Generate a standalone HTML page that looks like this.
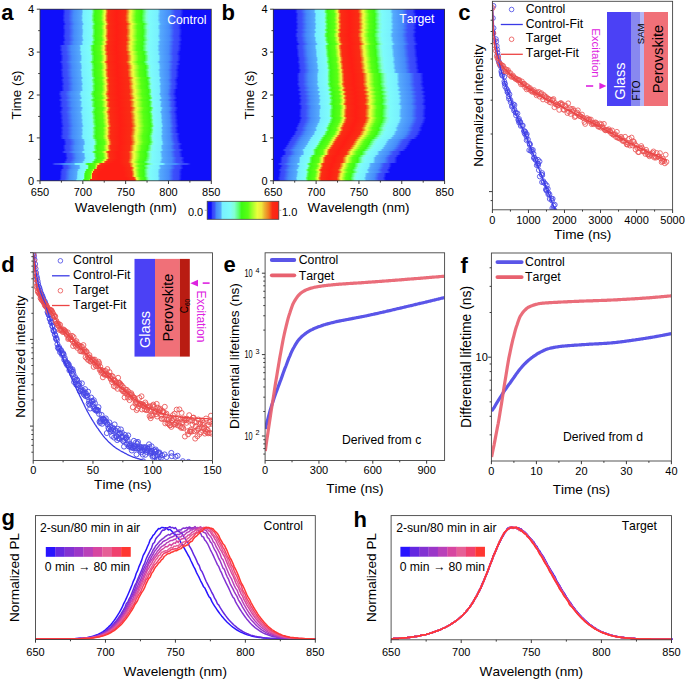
<!DOCTYPE html><html><head><meta charset="utf-8"><style>html,body{margin:0;padding:0;background:#fff;width:685px;height:681px;overflow:hidden}svg{display:block}text{font-family:"Liberation Sans",sans-serif;font-kerning:none}</style></head><body>
<svg width="685" height="681" viewBox="0 0 685 681">
<defs><linearGradient id="gat0" gradientUnits="userSpaceOnUse" x1="-302.6" y1="0" x2="553.9" y2="0"><stop offset="0.4370" stop-color="#0f0ffa"/><stop offset="0.4400" stop-color="#3746fa"/><stop offset="0.4440" stop-color="#3c50fa"/><stop offset="0.4500" stop-color="#468cfa"/><stop offset="0.4590" stop-color="#55aafc"/><stop offset="0.4610" stop-color="#78f0ff"/><stop offset="0.4700" stop-color="#7dfcfa"/><stop offset="0.4713" stop-color="#82ffd2"/><stop offset="0.4726" stop-color="#5aff6e"/><stop offset="0.4746" stop-color="#3cfa14"/><stop offset="0.4820" stop-color="#5aff14"/><stop offset="0.4837" stop-color="#96ff28"/><stop offset="0.4860" stop-color="#ebff3c"/><stop offset="0.4869" stop-color="#f0e63c"/><stop offset="0.4875" stop-color="#ebb432"/><stop offset="0.4884" stop-color="#f0781e"/><stop offset="0.4901" stop-color="#fa2d14"/><stop offset="0.5000" stop-color="#ff1e14"/><stop offset="0.5000" stop-color="#ff1e14"/><stop offset="0.5103" stop-color="#fa2d14"/><stop offset="0.5125" stop-color="#f0781e"/><stop offset="0.5140" stop-color="#ebb432"/><stop offset="0.5151" stop-color="#f0e63c"/><stop offset="0.5167" stop-color="#ebff3c"/><stop offset="0.5202" stop-color="#96ff28"/><stop offset="0.5230" stop-color="#5aff14"/><stop offset="0.5293" stop-color="#3cfa14"/><stop offset="0.5317" stop-color="#5aff6e"/><stop offset="0.5349" stop-color="#82ffd2"/><stop offset="0.5380" stop-color="#7dfcfa"/><stop offset="0.5480" stop-color="#78f0ff"/><stop offset="0.5510" stop-color="#55aafc"/><stop offset="0.5620" stop-color="#468cfa"/><stop offset="0.5680" stop-color="#3c50fa"/><stop offset="0.5740" stop-color="#3746fa"/><stop offset="0.5780" stop-color="#0f0ffa"/></linearGradient><linearGradient id="ga0" href="#gat0" gradientTransform="translate(-8.98 0)"/><linearGradient id="ga1" href="#gat0" gradientTransform="translate(-8.81 0)"/><linearGradient id="ga2" href="#gat0" gradientTransform="translate(-9.08 0)"/><linearGradient id="ga3" href="#gat0" gradientTransform="translate(-9.38 0)"/><linearGradient id="ga4" href="#gat0" gradientTransform="translate(-9.14 0)"/><linearGradient id="ga5" href="#gat0" gradientTransform="translate(-9.39 0)"/><linearGradient id="ga6" href="#gat0" gradientTransform="translate(-8.83 0)"/><linearGradient id="gat1" gradientUnits="userSpaceOnUse" x1="-302.6" y1="0" x2="553.9" y2="0"><stop offset="0.4370" stop-color="#0f0ffa"/><stop offset="0.4400" stop-color="#3746fa"/><stop offset="0.4440" stop-color="#3c50fa"/><stop offset="0.4500" stop-color="#468cfa"/><stop offset="0.4590" stop-color="#55aafc"/><stop offset="0.4610" stop-color="#78f0ff"/><stop offset="0.4700" stop-color="#7dfcfa"/><stop offset="0.4713" stop-color="#82ffd2"/><stop offset="0.4726" stop-color="#5aff6e"/><stop offset="0.4746" stop-color="#3cfa14"/><stop offset="0.4820" stop-color="#5aff14"/><stop offset="0.4837" stop-color="#96ff28"/><stop offset="0.4860" stop-color="#ebff3c"/><stop offset="0.4869" stop-color="#f0e63c"/><stop offset="0.4875" stop-color="#ebb432"/><stop offset="0.4884" stop-color="#f0781e"/><stop offset="0.4901" stop-color="#fa2d14"/><stop offset="0.5000" stop-color="#ff1e14"/><stop offset="0.5000" stop-color="#ff1e14"/><stop offset="0.5109" stop-color="#fa2d14"/><stop offset="0.5131" stop-color="#f0781e"/><stop offset="0.5146" stop-color="#ebb432"/><stop offset="0.5157" stop-color="#f0e63c"/><stop offset="0.5174" stop-color="#ebff3c"/><stop offset="0.5211" stop-color="#96ff28"/><stop offset="0.5240" stop-color="#5aff14"/><stop offset="0.5305" stop-color="#3cfa14"/><stop offset="0.5329" stop-color="#5aff6e"/><stop offset="0.5356" stop-color="#82ffd2"/><stop offset="0.5384" stop-color="#7dfcfa"/><stop offset="0.5480" stop-color="#78f0ff"/><stop offset="0.5508" stop-color="#55aafc"/><stop offset="0.5612" stop-color="#468cfa"/><stop offset="0.5668" stop-color="#3c50fa"/><stop offset="0.5720" stop-color="#3746fa"/><stop offset="0.5760" stop-color="#0f0ffa"/></linearGradient><linearGradient id="ga7" href="#gat1" gradientTransform="translate(-8.16 0)"/><linearGradient id="ga8" href="#gat1" gradientTransform="translate(-9.08 0)"/><linearGradient id="ga9" href="#gat1" gradientTransform="translate(-9.12 0)"/><linearGradient id="ga10" href="#gat1" gradientTransform="translate(-8.53 0)"/><linearGradient id="ga11" href="#gat1" gradientTransform="translate(-8.58 0)"/><linearGradient id="ga12" href="#gat1" gradientTransform="translate(-8.69 0)"/><linearGradient id="ga13" href="#gat1" gradientTransform="translate(-9.20 0)"/><linearGradient id="ga14" href="#gat1" gradientTransform="translate(-8.72 0)"/><linearGradient id="ga15" href="#gat1" gradientTransform="translate(-8.33 0)"/><linearGradient id="ga16" href="#gat1" gradientTransform="translate(-9.36 0)"/><linearGradient id="ga17" href="#gat1" gradientTransform="translate(-8.88 0)"/><linearGradient id="gat2" gradientUnits="userSpaceOnUse" x1="-302.6" y1="0" x2="553.9" y2="0"><stop offset="0.4338" stop-color="#0f0ffa"/><stop offset="0.4370" stop-color="#3746fa"/><stop offset="0.4412" stop-color="#3c50fa"/><stop offset="0.4475" stop-color="#468cfa"/><stop offset="0.4570" stop-color="#55aafc"/><stop offset="0.4590" stop-color="#78f0ff"/><stop offset="0.4685" stop-color="#7dfcfa"/><stop offset="0.4699" stop-color="#82ffd2"/><stop offset="0.4712" stop-color="#5aff6e"/><stop offset="0.4734" stop-color="#3cfa14"/><stop offset="0.4811" stop-color="#5aff14"/><stop offset="0.4829" stop-color="#96ff28"/><stop offset="0.4853" stop-color="#ebff3c"/><stop offset="0.4862" stop-color="#f0e63c"/><stop offset="0.4869" stop-color="#ebb432"/><stop offset="0.4878" stop-color="#f0781e"/><stop offset="0.4896" stop-color="#fa2d14"/><stop offset="0.5000" stop-color="#ff1e14"/><stop offset="0.5000" stop-color="#ff1e14"/><stop offset="0.5109" stop-color="#fa2d14"/><stop offset="0.5131" stop-color="#f0781e"/><stop offset="0.5146" stop-color="#ebb432"/><stop offset="0.5157" stop-color="#f0e63c"/><stop offset="0.5174" stop-color="#ebff3c"/><stop offset="0.5211" stop-color="#96ff28"/><stop offset="0.5240" stop-color="#5aff14"/><stop offset="0.5305" stop-color="#3cfa14"/><stop offset="0.5329" stop-color="#5aff6e"/><stop offset="0.5356" stop-color="#82ffd2"/><stop offset="0.5384" stop-color="#7dfcfa"/><stop offset="0.5480" stop-color="#78f0ff"/><stop offset="0.5508" stop-color="#55aafc"/><stop offset="0.5612" stop-color="#468cfa"/><stop offset="0.5668" stop-color="#3c50fa"/><stop offset="0.5720" stop-color="#3746fa"/><stop offset="0.5760" stop-color="#0f0ffa"/></linearGradient><linearGradient id="ga18" href="#gat2" gradientTransform="translate(-9.60 0)"/><linearGradient id="ga19" href="#gat2" gradientTransform="translate(-9.27 0)"/><linearGradient id="ga20" href="#gat2" gradientTransform="translate(-9.53 0)"/><linearGradient id="gat3" gradientUnits="userSpaceOnUse" x1="-302.6" y1="0" x2="553.9" y2="0"><stop offset="0.4338" stop-color="#0f0ffa"/><stop offset="0.4370" stop-color="#3746fa"/><stop offset="0.4412" stop-color="#3c50fa"/><stop offset="0.4475" stop-color="#468cfa"/><stop offset="0.4570" stop-color="#55aafc"/><stop offset="0.4590" stop-color="#78f0ff"/><stop offset="0.4685" stop-color="#7dfcfa"/><stop offset="0.4699" stop-color="#82ffd2"/><stop offset="0.4712" stop-color="#5aff6e"/><stop offset="0.4734" stop-color="#3cfa14"/><stop offset="0.4811" stop-color="#5aff14"/><stop offset="0.4829" stop-color="#96ff28"/><stop offset="0.4853" stop-color="#ebff3c"/><stop offset="0.4862" stop-color="#f0e63c"/><stop offset="0.4869" stop-color="#ebb432"/><stop offset="0.4878" stop-color="#f0781e"/><stop offset="0.4896" stop-color="#fa2d14"/><stop offset="0.5000" stop-color="#ff1e14"/><stop offset="0.5000" stop-color="#ff1e14"/><stop offset="0.5114" stop-color="#fa2d14"/><stop offset="0.5137" stop-color="#f0781e"/><stop offset="0.5152" stop-color="#ebb432"/><stop offset="0.5163" stop-color="#f0e63c"/><stop offset="0.5180" stop-color="#ebff3c"/><stop offset="0.5220" stop-color="#96ff28"/><stop offset="0.5250" stop-color="#5aff14"/><stop offset="0.5317" stop-color="#3cfa14"/><stop offset="0.5340" stop-color="#5aff6e"/><stop offset="0.5364" stop-color="#82ffd2"/><stop offset="0.5388" stop-color="#7dfcfa"/><stop offset="0.5480" stop-color="#78f0ff"/><stop offset="0.5506" stop-color="#55aafc"/><stop offset="0.5604" stop-color="#468cfa"/><stop offset="0.5656" stop-color="#3c50fa"/><stop offset="0.5700" stop-color="#3746fa"/><stop offset="0.5740" stop-color="#0f0ffa"/></linearGradient><linearGradient id="ga21" href="#gat3" gradientTransform="translate(-8.69 0)"/><linearGradient id="ga22" href="#gat3" gradientTransform="translate(-9.16 0)"/><linearGradient id="ga23" href="#gat3" gradientTransform="translate(-8.31 0)"/><linearGradient id="ga24" href="#gat3" gradientTransform="translate(-8.31 0)"/><linearGradient id="ga25" href="#gat3" gradientTransform="translate(-8.42 0)"/><linearGradient id="ga26" href="#gat3" gradientTransform="translate(-9.56 0)"/><linearGradient id="ga27" href="#gat3" gradientTransform="translate(-8.48 0)"/><linearGradient id="gat4" gradientUnits="userSpaceOnUse" x1="-302.6" y1="0" x2="553.9" y2="0"><stop offset="0.4338" stop-color="#0f0ffa"/><stop offset="0.4370" stop-color="#3746fa"/><stop offset="0.4412" stop-color="#3c50fa"/><stop offset="0.4475" stop-color="#468cfa"/><stop offset="0.4570" stop-color="#55aafc"/><stop offset="0.4590" stop-color="#78f0ff"/><stop offset="0.4685" stop-color="#7dfcfa"/><stop offset="0.4699" stop-color="#82ffd2"/><stop offset="0.4712" stop-color="#5aff6e"/><stop offset="0.4734" stop-color="#3cfa14"/><stop offset="0.4811" stop-color="#5aff14"/><stop offset="0.4829" stop-color="#96ff28"/><stop offset="0.4853" stop-color="#ebff3c"/><stop offset="0.4862" stop-color="#f0e63c"/><stop offset="0.4869" stop-color="#ebb432"/><stop offset="0.4878" stop-color="#f0781e"/><stop offset="0.4896" stop-color="#fa2d14"/><stop offset="0.5000" stop-color="#ff1e14"/><stop offset="0.5000" stop-color="#ff1e14"/><stop offset="0.5120" stop-color="#fa2d14"/><stop offset="0.5143" stop-color="#f0781e"/><stop offset="0.5158" stop-color="#ebb432"/><stop offset="0.5170" stop-color="#f0e63c"/><stop offset="0.5187" stop-color="#ebff3c"/><stop offset="0.5228" stop-color="#96ff28"/><stop offset="0.5260" stop-color="#5aff14"/><stop offset="0.5329" stop-color="#3cfa14"/><stop offset="0.5352" stop-color="#5aff6e"/><stop offset="0.5372" stop-color="#82ffd2"/><stop offset="0.5392" stop-color="#7dfcfa"/><stop offset="0.5480" stop-color="#78f0ff"/><stop offset="0.5504" stop-color="#55aafc"/><stop offset="0.5596" stop-color="#468cfa"/><stop offset="0.5644" stop-color="#3c50fa"/><stop offset="0.5680" stop-color="#3746fa"/><stop offset="0.5720" stop-color="#0f0ffa"/></linearGradient><linearGradient id="ga28" href="#gat4" gradientTransform="translate(-8.17 0)"/><linearGradient id="ga29" href="#gat4" gradientTransform="translate(-8.03 0)"/><linearGradient id="ga30" href="#gat4" gradientTransform="translate(-8.81 0)"/><linearGradient id="ga31" href="#gat4" gradientTransform="translate(-8.21 0)"/><linearGradient id="ga32" href="#gat4" gradientTransform="translate(-8.41 0)"/><linearGradient id="ga33" href="#gat4" gradientTransform="translate(-8.26 0)"/><linearGradient id="gat5" gradientUnits="userSpaceOnUse" x1="-302.6" y1="0" x2="553.9" y2="0"><stop offset="0.4338" stop-color="#0f0ffa"/><stop offset="0.4370" stop-color="#3746fa"/><stop offset="0.4412" stop-color="#3c50fa"/><stop offset="0.4475" stop-color="#468cfa"/><stop offset="0.4570" stop-color="#55aafc"/><stop offset="0.4590" stop-color="#78f0ff"/><stop offset="0.4685" stop-color="#7dfcfa"/><stop offset="0.4699" stop-color="#82ffd2"/><stop offset="0.4712" stop-color="#5aff6e"/><stop offset="0.4734" stop-color="#3cfa14"/><stop offset="0.4811" stop-color="#5aff14"/><stop offset="0.4829" stop-color="#96ff28"/><stop offset="0.4853" stop-color="#ebff3c"/><stop offset="0.4862" stop-color="#f0e63c"/><stop offset="0.4869" stop-color="#ebb432"/><stop offset="0.4878" stop-color="#f0781e"/><stop offset="0.4896" stop-color="#fa2d14"/><stop offset="0.5000" stop-color="#ff1e14"/><stop offset="0.5000" stop-color="#ff1e14"/><stop offset="0.5125" stop-color="#fa2d14"/><stop offset="0.5149" stop-color="#f0781e"/><stop offset="0.5164" stop-color="#ebb432"/><stop offset="0.5176" stop-color="#f0e63c"/><stop offset="0.5194" stop-color="#ebff3c"/><stop offset="0.5236" stop-color="#96ff28"/><stop offset="0.5270" stop-color="#5aff14"/><stop offset="0.5342" stop-color="#3cfa14"/><stop offset="0.5363" stop-color="#5aff6e"/><stop offset="0.5379" stop-color="#82ffd2"/><stop offset="0.5396" stop-color="#7dfcfa"/><stop offset="0.5480" stop-color="#78f0ff"/><stop offset="0.5502" stop-color="#55aafc"/><stop offset="0.5588" stop-color="#468cfa"/><stop offset="0.5632" stop-color="#3c50fa"/><stop offset="0.5660" stop-color="#3746fa"/><stop offset="0.5700" stop-color="#0f0ffa"/></linearGradient><linearGradient id="ga34" href="#gat5" gradientTransform="translate(-7.24 0)"/><linearGradient id="ga35" href="#gat5" gradientTransform="translate(-8.14 0)"/><linearGradient id="ga36" href="#gat5" gradientTransform="translate(-7.69 0)"/><linearGradient id="ga37" href="#gat5" gradientTransform="translate(-7.15 0)"/><linearGradient id="ga38" href="#gat5" gradientTransform="translate(-7.85 0)"/><linearGradient id="ga39" href="#gat5" gradientTransform="translate(-7.55 0)"/><linearGradient id="gat6" gradientUnits="userSpaceOnUse" x1="-302.6" y1="0" x2="553.9" y2="0"><stop offset="0.4338" stop-color="#0f0ffa"/><stop offset="0.4370" stop-color="#3746fa"/><stop offset="0.4412" stop-color="#3c50fa"/><stop offset="0.4475" stop-color="#468cfa"/><stop offset="0.4570" stop-color="#55aafc"/><stop offset="0.4590" stop-color="#78f0ff"/><stop offset="0.4685" stop-color="#7dfcfa"/><stop offset="0.4699" stop-color="#82ffd2"/><stop offset="0.4712" stop-color="#5aff6e"/><stop offset="0.4734" stop-color="#3cfa14"/><stop offset="0.4811" stop-color="#5aff14"/><stop offset="0.4829" stop-color="#96ff28"/><stop offset="0.4853" stop-color="#ebff3c"/><stop offset="0.4862" stop-color="#f0e63c"/><stop offset="0.4869" stop-color="#ebb432"/><stop offset="0.4878" stop-color="#f0781e"/><stop offset="0.4896" stop-color="#fa2d14"/><stop offset="0.5000" stop-color="#ff1e14"/><stop offset="0.5000" stop-color="#ff1e14"/><stop offset="0.5130" stop-color="#fa2d14"/><stop offset="0.5155" stop-color="#f0781e"/><stop offset="0.5170" stop-color="#ebb432"/><stop offset="0.5182" stop-color="#f0e63c"/><stop offset="0.5201" stop-color="#ebff3c"/><stop offset="0.5245" stop-color="#96ff28"/><stop offset="0.5280" stop-color="#5aff14"/><stop offset="0.5354" stop-color="#3cfa14"/><stop offset="0.5374" stop-color="#5aff6e"/><stop offset="0.5387" stop-color="#82ffd2"/><stop offset="0.5400" stop-color="#7dfcfa"/><stop offset="0.5480" stop-color="#78f0ff"/><stop offset="0.5500" stop-color="#55aafc"/><stop offset="0.5580" stop-color="#468cfa"/><stop offset="0.5620" stop-color="#3c50fa"/><stop offset="0.5640" stop-color="#3746fa"/><stop offset="0.5680" stop-color="#0f0ffa"/></linearGradient><linearGradient id="ga40" href="#gat6" gradientTransform="translate(-7.37 0)"/><linearGradient id="gat7" gradientUnits="userSpaceOnUse" x1="-302.6" y1="0" x2="553.9" y2="0"><stop offset="0.4307" stop-color="#0f0ffa"/><stop offset="0.4340" stop-color="#3746fa"/><stop offset="0.4384" stop-color="#3c50fa"/><stop offset="0.4450" stop-color="#468cfa"/><stop offset="0.4549" stop-color="#55aafc"/><stop offset="0.4571" stop-color="#78f0ff"/><stop offset="0.4670" stop-color="#7dfcfa"/><stop offset="0.4684" stop-color="#82ffd2"/><stop offset="0.4698" stop-color="#5aff6e"/><stop offset="0.4721" stop-color="#3cfa14"/><stop offset="0.4802" stop-color="#5aff14"/><stop offset="0.4821" stop-color="#96ff28"/><stop offset="0.4846" stop-color="#ebff3c"/><stop offset="0.4856" stop-color="#f0e63c"/><stop offset="0.4862" stop-color="#ebb432"/><stop offset="0.4872" stop-color="#f0781e"/><stop offset="0.4891" stop-color="#fa2d14"/><stop offset="0.5000" stop-color="#ff1e14"/><stop offset="0.5000" stop-color="#ff1e14"/><stop offset="0.5130" stop-color="#fa2d14"/><stop offset="0.5155" stop-color="#f0781e"/><stop offset="0.5170" stop-color="#ebb432"/><stop offset="0.5182" stop-color="#f0e63c"/><stop offset="0.5201" stop-color="#ebff3c"/><stop offset="0.5245" stop-color="#96ff28"/><stop offset="0.5280" stop-color="#5aff14"/><stop offset="0.5354" stop-color="#3cfa14"/><stop offset="0.5374" stop-color="#5aff6e"/><stop offset="0.5387" stop-color="#82ffd2"/><stop offset="0.5400" stop-color="#7dfcfa"/><stop offset="0.5480" stop-color="#78f0ff"/><stop offset="0.5500" stop-color="#55aafc"/><stop offset="0.5580" stop-color="#468cfa"/><stop offset="0.5620" stop-color="#3c50fa"/><stop offset="0.5640" stop-color="#3746fa"/><stop offset="0.5680" stop-color="#0f0ffa"/></linearGradient><linearGradient id="ga41" href="#gat7" gradientTransform="translate(-7.34 0)"/><linearGradient id="ga42" href="#gat7" gradientTransform="translate(-7.94 0)"/><linearGradient id="ga43" href="#gat7" gradientTransform="translate(-7.19 0)"/><linearGradient id="ga44" href="#gat7" gradientTransform="translate(-6.43 0)"/><linearGradient id="ga45" href="#gat7" gradientTransform="translate(-7.83 0)"/><linearGradient id="ga46" href="#gat7" gradientTransform="translate(-6.49 0)"/><linearGradient id="ga47" href="#gat7" gradientTransform="translate(-6.77 0)"/><linearGradient id="ga48" href="#gat7" gradientTransform="translate(-7.06 0)"/><linearGradient id="ga49" href="#gat7" gradientTransform="translate(-5.60 0)"/><linearGradient id="ga50" href="#gat7" gradientTransform="translate(-6.14 0)"/><linearGradient id="ga51" href="#gat7" gradientTransform="translate(-7.05 0)"/><linearGradient id="ga52" href="#gat7" gradientTransform="translate(-6.30 0)"/><linearGradient id="ga53" href="#gat7" gradientTransform="translate(-5.94 0)"/><linearGradient id="ga54" href="#gat7" gradientTransform="translate(-6.23 0)"/><linearGradient id="ga55" href="#gat7" gradientTransform="translate(-5.68 0)"/><linearGradient id="ga56" href="#gat7" gradientTransform="translate(-5.97 0)"/><linearGradient id="ga57" href="#gat7" gradientTransform="translate(-5.49 0)"/><linearGradient id="ga58" href="#gat7" gradientTransform="translate(-5.00 0)"/><linearGradient id="ga59" href="#gat7" gradientTransform="translate(-5.98 0)"/><linearGradient id="ga60" href="#gat7" gradientTransform="translate(-5.46 0)"/><linearGradient id="ga61" href="#gat7" gradientTransform="translate(-5.81 0)"/><linearGradient id="gat8" gradientUnits="userSpaceOnUse" x1="-302.6" y1="0" x2="553.9" y2="0"><stop offset="0.4307" stop-color="#0f0ffa"/><stop offset="0.4340" stop-color="#3746fa"/><stop offset="0.4384" stop-color="#3c50fa"/><stop offset="0.4450" stop-color="#468cfa"/><stop offset="0.4549" stop-color="#55aafc"/><stop offset="0.4571" stop-color="#78f0ff"/><stop offset="0.4670" stop-color="#7dfcfa"/><stop offset="0.4684" stop-color="#82ffd2"/><stop offset="0.4698" stop-color="#5aff6e"/><stop offset="0.4721" stop-color="#3cfa14"/><stop offset="0.4802" stop-color="#5aff14"/><stop offset="0.4821" stop-color="#96ff28"/><stop offset="0.4846" stop-color="#ebff3c"/><stop offset="0.4856" stop-color="#f0e63c"/><stop offset="0.4862" stop-color="#ebb432"/><stop offset="0.4872" stop-color="#f0781e"/><stop offset="0.4891" stop-color="#fa2d14"/><stop offset="0.5000" stop-color="#ff1e14"/><stop offset="0.5000" stop-color="#ff1e14"/><stop offset="0.5125" stop-color="#fa2d14"/><stop offset="0.5149" stop-color="#f0781e"/><stop offset="0.5164" stop-color="#ebb432"/><stop offset="0.5176" stop-color="#f0e63c"/><stop offset="0.5194" stop-color="#ebff3c"/><stop offset="0.5236" stop-color="#96ff28"/><stop offset="0.5270" stop-color="#5aff14"/><stop offset="0.5342" stop-color="#3cfa14"/><stop offset="0.5363" stop-color="#5aff6e"/><stop offset="0.5379" stop-color="#82ffd2"/><stop offset="0.5396" stop-color="#7dfcfa"/><stop offset="0.5480" stop-color="#78f0ff"/><stop offset="0.5502" stop-color="#55aafc"/><stop offset="0.5588" stop-color="#468cfa"/><stop offset="0.5632" stop-color="#3c50fa"/><stop offset="0.5660" stop-color="#3746fa"/><stop offset="0.5700" stop-color="#0f0ffa"/></linearGradient><linearGradient id="ga62" href="#gat8" gradientTransform="translate(-5.50 0)"/><linearGradient id="ga63" href="#gat8" gradientTransform="translate(-6.18 0)"/><linearGradient id="ga64" href="#gat8" gradientTransform="translate(-5.86 0)"/><linearGradient id="ga65" href="#gat5" gradientTransform="translate(-5.67 0)"/><linearGradient id="ga66" href="#gat5" gradientTransform="translate(-5.11 0)"/><linearGradient id="ga67" href="#gat4" gradientTransform="translate(-4.98 0)"/><linearGradient id="ga68" href="#gat4" gradientTransform="translate(-6.25 0)"/><linearGradient id="ga69" href="#gat4" gradientTransform="translate(-6.12 0)"/><linearGradient id="ga70" href="#gat3" gradientTransform="translate(-5.57 0)"/><linearGradient id="gat9" gradientUnits="userSpaceOnUse" x1="-302.6" y1="0" x2="553.9" y2="0"><stop offset="0.4338" stop-color="#0f0ffa"/><stop offset="0.4369" stop-color="#3746fa"/><stop offset="0.4411" stop-color="#3c50fa"/><stop offset="0.4473" stop-color="#468cfa"/><stop offset="0.4567" stop-color="#55aafc"/><stop offset="0.4587" stop-color="#78f0ff"/><stop offset="0.4680" stop-color="#7dfcfa"/><stop offset="0.4693" stop-color="#82ffd2"/><stop offset="0.4705" stop-color="#5aff6e"/><stop offset="0.4726" stop-color="#3cfa14"/><stop offset="0.4802" stop-color="#5aff14"/><stop offset="0.4820" stop-color="#96ff28"/><stop offset="0.4842" stop-color="#ebff3c"/><stop offset="0.4851" stop-color="#f0e63c"/><stop offset="0.4857" stop-color="#ebb432"/><stop offset="0.4865" stop-color="#f0781e"/><stop offset="0.4882" stop-color="#fa2d14"/><stop offset="0.4985" stop-color="#ff1e14"/><stop offset="0.5000" stop-color="#ff1e14"/><stop offset="0.5114" stop-color="#fa2d14"/><stop offset="0.5137" stop-color="#f0781e"/><stop offset="0.5152" stop-color="#ebb432"/><stop offset="0.5163" stop-color="#f0e63c"/><stop offset="0.5180" stop-color="#ebff3c"/><stop offset="0.5220" stop-color="#96ff28"/><stop offset="0.5250" stop-color="#5aff14"/><stop offset="0.5317" stop-color="#3cfa14"/><stop offset="0.5340" stop-color="#5aff6e"/><stop offset="0.5364" stop-color="#82ffd2"/><stop offset="0.5388" stop-color="#7dfcfa"/><stop offset="0.5480" stop-color="#78f0ff"/><stop offset="0.5506" stop-color="#55aafc"/><stop offset="0.5604" stop-color="#468cfa"/><stop offset="0.5656" stop-color="#3c50fa"/><stop offset="0.5700" stop-color="#3746fa"/><stop offset="0.5740" stop-color="#0f0ffa"/></linearGradient><linearGradient id="ga71" href="#gat9" gradientTransform="translate(-7.13 0)"/><linearGradient id="gat10" gradientUnits="userSpaceOnUse" x1="-302.6" y1="0" x2="553.9" y2="0"><stop offset="0.4369" stop-color="#0f0ffa"/><stop offset="0.4399" stop-color="#3746fa"/><stop offset="0.4439" stop-color="#3c50fa"/><stop offset="0.4498" stop-color="#468cfa"/><stop offset="0.4587" stop-color="#55aafc"/><stop offset="0.4607" stop-color="#78f0ff"/><stop offset="0.4695" stop-color="#7dfcfa"/><stop offset="0.4707" stop-color="#82ffd2"/><stop offset="0.4719" stop-color="#5aff6e"/><stop offset="0.4739" stop-color="#3cfa14"/><stop offset="0.4811" stop-color="#5aff14"/><stop offset="0.4828" stop-color="#96ff28"/><stop offset="0.4849" stop-color="#ebff3c"/><stop offset="0.4857" stop-color="#f0e63c"/><stop offset="0.4863" stop-color="#ebb432"/><stop offset="0.4871" stop-color="#f0781e"/><stop offset="0.4887" stop-color="#fa2d14"/><stop offset="0.4985" stop-color="#ff1e14"/><stop offset="0.5000" stop-color="#ff1e14"/><stop offset="0.5114" stop-color="#fa2d14"/><stop offset="0.5137" stop-color="#f0781e"/><stop offset="0.5152" stop-color="#ebb432"/><stop offset="0.5163" stop-color="#f0e63c"/><stop offset="0.5180" stop-color="#ebff3c"/><stop offset="0.5220" stop-color="#96ff28"/><stop offset="0.5250" stop-color="#5aff14"/><stop offset="0.5317" stop-color="#3cfa14"/><stop offset="0.5340" stop-color="#5aff6e"/><stop offset="0.5364" stop-color="#82ffd2"/><stop offset="0.5388" stop-color="#7dfcfa"/><stop offset="0.5480" stop-color="#78f0ff"/><stop offset="0.5506" stop-color="#55aafc"/><stop offset="0.5604" stop-color="#468cfa"/><stop offset="0.5656" stop-color="#3c50fa"/><stop offset="0.5700" stop-color="#3746fa"/><stop offset="0.5740" stop-color="#0f0ffa"/></linearGradient><linearGradient id="ga72" href="#gat10" gradientTransform="translate(-6.54 0)"/><linearGradient id="ga73" href="#gat10" gradientTransform="translate(-6.55 0)"/><linearGradient id="gat11" gradientUnits="userSpaceOnUse" x1="-302.6" y1="0" x2="553.9" y2="0"><stop offset="0.4369" stop-color="#0f0ffa"/><stop offset="0.4399" stop-color="#3746fa"/><stop offset="0.4439" stop-color="#3c50fa"/><stop offset="0.4498" stop-color="#468cfa"/><stop offset="0.4587" stop-color="#55aafc"/><stop offset="0.4607" stop-color="#78f0ff"/><stop offset="0.4695" stop-color="#7dfcfa"/><stop offset="0.4707" stop-color="#82ffd2"/><stop offset="0.4719" stop-color="#5aff6e"/><stop offset="0.4739" stop-color="#3cfa14"/><stop offset="0.4811" stop-color="#5aff14"/><stop offset="0.4828" stop-color="#96ff28"/><stop offset="0.4849" stop-color="#ebff3c"/><stop offset="0.4857" stop-color="#f0e63c"/><stop offset="0.4863" stop-color="#ebb432"/><stop offset="0.4871" stop-color="#f0781e"/><stop offset="0.4887" stop-color="#fa2d14"/><stop offset="0.4985" stop-color="#ff1e14"/><stop offset="0.5000" stop-color="#ff1e14"/><stop offset="0.5109" stop-color="#fa2d14"/><stop offset="0.5131" stop-color="#f0781e"/><stop offset="0.5146" stop-color="#ebb432"/><stop offset="0.5157" stop-color="#f0e63c"/><stop offset="0.5174" stop-color="#ebff3c"/><stop offset="0.5211" stop-color="#96ff28"/><stop offset="0.5240" stop-color="#5aff14"/><stop offset="0.5305" stop-color="#3cfa14"/><stop offset="0.5329" stop-color="#5aff6e"/><stop offset="0.5356" stop-color="#82ffd2"/><stop offset="0.5384" stop-color="#7dfcfa"/><stop offset="0.5480" stop-color="#78f0ff"/><stop offset="0.5508" stop-color="#55aafc"/><stop offset="0.5612" stop-color="#468cfa"/><stop offset="0.5668" stop-color="#3c50fa"/><stop offset="0.5720" stop-color="#3746fa"/><stop offset="0.5760" stop-color="#0f0ffa"/></linearGradient><linearGradient id="ga74" href="#gat11" gradientTransform="translate(-6.06 0)"/><linearGradient id="gat12" gradientUnits="userSpaceOnUse" x1="-302.6" y1="0" x2="553.9" y2="0"><stop offset="0.4368" stop-color="#0f0ffa"/><stop offset="0.4398" stop-color="#3746fa"/><stop offset="0.4437" stop-color="#3c50fa"/><stop offset="0.4496" stop-color="#468cfa"/><stop offset="0.4584" stop-color="#55aafc"/><stop offset="0.4604" stop-color="#78f0ff"/><stop offset="0.4690" stop-color="#7dfcfa"/><stop offset="0.4701" stop-color="#82ffd2"/><stop offset="0.4713" stop-color="#5aff6e"/><stop offset="0.4732" stop-color="#3cfa14"/><stop offset="0.4803" stop-color="#5aff14"/><stop offset="0.4819" stop-color="#96ff28"/><stop offset="0.4839" stop-color="#ebff3c"/><stop offset="0.4846" stop-color="#f0e63c"/><stop offset="0.4851" stop-color="#ebb432"/><stop offset="0.4858" stop-color="#f0781e"/><stop offset="0.4874" stop-color="#fa2d14"/><stop offset="0.4970" stop-color="#ff1e14"/><stop offset="0.5000" stop-color="#ff1e14"/><stop offset="0.5109" stop-color="#fa2d14"/><stop offset="0.5131" stop-color="#f0781e"/><stop offset="0.5146" stop-color="#ebb432"/><stop offset="0.5157" stop-color="#f0e63c"/><stop offset="0.5174" stop-color="#ebff3c"/><stop offset="0.5211" stop-color="#96ff28"/><stop offset="0.5240" stop-color="#5aff14"/><stop offset="0.5305" stop-color="#3cfa14"/><stop offset="0.5329" stop-color="#5aff6e"/><stop offset="0.5356" stop-color="#82ffd2"/><stop offset="0.5384" stop-color="#7dfcfa"/><stop offset="0.5480" stop-color="#78f0ff"/><stop offset="0.5508" stop-color="#55aafc"/><stop offset="0.5612" stop-color="#468cfa"/><stop offset="0.5668" stop-color="#3c50fa"/><stop offset="0.5720" stop-color="#3746fa"/><stop offset="0.5760" stop-color="#0f0ffa"/></linearGradient><linearGradient id="ga75" href="#gat12" gradientTransform="translate(-6.62 0)"/><linearGradient id="gat13" gradientUnits="userSpaceOnUse" x1="-302.6" y1="0" x2="553.9" y2="0"><stop offset="0.4368" stop-color="#0f0ffa"/><stop offset="0.4397" stop-color="#3746fa"/><stop offset="0.4435" stop-color="#3c50fa"/><stop offset="0.4494" stop-color="#468cfa"/><stop offset="0.4581" stop-color="#55aafc"/><stop offset="0.4601" stop-color="#78f0ff"/><stop offset="0.4686" stop-color="#7dfcfa"/><stop offset="0.4696" stop-color="#82ffd2"/><stop offset="0.4706" stop-color="#5aff6e"/><stop offset="0.4725" stop-color="#3cfa14"/><stop offset="0.4794" stop-color="#5aff14"/><stop offset="0.4810" stop-color="#96ff28"/><stop offset="0.4828" stop-color="#ebff3c"/><stop offset="0.4835" stop-color="#f0e63c"/><stop offset="0.4839" stop-color="#ebb432"/><stop offset="0.4845" stop-color="#f0781e"/><stop offset="0.4860" stop-color="#fa2d14"/><stop offset="0.4955" stop-color="#ff1e14"/><stop offset="0.5015" stop-color="#ff1e14"/><stop offset="0.5117" stop-color="#fa2d14"/><stop offset="0.5138" stop-color="#f0781e"/><stop offset="0.5152" stop-color="#ebb432"/><stop offset="0.5162" stop-color="#f0e63c"/><stop offset="0.5177" stop-color="#ebff3c"/><stop offset="0.5212" stop-color="#96ff28"/><stop offset="0.5239" stop-color="#5aff14"/><stop offset="0.5300" stop-color="#3cfa14"/><stop offset="0.5324" stop-color="#5aff6e"/><stop offset="0.5354" stop-color="#82ffd2"/><stop offset="0.5385" stop-color="#7dfcfa"/><stop offset="0.5483" stop-color="#78f0ff"/><stop offset="0.5513" stop-color="#55aafc"/><stop offset="0.5622" stop-color="#468cfa"/><stop offset="0.5681" stop-color="#3c50fa"/><stop offset="0.5741" stop-color="#3746fa"/><stop offset="0.5781" stop-color="#0f0ffa"/></linearGradient><linearGradient id="ga76" href="#gat13" gradientTransform="translate(-7.64 0)"/><linearGradient id="gat14" gradientUnits="userSpaceOnUse" x1="-302.6" y1="0" x2="553.9" y2="0"><stop offset="0.4240" stop-color="#0f0ffa"/><stop offset="0.4274" stop-color="#3746fa"/><stop offset="0.4320" stop-color="#3c50fa"/><stop offset="0.4390" stop-color="#468cfa"/><stop offset="0.4494" stop-color="#55aafc"/><stop offset="0.4516" stop-color="#78f0ff"/><stop offset="0.4616" stop-color="#7dfcfa"/><stop offset="0.4627" stop-color="#82ffd2"/><stop offset="0.4638" stop-color="#5aff6e"/><stop offset="0.4660" stop-color="#3cfa14"/><stop offset="0.4741" stop-color="#5aff14"/><stop offset="0.4758" stop-color="#96ff28"/><stop offset="0.4779" stop-color="#ebff3c"/><stop offset="0.4786" stop-color="#f0e63c"/><stop offset="0.4790" stop-color="#ebb432"/><stop offset="0.4796" stop-color="#f0781e"/><stop offset="0.4813" stop-color="#fa2d14"/><stop offset="0.4925" stop-color="#ff1e14"/><stop offset="0.5030" stop-color="#ff1e14"/><stop offset="0.5141" stop-color="#fa2d14"/><stop offset="0.5163" stop-color="#f0781e"/><stop offset="0.5178" stop-color="#ebb432"/><stop offset="0.5189" stop-color="#f0e63c"/><stop offset="0.5205" stop-color="#ebff3c"/><stop offset="0.5241" stop-color="#96ff28"/><stop offset="0.5270" stop-color="#5aff14"/><stop offset="0.5337" stop-color="#3cfa14"/><stop offset="0.5362" stop-color="#5aff6e"/><stop offset="0.5395" stop-color="#82ffd2"/><stop offset="0.5428" stop-color="#7dfcfa"/><stop offset="0.5534" stop-color="#78f0ff"/><stop offset="0.5567" stop-color="#55aafc"/><stop offset="0.5686" stop-color="#468cfa"/><stop offset="0.5751" stop-color="#3c50fa"/><stop offset="0.5816" stop-color="#3746fa"/><stop offset="0.5860" stop-color="#0f0ffa"/></linearGradient><linearGradient id="ga77" href="#gat14" gradientTransform="translate(-8.50 0)"/><linearGradient id="gat15" gradientUnits="userSpaceOnUse" x1="-302.6" y1="0" x2="553.9" y2="0"><stop offset="0.4363" stop-color="#0f0ffa"/><stop offset="0.4391" stop-color="#3746fa"/><stop offset="0.4428" stop-color="#3c50fa"/><stop offset="0.4484" stop-color="#468cfa"/><stop offset="0.4567" stop-color="#55aafc"/><stop offset="0.4585" stop-color="#78f0ff"/><stop offset="0.4662" stop-color="#7dfcfa"/><stop offset="0.4667" stop-color="#82ffd2"/><stop offset="0.4673" stop-color="#5aff6e"/><stop offset="0.4689" stop-color="#3cfa14"/><stop offset="0.4752" stop-color="#5aff14"/><stop offset="0.4763" stop-color="#96ff28"/><stop offset="0.4776" stop-color="#ebff3c"/><stop offset="0.4778" stop-color="#f0e63c"/><stop offset="0.4779" stop-color="#ebb432"/><stop offset="0.4781" stop-color="#f0781e"/><stop offset="0.4792" stop-color="#fa2d14"/><stop offset="0.4880" stop-color="#ff1e14"/><stop offset="0.5060" stop-color="#ff1e14"/><stop offset="0.5158" stop-color="#fa2d14"/><stop offset="0.5177" stop-color="#f0781e"/><stop offset="0.5188" stop-color="#ebb432"/><stop offset="0.5196" stop-color="#f0e63c"/><stop offset="0.5209" stop-color="#ebff3c"/><stop offset="0.5240" stop-color="#96ff28"/><stop offset="0.5264" stop-color="#5aff14"/><stop offset="0.5322" stop-color="#3cfa14"/><stop offset="0.5344" stop-color="#5aff6e"/><stop offset="0.5372" stop-color="#82ffd2"/><stop offset="0.5399" stop-color="#7dfcfa"/><stop offset="0.5493" stop-color="#78f0ff"/><stop offset="0.5521" stop-color="#55aafc"/><stop offset="0.5628" stop-color="#468cfa"/><stop offset="0.5686" stop-color="#3c50fa"/><stop offset="0.5744" stop-color="#3746fa"/><stop offset="0.5783" stop-color="#0f0ffa"/></linearGradient><linearGradient id="ga78" href="#gat15" gradientTransform="translate(-9.56 0)"/><linearGradient id="gat16" gradientUnits="userSpaceOnUse" x1="-302.6" y1="0" x2="553.9" y2="0"><stop offset="0.4363" stop-color="#0f0ffa"/><stop offset="0.4390" stop-color="#3746fa"/><stop offset="0.4426" stop-color="#3c50fa"/><stop offset="0.4482" stop-color="#468cfa"/><stop offset="0.4564" stop-color="#55aafc"/><stop offset="0.4582" stop-color="#78f0ff"/><stop offset="0.4657" stop-color="#7dfcfa"/><stop offset="0.4662" stop-color="#82ffd2"/><stop offset="0.4666" stop-color="#5aff6e"/><stop offset="0.4682" stop-color="#3cfa14"/><stop offset="0.4743" stop-color="#5aff14"/><stop offset="0.4754" stop-color="#96ff28"/><stop offset="0.4765" stop-color="#ebff3c"/><stop offset="0.4766" stop-color="#f0e63c"/><stop offset="0.4767" stop-color="#ebb432"/><stop offset="0.4768" stop-color="#f0781e"/><stop offset="0.4778" stop-color="#fa2d14"/><stop offset="0.4865" stop-color="#ff1e14"/><stop offset="0.5075" stop-color="#ff1e14"/><stop offset="0.5172" stop-color="#fa2d14"/><stop offset="0.5190" stop-color="#f0781e"/><stop offset="0.5200" stop-color="#ebb432"/><stop offset="0.5208" stop-color="#f0e63c"/><stop offset="0.5219" stop-color="#ebff3c"/><stop offset="0.5249" stop-color="#96ff28"/><stop offset="0.5273" stop-color="#5aff14"/><stop offset="0.5329" stop-color="#3cfa14"/><stop offset="0.5350" stop-color="#5aff6e"/><stop offset="0.5377" stop-color="#82ffd2"/><stop offset="0.5404" stop-color="#7dfcfa"/><stop offset="0.5496" stop-color="#78f0ff"/><stop offset="0.5524" stop-color="#55aafc"/><stop offset="0.5630" stop-color="#468cfa"/><stop offset="0.5687" stop-color="#3c50fa"/><stop offset="0.5746" stop-color="#3746fa"/><stop offset="0.5784" stop-color="#0f0ffa"/></linearGradient><linearGradient id="ga79" href="#gat16" gradientTransform="translate(-9.18 0)"/><linearGradient id="gat17" gradientUnits="userSpaceOnUse" x1="-302.6" y1="0" x2="553.9" y2="0"><stop offset="0.4362" stop-color="#0f0ffa"/><stop offset="0.4389" stop-color="#3746fa"/><stop offset="0.4425" stop-color="#3c50fa"/><stop offset="0.4480" stop-color="#468cfa"/><stop offset="0.4561" stop-color="#55aafc"/><stop offset="0.4579" stop-color="#78f0ff"/><stop offset="0.4652" stop-color="#7dfcfa"/><stop offset="0.4656" stop-color="#82ffd2"/><stop offset="0.4660" stop-color="#5aff6e"/><stop offset="0.4674" stop-color="#3cfa14"/><stop offset="0.4735" stop-color="#5aff14"/><stop offset="0.4744" stop-color="#96ff28"/><stop offset="0.4755" stop-color="#ebff3c"/><stop offset="0.4755" stop-color="#f0e63c"/><stop offset="0.4755" stop-color="#ebb432"/><stop offset="0.4755" stop-color="#f0781e"/><stop offset="0.4765" stop-color="#fa2d14"/><stop offset="0.4850" stop-color="#ff1e14"/><stop offset="0.5090" stop-color="#ff1e14"/><stop offset="0.5185" stop-color="#fa2d14"/><stop offset="0.5202" stop-color="#f0781e"/><stop offset="0.5212" stop-color="#ebb432"/><stop offset="0.5219" stop-color="#f0e63c"/><stop offset="0.5230" stop-color="#ebff3c"/><stop offset="0.5258" stop-color="#96ff28"/><stop offset="0.5281" stop-color="#5aff14"/><stop offset="0.5336" stop-color="#3cfa14"/><stop offset="0.5357" stop-color="#5aff6e"/><stop offset="0.5383" stop-color="#82ffd2"/><stop offset="0.5409" stop-color="#7dfcfa"/><stop offset="0.5499" stop-color="#78f0ff"/><stop offset="0.5527" stop-color="#55aafc"/><stop offset="0.5632" stop-color="#468cfa"/><stop offset="0.5689" stop-color="#3c50fa"/><stop offset="0.5747" stop-color="#3746fa"/><stop offset="0.5785" stop-color="#0f0ffa"/></linearGradient><linearGradient id="ga80" href="#gat17" gradientTransform="translate(-10.72 0)"/><linearGradient id="gat18" gradientUnits="userSpaceOnUse" x1="-302.6" y1="0" x2="553.9" y2="0"><stop offset="0.4361" stop-color="#0f0ffa"/><stop offset="0.4388" stop-color="#3746fa"/><stop offset="0.4424" stop-color="#3c50fa"/><stop offset="0.4479" stop-color="#468cfa"/><stop offset="0.4559" stop-color="#55aafc"/><stop offset="0.4575" stop-color="#78f0ff"/><stop offset="0.4647" stop-color="#7dfcfa"/><stop offset="0.4650" stop-color="#82ffd2"/><stop offset="0.4653" stop-color="#5aff6e"/><stop offset="0.4667" stop-color="#3cfa14"/><stop offset="0.4726" stop-color="#5aff14"/><stop offset="0.4735" stop-color="#96ff28"/><stop offset="0.4744" stop-color="#ebff3c"/><stop offset="0.4743" stop-color="#f0e63c"/><stop offset="0.4743" stop-color="#ebb432"/><stop offset="0.4742" stop-color="#f0781e"/><stop offset="0.4751" stop-color="#fa2d14"/><stop offset="0.4835" stop-color="#ff1e14"/><stop offset="0.5105" stop-color="#ff1e14"/><stop offset="0.5199" stop-color="#fa2d14"/><stop offset="0.5215" stop-color="#f0781e"/><stop offset="0.5224" stop-color="#ebb432"/><stop offset="0.5231" stop-color="#f0e63c"/><stop offset="0.5240" stop-color="#ebff3c"/><stop offset="0.5268" stop-color="#96ff28"/><stop offset="0.5290" stop-color="#5aff14"/><stop offset="0.5343" stop-color="#3cfa14"/><stop offset="0.5364" stop-color="#5aff6e"/><stop offset="0.5389" stop-color="#82ffd2"/><stop offset="0.5414" stop-color="#7dfcfa"/><stop offset="0.5502" stop-color="#78f0ff"/><stop offset="0.5530" stop-color="#55aafc"/><stop offset="0.5634" stop-color="#468cfa"/><stop offset="0.5690" stop-color="#3c50fa"/><stop offset="0.5748" stop-color="#3746fa"/><stop offset="0.5786" stop-color="#0f0ffa"/></linearGradient><linearGradient id="ga81" href="#gat18" gradientTransform="translate(-11.18 0)"/><linearGradient id="gat19" gradientUnits="userSpaceOnUse" x1="-302.6" y1="0" x2="553.9" y2="0"><stop offset="0.4360" stop-color="#0f0ffa"/><stop offset="0.4386" stop-color="#3746fa"/><stop offset="0.4422" stop-color="#3c50fa"/><stop offset="0.4477" stop-color="#468cfa"/><stop offset="0.4556" stop-color="#55aafc"/><stop offset="0.4572" stop-color="#78f0ff"/><stop offset="0.4642" stop-color="#7dfcfa"/><stop offset="0.4644" stop-color="#82ffd2"/><stop offset="0.4647" stop-color="#5aff6e"/><stop offset="0.4660" stop-color="#3cfa14"/><stop offset="0.4717" stop-color="#5aff14"/><stop offset="0.4726" stop-color="#96ff28"/><stop offset="0.4734" stop-color="#ebff3c"/><stop offset="0.4732" stop-color="#f0e63c"/><stop offset="0.4731" stop-color="#ebb432"/><stop offset="0.4729" stop-color="#f0781e"/><stop offset="0.4737" stop-color="#fa2d14"/><stop offset="0.4820" stop-color="#ff1e14"/><stop offset="0.5105" stop-color="#ff1e14"/><stop offset="0.5199" stop-color="#fa2d14"/><stop offset="0.5215" stop-color="#f0781e"/><stop offset="0.5224" stop-color="#ebb432"/><stop offset="0.5231" stop-color="#f0e63c"/><stop offset="0.5240" stop-color="#ebff3c"/><stop offset="0.5268" stop-color="#96ff28"/><stop offset="0.5290" stop-color="#5aff14"/><stop offset="0.5343" stop-color="#3cfa14"/><stop offset="0.5364" stop-color="#5aff6e"/><stop offset="0.5389" stop-color="#82ffd2"/><stop offset="0.5414" stop-color="#7dfcfa"/><stop offset="0.5502" stop-color="#78f0ff"/><stop offset="0.5530" stop-color="#55aafc"/><stop offset="0.5634" stop-color="#468cfa"/><stop offset="0.5690" stop-color="#3c50fa"/><stop offset="0.5748" stop-color="#3746fa"/><stop offset="0.5786" stop-color="#0f0ffa"/></linearGradient><linearGradient id="ga82" href="#gat19" gradientTransform="translate(-10.95 0)"/><linearGradient id="ga83" href="#gat19" gradientTransform="translate(-11.20 0)"/><linearGradient id="gat20" gradientUnits="userSpaceOnUse" x1="-302.6" y1="0" x2="553.9" y2="0"><stop offset="0.4360" stop-color="#0f0ffa"/><stop offset="0.4386" stop-color="#3746fa"/><stop offset="0.4422" stop-color="#3c50fa"/><stop offset="0.4477" stop-color="#468cfa"/><stop offset="0.4556" stop-color="#55aafc"/><stop offset="0.4572" stop-color="#78f0ff"/><stop offset="0.4642" stop-color="#7dfcfa"/><stop offset="0.4644" stop-color="#82ffd2"/><stop offset="0.4647" stop-color="#5aff6e"/><stop offset="0.4660" stop-color="#3cfa14"/><stop offset="0.4717" stop-color="#5aff14"/><stop offset="0.4726" stop-color="#96ff28"/><stop offset="0.4734" stop-color="#ebff3c"/><stop offset="0.4732" stop-color="#f0e63c"/><stop offset="0.4731" stop-color="#ebb432"/><stop offset="0.4729" stop-color="#f0781e"/><stop offset="0.4737" stop-color="#fa2d14"/><stop offset="0.4820" stop-color="#ff1e14"/><stop offset="0.5135" stop-color="#ff1e14"/><stop offset="0.5226" stop-color="#fa2d14"/><stop offset="0.5241" stop-color="#f0781e"/><stop offset="0.5248" stop-color="#ebb432"/><stop offset="0.5253" stop-color="#f0e63c"/><stop offset="0.5261" stop-color="#ebff3c"/><stop offset="0.5286" stop-color="#96ff28"/><stop offset="0.5307" stop-color="#5aff14"/><stop offset="0.5358" stop-color="#3cfa14"/><stop offset="0.5377" stop-color="#5aff6e"/><stop offset="0.5400" stop-color="#82ffd2"/><stop offset="0.5423" stop-color="#7dfcfa"/><stop offset="0.5508" stop-color="#78f0ff"/><stop offset="0.5536" stop-color="#55aafc"/><stop offset="0.5638" stop-color="#468cfa"/><stop offset="0.5693" stop-color="#3c50fa"/><stop offset="0.5750" stop-color="#3746fa"/><stop offset="0.5787" stop-color="#0f0ffa"/></linearGradient><linearGradient id="ga84" href="#gat20" gradientTransform="translate(-11.24 0)"/><linearGradient id="gat21" gradientUnits="userSpaceOnUse" x1="-302.6" y1="0" x2="553.9" y2="0"><stop offset="0.4359" stop-color="#0f0ffa"/><stop offset="0.4385" stop-color="#3746fa"/><stop offset="0.4420" stop-color="#3c50fa"/><stop offset="0.4475" stop-color="#468cfa"/><stop offset="0.4553" stop-color="#55aafc"/><stop offset="0.4569" stop-color="#78f0ff"/><stop offset="0.4638" stop-color="#7dfcfa"/><stop offset="0.4639" stop-color="#82ffd2"/><stop offset="0.4640" stop-color="#5aff6e"/><stop offset="0.4653" stop-color="#3cfa14"/><stop offset="0.4709" stop-color="#5aff14"/><stop offset="0.4717" stop-color="#96ff28"/><stop offset="0.4723" stop-color="#ebff3c"/><stop offset="0.4721" stop-color="#f0e63c"/><stop offset="0.4719" stop-color="#ebb432"/><stop offset="0.4716" stop-color="#f0781e"/><stop offset="0.4724" stop-color="#fa2d14"/><stop offset="0.4805" stop-color="#ff1e14"/><stop offset="0.5150" stop-color="#ff1e14"/><stop offset="0.5240" stop-color="#fa2d14"/><stop offset="0.5254" stop-color="#f0781e"/><stop offset="0.5260" stop-color="#ebb432"/><stop offset="0.5265" stop-color="#f0e63c"/><stop offset="0.5272" stop-color="#ebff3c"/><stop offset="0.5295" stop-color="#96ff28"/><stop offset="0.5315" stop-color="#5aff14"/><stop offset="0.5365" stop-color="#3cfa14"/><stop offset="0.5383" stop-color="#5aff6e"/><stop offset="0.5406" stop-color="#82ffd2"/><stop offset="0.5428" stop-color="#7dfcfa"/><stop offset="0.5511" stop-color="#78f0ff"/><stop offset="0.5538" stop-color="#55aafc"/><stop offset="0.5639" stop-color="#468cfa"/><stop offset="0.5695" stop-color="#3c50fa"/><stop offset="0.5751" stop-color="#3746fa"/><stop offset="0.5788" stop-color="#0f0ffa"/></linearGradient><linearGradient id="ga85" href="#gat21" gradientTransform="translate(-11.71 0)"/><linearGradient id="gbt22" gradientUnits="userSpaceOnUse" x1="-69.3" y1="0" x2="787.2" y2="0"><stop offset="0.4370" stop-color="#0f0ffa"/><stop offset="0.4400" stop-color="#3746fa"/><stop offset="0.4440" stop-color="#3c50fa"/><stop offset="0.4500" stop-color="#468cfa"/><stop offset="0.4590" stop-color="#55aafc"/><stop offset="0.4610" stop-color="#78f0ff"/><stop offset="0.4700" stop-color="#7dfcfa"/><stop offset="0.4713" stop-color="#82ffd2"/><stop offset="0.4726" stop-color="#5aff6e"/><stop offset="0.4746" stop-color="#3cfa14"/><stop offset="0.4820" stop-color="#5aff14"/><stop offset="0.4838" stop-color="#96ff28"/><stop offset="0.4860" stop-color="#ebff3c"/><stop offset="0.4869" stop-color="#f0e63c"/><stop offset="0.4875" stop-color="#ebb432"/><stop offset="0.4884" stop-color="#f0781e"/><stop offset="0.4901" stop-color="#fa2d14"/><stop offset="0.5000" stop-color="#ff1e14"/><stop offset="0.5000" stop-color="#ff1e14"/><stop offset="0.5104" stop-color="#fa2d14"/><stop offset="0.5125" stop-color="#f0781e"/><stop offset="0.5140" stop-color="#ebb432"/><stop offset="0.5151" stop-color="#f0e63c"/><stop offset="0.5167" stop-color="#ebff3c"/><stop offset="0.5202" stop-color="#96ff28"/><stop offset="0.5230" stop-color="#5aff14"/><stop offset="0.5293" stop-color="#3cfa14"/><stop offset="0.5317" stop-color="#5aff6e"/><stop offset="0.5349" stop-color="#82ffd2"/><stop offset="0.5380" stop-color="#7dfcfa"/><stop offset="0.5480" stop-color="#78f0ff"/><stop offset="0.5510" stop-color="#55aafc"/><stop offset="0.5620" stop-color="#468cfa"/><stop offset="0.5680" stop-color="#3c50fa"/><stop offset="0.5740" stop-color="#3746fa"/><stop offset="0.5780" stop-color="#0f0ffa"/></linearGradient><linearGradient id="gb0" href="#gbt22" gradientTransform="translate(-9.83 0)"/><linearGradient id="gb1" href="#gbt22" gradientTransform="translate(-9.99 0)"/><linearGradient id="gb2" href="#gbt22" gradientTransform="translate(-9.10 0)"/><linearGradient id="gb3" href="#gbt22" gradientTransform="translate(-9.30 0)"/><linearGradient id="gb4" href="#gbt22" gradientTransform="translate(-9.59 0)"/><linearGradient id="gb5" href="#gbt22" gradientTransform="translate(-9.18 0)"/><linearGradient id="gb6" href="#gbt22" gradientTransform="translate(-9.64 0)"/><linearGradient id="gb7" href="#gbt22" gradientTransform="translate(-8.86 0)"/><linearGradient id="gb8" href="#gbt22" gradientTransform="translate(-9.34 0)"/><linearGradient id="gb9" href="#gbt22" gradientTransform="translate(-8.98 0)"/><linearGradient id="gb10" href="#gbt22" gradientTransform="translate(-9.89 0)"/><linearGradient id="gb11" href="#gbt22" gradientTransform="translate(-8.98 0)"/><linearGradient id="gb12" href="#gbt22" gradientTransform="translate(-9.97 0)"/><linearGradient id="gb13" href="#gbt22" gradientTransform="translate(-10.09 0)"/><linearGradient id="gb14" href="#gbt22" gradientTransform="translate(-9.14 0)"/><linearGradient id="gb15" href="#gbt22" gradientTransform="translate(-9.39 0)"/><linearGradient id="gb16" href="#gbt22" gradientTransform="translate(-8.78 0)"/><linearGradient id="gb17" href="#gbt22" gradientTransform="translate(-7.65 0)"/><linearGradient id="gb18" href="#gbt22" gradientTransform="translate(-9.17 0)"/><linearGradient id="gb19" href="#gbt22" gradientTransform="translate(-9.01 0)"/><linearGradient id="gb20" href="#gbt22" gradientTransform="translate(-8.52 0)"/><linearGradient id="gb21" href="#gbt22" gradientTransform="translate(-8.31 0)"/><linearGradient id="gb22" href="#gbt22" gradientTransform="translate(-8.42 0)"/><linearGradient id="gb23" href="#gbt22" gradientTransform="translate(-8.19 0)"/><linearGradient id="gb24" href="#gbt22" gradientTransform="translate(-7.49 0)"/><linearGradient id="gb25" href="#gbt22" gradientTransform="translate(-7.34 0)"/><linearGradient id="gb26" href="#gbt22" gradientTransform="translate(-7.90 0)"/><linearGradient id="gb27" href="#gbt22" gradientTransform="translate(-7.17 0)"/><linearGradient id="gb28" href="#gbt22" gradientTransform="translate(-6.87 0)"/><linearGradient id="gb29" href="#gbt22" gradientTransform="translate(-7.19 0)"/><linearGradient id="gb30" href="#gbt22" gradientTransform="translate(-6.28 0)"/><linearGradient id="gb31" href="#gbt22" gradientTransform="translate(-6.62 0)"/><linearGradient id="gbt23" gradientUnits="userSpaceOnUse" x1="-69.3" y1="0" x2="787.2" y2="0"><stop offset="0.4339" stop-color="#0f0ffa"/><stop offset="0.4370" stop-color="#3746fa"/><stop offset="0.4412" stop-color="#3c50fa"/><stop offset="0.4475" stop-color="#468cfa"/><stop offset="0.4570" stop-color="#55aafc"/><stop offset="0.4590" stop-color="#78f0ff"/><stop offset="0.4685" stop-color="#7dfcfa"/><stop offset="0.4699" stop-color="#82ffd2"/><stop offset="0.4712" stop-color="#5aff6e"/><stop offset="0.4734" stop-color="#3cfa14"/><stop offset="0.4811" stop-color="#5aff14"/><stop offset="0.4829" stop-color="#96ff28"/><stop offset="0.4853" stop-color="#ebff3c"/><stop offset="0.4862" stop-color="#f0e63c"/><stop offset="0.4869" stop-color="#ebb432"/><stop offset="0.4878" stop-color="#f0781e"/><stop offset="0.4896" stop-color="#fa2d14"/><stop offset="0.5000" stop-color="#ff1e14"/><stop offset="0.5000" stop-color="#ff1e14"/><stop offset="0.5109" stop-color="#fa2d14"/><stop offset="0.5131" stop-color="#f0781e"/><stop offset="0.5147" stop-color="#ebb432"/><stop offset="0.5158" stop-color="#f0e63c"/><stop offset="0.5175" stop-color="#ebff3c"/><stop offset="0.5213" stop-color="#96ff28"/><stop offset="0.5242" stop-color="#5aff14"/><stop offset="0.5308" stop-color="#3cfa14"/><stop offset="0.5333" stop-color="#5aff6e"/><stop offset="0.5366" stop-color="#82ffd2"/><stop offset="0.5399" stop-color="#7dfcfa"/><stop offset="0.5504" stop-color="#78f0ff"/><stop offset="0.5535" stop-color="#55aafc"/><stop offset="0.5651" stop-color="#468cfa"/><stop offset="0.5714" stop-color="#3c50fa"/><stop offset="0.5777" stop-color="#3746fa"/><stop offset="0.5819" stop-color="#0f0ffa"/></linearGradient><linearGradient id="gb32" href="#gbt23" gradientTransform="translate(-5.44 0)"/><linearGradient id="gb33" href="#gbt23" gradientTransform="translate(-5.60 0)"/><linearGradient id="gb34" href="#gbt23" gradientTransform="translate(-5.41 0)"/><linearGradient id="gb35" href="#gbt23" gradientTransform="translate(-5.52 0)"/><linearGradient id="gb36" href="#gbt23" gradientTransform="translate(-5.04 0)"/><linearGradient id="gb37" href="#gbt23" gradientTransform="translate(-5.77 0)"/><linearGradient id="gb38" href="#gbt23" gradientTransform="translate(-5.08 0)"/><linearGradient id="gb39" href="#gbt23" gradientTransform="translate(-4.08 0)"/><linearGradient id="gb40" href="#gbt23" gradientTransform="translate(-5.12 0)"/><linearGradient id="gb41" href="#gbt23" gradientTransform="translate(-3.35 0)"/><linearGradient id="gb42" href="#gbt23" gradientTransform="translate(-4.44 0)"/><linearGradient id="gb43" href="#gbt23" gradientTransform="translate(-3.02 0)"/><linearGradient id="gb44" href="#gbt23" gradientTransform="translate(-3.82 0)"/><linearGradient id="gb45" href="#gbt23" gradientTransform="translate(-2.96 0)"/><linearGradient id="gb46" href="#gbt23" gradientTransform="translate(-3.26 0)"/><linearGradient id="gb47" href="#gbt23" gradientTransform="translate(-4.09 0)"/><linearGradient id="gb48" href="#gbt23" gradientTransform="translate(-2.64 0)"/><linearGradient id="gb49" href="#gbt23" gradientTransform="translate(-2.51 0)"/><linearGradient id="gb50" href="#gbt23" gradientTransform="translate(-3.26 0)"/><linearGradient id="gb51" href="#gbt23" gradientTransform="translate(-3.34 0)"/><linearGradient id="gb52" href="#gbt23" gradientTransform="translate(-3.25 0)"/><linearGradient id="gb53" href="#gbt23" gradientTransform="translate(-3.64 0)"/><linearGradient id="gb54" href="#gbt23" gradientTransform="translate(-2.55 0)"/><linearGradient id="gb55" href="#gbt23" gradientTransform="translate(-3.37 0)"/><linearGradient id="gb56" href="#gbt23" gradientTransform="translate(-3.83 0)"/><linearGradient id="gb57" href="#gbt23" gradientTransform="translate(-5.09 0)"/><linearGradient id="gb58" href="#gbt23" gradientTransform="translate(-5.88 0)"/><linearGradient id="gb59" href="#gbt23" gradientTransform="translate(-7.09 0)"/><linearGradient id="gb60" href="#gbt23" gradientTransform="translate(-6.67 0)"/><linearGradient id="gb61" href="#gbt23" gradientTransform="translate(-8.27 0)"/><linearGradient id="gb62" href="#gbt23" gradientTransform="translate(-8.79 0)"/><linearGradient id="gb63" href="#gbt23" gradientTransform="translate(-10.51 0)"/><linearGradient id="gb64" href="#gbt23" gradientTransform="translate(-12.11 0)"/><linearGradient id="gbt24" gradientUnits="userSpaceOnUse" x1="-69.3" y1="0" x2="787.2" y2="0"><stop offset="0.4339" stop-color="#0f0ffa"/><stop offset="0.4370" stop-color="#3746fa"/><stop offset="0.4412" stop-color="#3c50fa"/><stop offset="0.4475" stop-color="#468cfa"/><stop offset="0.4570" stop-color="#55aafc"/><stop offset="0.4590" stop-color="#78f0ff"/><stop offset="0.4685" stop-color="#7dfcfa"/><stop offset="0.4699" stop-color="#82ffd2"/><stop offset="0.4712" stop-color="#5aff6e"/><stop offset="0.4734" stop-color="#3cfa14"/><stop offset="0.4811" stop-color="#5aff14"/><stop offset="0.4829" stop-color="#96ff28"/><stop offset="0.4853" stop-color="#ebff3c"/><stop offset="0.4862" stop-color="#f0e63c"/><stop offset="0.4869" stop-color="#ebb432"/><stop offset="0.4878" stop-color="#f0781e"/><stop offset="0.4896" stop-color="#fa2d14"/><stop offset="0.5000" stop-color="#ff1e14"/><stop offset="0.5000" stop-color="#ff1e14"/><stop offset="0.5104" stop-color="#fa2d14"/><stop offset="0.5125" stop-color="#f0781e"/><stop offset="0.5140" stop-color="#ebb432"/><stop offset="0.5151" stop-color="#f0e63c"/><stop offset="0.5167" stop-color="#ebff3c"/><stop offset="0.5202" stop-color="#96ff28"/><stop offset="0.5230" stop-color="#5aff14"/><stop offset="0.5293" stop-color="#3cfa14"/><stop offset="0.5317" stop-color="#5aff6e"/><stop offset="0.5349" stop-color="#82ffd2"/><stop offset="0.5380" stop-color="#7dfcfa"/><stop offset="0.5480" stop-color="#78f0ff"/><stop offset="0.5510" stop-color="#55aafc"/><stop offset="0.5620" stop-color="#468cfa"/><stop offset="0.5680" stop-color="#3c50fa"/><stop offset="0.5740" stop-color="#3746fa"/><stop offset="0.5780" stop-color="#0f0ffa"/></linearGradient><linearGradient id="gb65" href="#gbt24" gradientTransform="translate(-13.16 0)"/><linearGradient id="gb66" href="#gbt24" gradientTransform="translate(-14.52 0)"/><linearGradient id="gb67" href="#gbt24" gradientTransform="translate(-15.46 0)"/><linearGradient id="gb68" href="#gbt24" gradientTransform="translate(-16.92 0)"/><linearGradient id="gb69" href="#gbt24" gradientTransform="translate(-18.18 0)"/><linearGradient id="gb70" href="#gbt24" gradientTransform="translate(-20.04 0)"/><linearGradient id="gbt25" gradientUnits="userSpaceOnUse" x1="-69.3" y1="0" x2="787.2" y2="0"><stop offset="0.4370" stop-color="#0f0ffa"/><stop offset="0.4400" stop-color="#3746fa"/><stop offset="0.4440" stop-color="#3c50fa"/><stop offset="0.4500" stop-color="#468cfa"/><stop offset="0.4590" stop-color="#55aafc"/><stop offset="0.4610" stop-color="#78f0ff"/><stop offset="0.4700" stop-color="#7dfcfa"/><stop offset="0.4713" stop-color="#82ffd2"/><stop offset="0.4726" stop-color="#5aff6e"/><stop offset="0.4746" stop-color="#3cfa14"/><stop offset="0.4820" stop-color="#5aff14"/><stop offset="0.4838" stop-color="#96ff28"/><stop offset="0.4860" stop-color="#ebff3c"/><stop offset="0.4869" stop-color="#f0e63c"/><stop offset="0.4875" stop-color="#ebb432"/><stop offset="0.4884" stop-color="#f0781e"/><stop offset="0.4901" stop-color="#fa2d14"/><stop offset="0.5000" stop-color="#ff1e14"/><stop offset="0.5000" stop-color="#ff1e14"/><stop offset="0.5098" stop-color="#fa2d14"/><stop offset="0.5119" stop-color="#f0781e"/><stop offset="0.5133" stop-color="#ebb432"/><stop offset="0.5143" stop-color="#f0e63c"/><stop offset="0.5159" stop-color="#ebff3c"/><stop offset="0.5192" stop-color="#96ff28"/><stop offset="0.5219" stop-color="#5aff14"/><stop offset="0.5278" stop-color="#3cfa14"/><stop offset="0.5302" stop-color="#5aff6e"/><stop offset="0.5331" stop-color="#82ffd2"/><stop offset="0.5361" stop-color="#7dfcfa"/><stop offset="0.5456" stop-color="#78f0ff"/><stop offset="0.5485" stop-color="#55aafc"/><stop offset="0.5589" stop-color="#468cfa"/><stop offset="0.5646" stop-color="#3c50fa"/><stop offset="0.5703" stop-color="#3746fa"/><stop offset="0.5741" stop-color="#0f0ffa"/></linearGradient><linearGradient id="gb71" href="#gbt25" gradientTransform="translate(-21.05 0)"/><linearGradient id="gb72" href="#gbt25" gradientTransform="translate(-21.09 0)"/><linearGradient id="gb73" href="#gbt25" gradientTransform="translate(-23.59 0)"/><linearGradient id="gb74" href="#gbt25" gradientTransform="translate(-25.03 0)"/><linearGradient id="gb75" href="#gbt25" gradientTransform="translate(-25.00 0)"/><linearGradient id="gb76" href="#gbt25" gradientTransform="translate(-25.14 0)"/><linearGradient id="gbt26" gradientUnits="userSpaceOnUse" x1="-69.3" y1="0" x2="787.2" y2="0"><stop offset="0.4370" stop-color="#0f0ffa"/><stop offset="0.4400" stop-color="#3746fa"/><stop offset="0.4440" stop-color="#3c50fa"/><stop offset="0.4500" stop-color="#468cfa"/><stop offset="0.4590" stop-color="#55aafc"/><stop offset="0.4610" stop-color="#78f0ff"/><stop offset="0.4700" stop-color="#7dfcfa"/><stop offset="0.4713" stop-color="#82ffd2"/><stop offset="0.4726" stop-color="#5aff6e"/><stop offset="0.4746" stop-color="#3cfa14"/><stop offset="0.4820" stop-color="#5aff14"/><stop offset="0.4838" stop-color="#96ff28"/><stop offset="0.4860" stop-color="#ebff3c"/><stop offset="0.4869" stop-color="#f0e63c"/><stop offset="0.4875" stop-color="#ebb432"/><stop offset="0.4884" stop-color="#f0781e"/><stop offset="0.4901" stop-color="#fa2d14"/><stop offset="0.5000" stop-color="#ff1e14"/><stop offset="0.5000" stop-color="#ff1e14"/><stop offset="0.5093" stop-color="#fa2d14"/><stop offset="0.5113" stop-color="#f0781e"/><stop offset="0.5126" stop-color="#ebb432"/><stop offset="0.5136" stop-color="#f0e63c"/><stop offset="0.5150" stop-color="#ebff3c"/><stop offset="0.5182" stop-color="#96ff28"/><stop offset="0.5207" stop-color="#5aff14"/><stop offset="0.5264" stop-color="#3cfa14"/><stop offset="0.5286" stop-color="#5aff6e"/><stop offset="0.5314" stop-color="#82ffd2"/><stop offset="0.5342" stop-color="#7dfcfa"/><stop offset="0.5432" stop-color="#78f0ff"/><stop offset="0.5459" stop-color="#55aafc"/><stop offset="0.5558" stop-color="#468cfa"/><stop offset="0.5612" stop-color="#3c50fa"/><stop offset="0.5666" stop-color="#3746fa"/><stop offset="0.5702" stop-color="#0f0ffa"/></linearGradient><linearGradient id="gb77" href="#gbt26" gradientTransform="translate(-27.30 0)"/><linearGradient id="gbt27" gradientUnits="userSpaceOnUse" x1="-69.3" y1="0" x2="787.2" y2="0"><stop offset="0.4401" stop-color="#0f0ffa"/><stop offset="0.4430" stop-color="#3746fa"/><stop offset="0.4468" stop-color="#3c50fa"/><stop offset="0.4525" stop-color="#468cfa"/><stop offset="0.4610" stop-color="#55aafc"/><stop offset="0.4630" stop-color="#78f0ff"/><stop offset="0.4715" stop-color="#7dfcfa"/><stop offset="0.4727" stop-color="#82ffd2"/><stop offset="0.4739" stop-color="#5aff6e"/><stop offset="0.4759" stop-color="#3cfa14"/><stop offset="0.4829" stop-color="#5aff14"/><stop offset="0.4846" stop-color="#96ff28"/><stop offset="0.4867" stop-color="#ebff3c"/><stop offset="0.4875" stop-color="#f0e63c"/><stop offset="0.4881" stop-color="#ebb432"/><stop offset="0.4890" stop-color="#f0781e"/><stop offset="0.4906" stop-color="#fa2d14"/><stop offset="0.5000" stop-color="#ff1e14"/><stop offset="0.5000" stop-color="#ff1e14"/><stop offset="0.5093" stop-color="#fa2d14"/><stop offset="0.5113" stop-color="#f0781e"/><stop offset="0.5126" stop-color="#ebb432"/><stop offset="0.5136" stop-color="#f0e63c"/><stop offset="0.5150" stop-color="#ebff3c"/><stop offset="0.5182" stop-color="#96ff28"/><stop offset="0.5207" stop-color="#5aff14"/><stop offset="0.5264" stop-color="#3cfa14"/><stop offset="0.5286" stop-color="#5aff6e"/><stop offset="0.5314" stop-color="#82ffd2"/><stop offset="0.5342" stop-color="#7dfcfa"/><stop offset="0.5432" stop-color="#78f0ff"/><stop offset="0.5459" stop-color="#55aafc"/><stop offset="0.5558" stop-color="#468cfa"/><stop offset="0.5612" stop-color="#3c50fa"/><stop offset="0.5666" stop-color="#3746fa"/><stop offset="0.5702" stop-color="#0f0ffa"/></linearGradient><linearGradient id="gb78" href="#gbt27" gradientTransform="translate(-27.36 0)"/><linearGradient id="gb79" href="#gbt27" gradientTransform="translate(-28.26 0)"/><linearGradient id="gb80" href="#gbt27" gradientTransform="translate(-29.53 0)"/><linearGradient id="gb81" href="#gbt27" gradientTransform="translate(-28.63 0)"/><linearGradient id="gbt28" gradientUnits="userSpaceOnUse" x1="-69.3" y1="0" x2="787.2" y2="0"><stop offset="0.4401" stop-color="#0f0ffa"/><stop offset="0.4430" stop-color="#3746fa"/><stop offset="0.4468" stop-color="#3c50fa"/><stop offset="0.4525" stop-color="#468cfa"/><stop offset="0.4610" stop-color="#55aafc"/><stop offset="0.4630" stop-color="#78f0ff"/><stop offset="0.4715" stop-color="#7dfcfa"/><stop offset="0.4727" stop-color="#82ffd2"/><stop offset="0.4739" stop-color="#5aff6e"/><stop offset="0.4759" stop-color="#3cfa14"/><stop offset="0.4829" stop-color="#5aff14"/><stop offset="0.4846" stop-color="#96ff28"/><stop offset="0.4867" stop-color="#ebff3c"/><stop offset="0.4875" stop-color="#f0e63c"/><stop offset="0.4881" stop-color="#ebb432"/><stop offset="0.4890" stop-color="#f0781e"/><stop offset="0.4906" stop-color="#fa2d14"/><stop offset="0.5000" stop-color="#ff1e14"/><stop offset="0.5000" stop-color="#ff1e14"/><stop offset="0.5088" stop-color="#fa2d14"/><stop offset="0.5106" stop-color="#f0781e"/><stop offset="0.5119" stop-color="#ebb432"/><stop offset="0.5128" stop-color="#f0e63c"/><stop offset="0.5142" stop-color="#ebff3c"/><stop offset="0.5172" stop-color="#96ff28"/><stop offset="0.5195" stop-color="#5aff14"/><stop offset="0.5249" stop-color="#3cfa14"/><stop offset="0.5270" stop-color="#5aff6e"/><stop offset="0.5296" stop-color="#82ffd2"/><stop offset="0.5323" stop-color="#7dfcfa"/><stop offset="0.5408" stop-color="#78f0ff"/><stop offset="0.5434" stop-color="#55aafc"/><stop offset="0.5527" stop-color="#468cfa"/><stop offset="0.5578" stop-color="#3c50fa"/><stop offset="0.5629" stop-color="#3746fa"/><stop offset="0.5663" stop-color="#0f0ffa"/></linearGradient><linearGradient id="gb82" href="#gbt28" gradientTransform="translate(-29.23 0)"/><linearGradient id="gb83" href="#gbt28" gradientTransform="translate(-29.40 0)"/><linearGradient id="gb84" href="#gbt28" gradientTransform="translate(-30.04 0)"/><linearGradient id="gb85" href="#gbt28" gradientTransform="translate(-29.64 0)"/><linearGradient id="cbar" x1="0" x2="1" y1="0" y2="0"><stop offset="0.000" stop-color="#0f0ffa"/><stop offset="0.055" stop-color="#0f0ffa"/><stop offset="0.075" stop-color="#3746fa"/><stop offset="0.100" stop-color="#3c50fa"/><stop offset="0.130" stop-color="#468cfa"/><stop offset="0.190" stop-color="#55aafc"/><stop offset="0.210" stop-color="#78f0ff"/><stop offset="0.320" stop-color="#7dfcfa"/><stop offset="0.380" stop-color="#82ffd2"/><stop offset="0.440" stop-color="#5aff6e"/><stop offset="0.480" stop-color="#3cfa14"/><stop offset="0.570" stop-color="#5aff14"/><stop offset="0.620" stop-color="#96ff28"/><stop offset="0.700" stop-color="#ebff3c"/><stop offset="0.760" stop-color="#f0e63c"/><stop offset="0.800" stop-color="#ebb432"/><stop offset="0.860" stop-color="#f0781e"/><stop offset="0.910" stop-color="#fa2d14"/><stop offset="1.000" stop-color="#ff1e14"/></linearGradient><clipPath id="clc"><rect x="492.4" y="1.3" width="180.2" height="208.5"/></clipPath><clipPath id="cld"><rect x="33.2" y="252.8" width="179.3" height="207.7"/></clipPath><clipPath id="cle"><rect x="265.1" y="252.8" width="179.5" height="207.7"/></clipPath><clipPath id="clf"><rect x="491.4" y="253.0" width="180" height="208"/></clipPath></defs><rect width="685" height="681" fill="#fff"/>
<rect x="40" y="9.2" width="171.3" height="2.6" fill="url(#ga0)" shape-rendering="crispEdges"/>
<rect x="40" y="11.2" width="171.3" height="2.6" fill="url(#ga1)" shape-rendering="crispEdges"/>
<rect x="40" y="13.19" width="171.3" height="2.6" fill="url(#ga2)" shape-rendering="crispEdges"/>
<rect x="40" y="15.19" width="171.3" height="2.6" fill="url(#ga3)" shape-rendering="crispEdges"/>
<rect x="40" y="17.18" width="171.3" height="2.6" fill="url(#ga4)" shape-rendering="crispEdges"/>
<rect x="40" y="19.18" width="171.3" height="2.6" fill="url(#ga5)" shape-rendering="crispEdges"/>
<rect x="40" y="21.17" width="171.3" height="2.6" fill="url(#ga6)" shape-rendering="crispEdges"/>
<rect x="40" y="23.17" width="171.3" height="2.6" fill="url(#ga7)" shape-rendering="crispEdges"/>
<rect x="40" y="25.16" width="171.3" height="2.6" fill="url(#ga8)" shape-rendering="crispEdges"/>
<rect x="40" y="27.16" width="171.3" height="2.6" fill="url(#ga9)" shape-rendering="crispEdges"/>
<rect x="40" y="29.15" width="171.3" height="2.6" fill="url(#ga10)" shape-rendering="crispEdges"/>
<rect x="40" y="31.15" width="171.3" height="2.6" fill="url(#ga11)" shape-rendering="crispEdges"/>
<rect x="40" y="33.14" width="171.3" height="2.6" fill="url(#ga12)" shape-rendering="crispEdges"/>
<rect x="40" y="35.14" width="171.3" height="2.6" fill="url(#ga13)" shape-rendering="crispEdges"/>
<rect x="40" y="37.13" width="171.3" height="2.6" fill="url(#ga14)" shape-rendering="crispEdges"/>
<rect x="40" y="39.13" width="171.3" height="2.6" fill="url(#ga15)" shape-rendering="crispEdges"/>
<rect x="40" y="41.13" width="171.3" height="2.6" fill="url(#ga16)" shape-rendering="crispEdges"/>
<rect x="40" y="43.12" width="171.3" height="2.6" fill="url(#ga17)" shape-rendering="crispEdges"/>
<rect x="40" y="45.12" width="171.3" height="2.6" fill="url(#ga18)" shape-rendering="crispEdges"/>
<rect x="40" y="47.11" width="171.3" height="2.6" fill="url(#ga19)" shape-rendering="crispEdges"/>
<rect x="40" y="49.11" width="171.3" height="2.6" fill="url(#ga20)" shape-rendering="crispEdges"/>
<rect x="40" y="51.1" width="171.3" height="2.6" fill="url(#ga21)" shape-rendering="crispEdges"/>
<rect x="40" y="53.1" width="171.3" height="2.6" fill="url(#ga22)" shape-rendering="crispEdges"/>
<rect x="40" y="55.09" width="171.3" height="2.6" fill="url(#ga23)" shape-rendering="crispEdges"/>
<rect x="40" y="57.09" width="171.3" height="2.6" fill="url(#ga24)" shape-rendering="crispEdges"/>
<rect x="40" y="59.08" width="171.3" height="2.6" fill="url(#ga25)" shape-rendering="crispEdges"/>
<rect x="40" y="61.08" width="171.3" height="2.6" fill="url(#ga26)" shape-rendering="crispEdges"/>
<rect x="40" y="63.07" width="171.3" height="2.6" fill="url(#ga27)" shape-rendering="crispEdges"/>
<rect x="40" y="65.07" width="171.3" height="2.6" fill="url(#ga28)" shape-rendering="crispEdges"/>
<rect x="40" y="67.07" width="171.3" height="2.6" fill="url(#ga29)" shape-rendering="crispEdges"/>
<rect x="40" y="69.06" width="171.3" height="2.6" fill="url(#ga30)" shape-rendering="crispEdges"/>
<rect x="40" y="71.06" width="171.3" height="2.6" fill="url(#ga31)" shape-rendering="crispEdges"/>
<rect x="40" y="73.05" width="171.3" height="2.6" fill="url(#ga32)" shape-rendering="crispEdges"/>
<rect x="40" y="75.05" width="171.3" height="2.6" fill="url(#ga33)" shape-rendering="crispEdges"/>
<rect x="40" y="77.04" width="171.3" height="2.6" fill="url(#ga34)" shape-rendering="crispEdges"/>
<rect x="40" y="79.04" width="171.3" height="2.6" fill="url(#ga35)" shape-rendering="crispEdges"/>
<rect x="40" y="81.03" width="171.3" height="2.6" fill="url(#ga36)" shape-rendering="crispEdges"/>
<rect x="40" y="83.03" width="171.3" height="2.6" fill="url(#ga37)" shape-rendering="crispEdges"/>
<rect x="40" y="85.02" width="171.3" height="2.6" fill="url(#ga38)" shape-rendering="crispEdges"/>
<rect x="40" y="87.02" width="171.3" height="2.6" fill="url(#ga39)" shape-rendering="crispEdges"/>
<rect x="40" y="89.01" width="171.3" height="2.6" fill="url(#ga40)" shape-rendering="crispEdges"/>
<rect x="40" y="91.01" width="171.3" height="2.6" fill="url(#ga41)" shape-rendering="crispEdges"/>
<rect x="40" y="93" width="171.3" height="2.6" fill="url(#ga42)" shape-rendering="crispEdges"/>
<rect x="40" y="95" width="171.3" height="2.6" fill="url(#ga43)" shape-rendering="crispEdges"/>
<rect x="40" y="97" width="171.3" height="2.6" fill="url(#ga44)" shape-rendering="crispEdges"/>
<rect x="40" y="98.99" width="171.3" height="2.6" fill="url(#ga45)" shape-rendering="crispEdges"/>
<rect x="40" y="100.99" width="171.3" height="2.6" fill="url(#ga46)" shape-rendering="crispEdges"/>
<rect x="40" y="102.98" width="171.3" height="2.6" fill="url(#ga47)" shape-rendering="crispEdges"/>
<rect x="40" y="104.98" width="171.3" height="2.6" fill="url(#ga48)" shape-rendering="crispEdges"/>
<rect x="40" y="106.97" width="171.3" height="2.6" fill="url(#ga49)" shape-rendering="crispEdges"/>
<rect x="40" y="108.97" width="171.3" height="2.6" fill="url(#ga50)" shape-rendering="crispEdges"/>
<rect x="40" y="110.96" width="171.3" height="2.6" fill="url(#ga51)" shape-rendering="crispEdges"/>
<rect x="40" y="112.96" width="171.3" height="2.6" fill="url(#ga52)" shape-rendering="crispEdges"/>
<rect x="40" y="114.95" width="171.3" height="2.6" fill="url(#ga53)" shape-rendering="crispEdges"/>
<rect x="40" y="116.95" width="171.3" height="2.6" fill="url(#ga54)" shape-rendering="crispEdges"/>
<rect x="40" y="118.94" width="171.3" height="2.6" fill="url(#ga55)" shape-rendering="crispEdges"/>
<rect x="40" y="120.94" width="171.3" height="2.6" fill="url(#ga56)" shape-rendering="crispEdges"/>
<rect x="40" y="122.93" width="171.3" height="2.6" fill="url(#ga57)" shape-rendering="crispEdges"/>
<rect x="40" y="124.93" width="171.3" height="2.6" fill="url(#ga58)" shape-rendering="crispEdges"/>
<rect x="40" y="126.93" width="171.3" height="2.6" fill="url(#ga59)" shape-rendering="crispEdges"/>
<rect x="40" y="128.92" width="171.3" height="2.6" fill="url(#ga60)" shape-rendering="crispEdges"/>
<rect x="40" y="130.92" width="171.3" height="2.6" fill="url(#ga61)" shape-rendering="crispEdges"/>
<rect x="40" y="132.91" width="171.3" height="2.6" fill="url(#ga62)" shape-rendering="crispEdges"/>
<rect x="40" y="134.91" width="171.3" height="2.6" fill="url(#ga63)" shape-rendering="crispEdges"/>
<rect x="40" y="136.9" width="171.3" height="2.6" fill="url(#ga64)" shape-rendering="crispEdges"/>
<rect x="40" y="138.9" width="171.3" height="2.6" fill="url(#ga65)" shape-rendering="crispEdges"/>
<rect x="40" y="140.89" width="171.3" height="2.6" fill="url(#ga66)" shape-rendering="crispEdges"/>
<rect x="40" y="142.89" width="171.3" height="2.6" fill="url(#ga67)" shape-rendering="crispEdges"/>
<rect x="40" y="144.88" width="171.3" height="2.6" fill="url(#ga68)" shape-rendering="crispEdges"/>
<rect x="40" y="146.88" width="171.3" height="2.6" fill="url(#ga69)" shape-rendering="crispEdges"/>
<rect x="40" y="148.87" width="171.3" height="2.6" fill="url(#ga70)" shape-rendering="crispEdges"/>
<rect x="40" y="150.87" width="171.3" height="2.6" fill="url(#ga71)" shape-rendering="crispEdges"/>
<rect x="40" y="152.87" width="171.3" height="2.6" fill="url(#ga72)" shape-rendering="crispEdges"/>
<rect x="40" y="154.86" width="171.3" height="2.6" fill="url(#ga73)" shape-rendering="crispEdges"/>
<rect x="40" y="156.86" width="171.3" height="2.6" fill="url(#ga74)" shape-rendering="crispEdges"/>
<rect x="40" y="158.85" width="171.3" height="2.6" fill="url(#ga75)" shape-rendering="crispEdges"/>
<rect x="40" y="160.85" width="171.3" height="2.6" fill="url(#ga76)" shape-rendering="crispEdges"/>
<rect x="40" y="162.84" width="171.3" height="2.6" fill="url(#ga77)" shape-rendering="crispEdges"/>
<rect x="40" y="164.84" width="171.3" height="2.6" fill="url(#ga78)" shape-rendering="crispEdges"/>
<rect x="40" y="166.83" width="171.3" height="2.6" fill="url(#ga79)" shape-rendering="crispEdges"/>
<rect x="40" y="168.83" width="171.3" height="2.6" fill="url(#ga80)" shape-rendering="crispEdges"/>
<rect x="40" y="170.82" width="171.3" height="2.6" fill="url(#ga81)" shape-rendering="crispEdges"/>
<rect x="40" y="172.82" width="171.3" height="2.6" fill="url(#ga82)" shape-rendering="crispEdges"/>
<rect x="40" y="174.81" width="171.3" height="2.6" fill="url(#ga83)" shape-rendering="crispEdges"/>
<rect x="40" y="176.81" width="171.3" height="2.6" fill="url(#ga84)" shape-rendering="crispEdges"/>
<rect x="40" y="178.8" width="171.3" height="2.6" fill="url(#ga85)" shape-rendering="crispEdges"/>
<rect x="40" y="9.2" width="171.3" height="171.6" fill="none" stroke="#333" stroke-width="0.8"/>
<line x1="36.8" y1="180.8" x2="40" y2="180.8" stroke="#3a3a3a" stroke-width="1"/>
<text x="34.2" y="184.7" font-size="11.0" text-anchor="end" fill="#000">0</text>
<line x1="36.8" y1="137.9" x2="40" y2="137.9" stroke="#3a3a3a" stroke-width="1"/>
<text x="34.2" y="141.8" font-size="11.0" text-anchor="end" fill="#000">1</text>
<line x1="36.8" y1="95" x2="40" y2="95" stroke="#3a3a3a" stroke-width="1"/>
<text x="34.2" y="98.9" font-size="11.0" text-anchor="end" fill="#000">2</text>
<line x1="36.8" y1="52.1" x2="40" y2="52.1" stroke="#3a3a3a" stroke-width="1"/>
<text x="34.2" y="56" font-size="11.0" text-anchor="end" fill="#000">3</text>
<line x1="36.8" y1="9.2" x2="40" y2="9.2" stroke="#3a3a3a" stroke-width="1"/>
<text x="34.2" y="13.1" font-size="11.0" text-anchor="end" fill="#000">4</text>
<line x1="38.2" y1="159.35" x2="40" y2="159.35" stroke="#3a3a3a" stroke-width="1"/>
<line x1="38.2" y1="116.45" x2="40" y2="116.45" stroke="#3a3a3a" stroke-width="1"/>
<line x1="38.2" y1="73.55" x2="40" y2="73.55" stroke="#3a3a3a" stroke-width="1"/>
<line x1="38.2" y1="30.65" x2="40" y2="30.65" stroke="#3a3a3a" stroke-width="1"/>
<line x1="40" y1="180.8" x2="40" y2="184" stroke="#3a3a3a" stroke-width="1"/>
<text x="40" y="195.5" font-size="11.0" text-anchor="middle" fill="#000">650</text>
<line x1="82.83" y1="180.8" x2="82.83" y2="184" stroke="#3a3a3a" stroke-width="1"/>
<text x="82.83" y="195.5" font-size="11.0" text-anchor="middle" fill="#000">700</text>
<line x1="125.65" y1="180.8" x2="125.65" y2="184" stroke="#3a3a3a" stroke-width="1"/>
<text x="125.65" y="195.5" font-size="11.0" text-anchor="middle" fill="#000">750</text>
<line x1="168.48" y1="180.8" x2="168.48" y2="184" stroke="#3a3a3a" stroke-width="1"/>
<text x="168.48" y="195.5" font-size="11.0" text-anchor="middle" fill="#000">800</text>
<line x1="211.3" y1="180.8" x2="211.3" y2="184" stroke="#3a3a3a" stroke-width="1"/>
<text x="211.3" y="195.5" font-size="11.0" text-anchor="middle" fill="#000">850</text>
<line x1="61.41" y1="180.8" x2="61.41" y2="182.6" stroke="#3a3a3a" stroke-width="1"/>
<line x1="104.24" y1="180.8" x2="104.24" y2="182.6" stroke="#3a3a3a" stroke-width="1"/>
<line x1="147.06" y1="180.8" x2="147.06" y2="182.6" stroke="#3a3a3a" stroke-width="1"/>
<line x1="189.89" y1="180.8" x2="189.89" y2="182.6" stroke="#3a3a3a" stroke-width="1"/>
<text x="125.7" y="211.6" font-size="13.4" text-anchor="middle" fill="#000">Wavelength (nm)</text>
<text x="20.6" y="95" font-size="13.4" text-anchor="middle" fill="#000" transform="rotate(-90 20.6 95)">Time (s)</text>
<text x="206.5" y="24.4" font-size="12.2" text-anchor="end" fill="#fff">Control</text>
<text x="1.2" y="19.7" font-size="22" text-anchor="start" fill="#000" font-weight="bold">a</text>
<rect x="273.3" y="9.2" width="171.3" height="2.6" fill="url(#gb0)" shape-rendering="crispEdges"/>
<rect x="273.3" y="11.2" width="171.3" height="2.6" fill="url(#gb1)" shape-rendering="crispEdges"/>
<rect x="273.3" y="13.19" width="171.3" height="2.6" fill="url(#gb2)" shape-rendering="crispEdges"/>
<rect x="273.3" y="15.19" width="171.3" height="2.6" fill="url(#gb3)" shape-rendering="crispEdges"/>
<rect x="273.3" y="17.18" width="171.3" height="2.6" fill="url(#gb4)" shape-rendering="crispEdges"/>
<rect x="273.3" y="19.18" width="171.3" height="2.6" fill="url(#gb5)" shape-rendering="crispEdges"/>
<rect x="273.3" y="21.17" width="171.3" height="2.6" fill="url(#gb6)" shape-rendering="crispEdges"/>
<rect x="273.3" y="23.17" width="171.3" height="2.6" fill="url(#gb7)" shape-rendering="crispEdges"/>
<rect x="273.3" y="25.16" width="171.3" height="2.6" fill="url(#gb8)" shape-rendering="crispEdges"/>
<rect x="273.3" y="27.16" width="171.3" height="2.6" fill="url(#gb9)" shape-rendering="crispEdges"/>
<rect x="273.3" y="29.15" width="171.3" height="2.6" fill="url(#gb10)" shape-rendering="crispEdges"/>
<rect x="273.3" y="31.15" width="171.3" height="2.6" fill="url(#gb11)" shape-rendering="crispEdges"/>
<rect x="273.3" y="33.14" width="171.3" height="2.6" fill="url(#gb12)" shape-rendering="crispEdges"/>
<rect x="273.3" y="35.14" width="171.3" height="2.6" fill="url(#gb13)" shape-rendering="crispEdges"/>
<rect x="273.3" y="37.13" width="171.3" height="2.6" fill="url(#gb14)" shape-rendering="crispEdges"/>
<rect x="273.3" y="39.13" width="171.3" height="2.6" fill="url(#gb15)" shape-rendering="crispEdges"/>
<rect x="273.3" y="41.13" width="171.3" height="2.6" fill="url(#gb16)" shape-rendering="crispEdges"/>
<rect x="273.3" y="43.12" width="171.3" height="2.6" fill="url(#gb17)" shape-rendering="crispEdges"/>
<rect x="273.3" y="45.12" width="171.3" height="2.6" fill="url(#gb18)" shape-rendering="crispEdges"/>
<rect x="273.3" y="47.11" width="171.3" height="2.6" fill="url(#gb19)" shape-rendering="crispEdges"/>
<rect x="273.3" y="49.11" width="171.3" height="2.6" fill="url(#gb20)" shape-rendering="crispEdges"/>
<rect x="273.3" y="51.1" width="171.3" height="2.6" fill="url(#gb21)" shape-rendering="crispEdges"/>
<rect x="273.3" y="53.1" width="171.3" height="2.6" fill="url(#gb22)" shape-rendering="crispEdges"/>
<rect x="273.3" y="55.09" width="171.3" height="2.6" fill="url(#gb23)" shape-rendering="crispEdges"/>
<rect x="273.3" y="57.09" width="171.3" height="2.6" fill="url(#gb24)" shape-rendering="crispEdges"/>
<rect x="273.3" y="59.08" width="171.3" height="2.6" fill="url(#gb25)" shape-rendering="crispEdges"/>
<rect x="273.3" y="61.08" width="171.3" height="2.6" fill="url(#gb26)" shape-rendering="crispEdges"/>
<rect x="273.3" y="63.07" width="171.3" height="2.6" fill="url(#gb27)" shape-rendering="crispEdges"/>
<rect x="273.3" y="65.07" width="171.3" height="2.6" fill="url(#gb28)" shape-rendering="crispEdges"/>
<rect x="273.3" y="67.07" width="171.3" height="2.6" fill="url(#gb29)" shape-rendering="crispEdges"/>
<rect x="273.3" y="69.06" width="171.3" height="2.6" fill="url(#gb30)" shape-rendering="crispEdges"/>
<rect x="273.3" y="71.06" width="171.3" height="2.6" fill="url(#gb31)" shape-rendering="crispEdges"/>
<rect x="273.3" y="73.05" width="171.3" height="2.6" fill="url(#gb32)" shape-rendering="crispEdges"/>
<rect x="273.3" y="75.05" width="171.3" height="2.6" fill="url(#gb33)" shape-rendering="crispEdges"/>
<rect x="273.3" y="77.04" width="171.3" height="2.6" fill="url(#gb34)" shape-rendering="crispEdges"/>
<rect x="273.3" y="79.04" width="171.3" height="2.6" fill="url(#gb35)" shape-rendering="crispEdges"/>
<rect x="273.3" y="81.03" width="171.3" height="2.6" fill="url(#gb36)" shape-rendering="crispEdges"/>
<rect x="273.3" y="83.03" width="171.3" height="2.6" fill="url(#gb37)" shape-rendering="crispEdges"/>
<rect x="273.3" y="85.02" width="171.3" height="2.6" fill="url(#gb38)" shape-rendering="crispEdges"/>
<rect x="273.3" y="87.02" width="171.3" height="2.6" fill="url(#gb39)" shape-rendering="crispEdges"/>
<rect x="273.3" y="89.01" width="171.3" height="2.6" fill="url(#gb40)" shape-rendering="crispEdges"/>
<rect x="273.3" y="91.01" width="171.3" height="2.6" fill="url(#gb41)" shape-rendering="crispEdges"/>
<rect x="273.3" y="93" width="171.3" height="2.6" fill="url(#gb42)" shape-rendering="crispEdges"/>
<rect x="273.3" y="95" width="171.3" height="2.6" fill="url(#gb43)" shape-rendering="crispEdges"/>
<rect x="273.3" y="97" width="171.3" height="2.6" fill="url(#gb44)" shape-rendering="crispEdges"/>
<rect x="273.3" y="98.99" width="171.3" height="2.6" fill="url(#gb45)" shape-rendering="crispEdges"/>
<rect x="273.3" y="100.99" width="171.3" height="2.6" fill="url(#gb46)" shape-rendering="crispEdges"/>
<rect x="273.3" y="102.98" width="171.3" height="2.6" fill="url(#gb47)" shape-rendering="crispEdges"/>
<rect x="273.3" y="104.98" width="171.3" height="2.6" fill="url(#gb48)" shape-rendering="crispEdges"/>
<rect x="273.3" y="106.97" width="171.3" height="2.6" fill="url(#gb49)" shape-rendering="crispEdges"/>
<rect x="273.3" y="108.97" width="171.3" height="2.6" fill="url(#gb50)" shape-rendering="crispEdges"/>
<rect x="273.3" y="110.96" width="171.3" height="2.6" fill="url(#gb51)" shape-rendering="crispEdges"/>
<rect x="273.3" y="112.96" width="171.3" height="2.6" fill="url(#gb52)" shape-rendering="crispEdges"/>
<rect x="273.3" y="114.95" width="171.3" height="2.6" fill="url(#gb53)" shape-rendering="crispEdges"/>
<rect x="273.3" y="116.95" width="171.3" height="2.6" fill="url(#gb54)" shape-rendering="crispEdges"/>
<rect x="273.3" y="118.94" width="171.3" height="2.6" fill="url(#gb55)" shape-rendering="crispEdges"/>
<rect x="273.3" y="120.94" width="171.3" height="2.6" fill="url(#gb56)" shape-rendering="crispEdges"/>
<rect x="273.3" y="122.93" width="171.3" height="2.6" fill="url(#gb57)" shape-rendering="crispEdges"/>
<rect x="273.3" y="124.93" width="171.3" height="2.6" fill="url(#gb58)" shape-rendering="crispEdges"/>
<rect x="273.3" y="126.93" width="171.3" height="2.6" fill="url(#gb59)" shape-rendering="crispEdges"/>
<rect x="273.3" y="128.92" width="171.3" height="2.6" fill="url(#gb60)" shape-rendering="crispEdges"/>
<rect x="273.3" y="130.92" width="171.3" height="2.6" fill="url(#gb61)" shape-rendering="crispEdges"/>
<rect x="273.3" y="132.91" width="171.3" height="2.6" fill="url(#gb62)" shape-rendering="crispEdges"/>
<rect x="273.3" y="134.91" width="171.3" height="2.6" fill="url(#gb63)" shape-rendering="crispEdges"/>
<rect x="273.3" y="136.9" width="171.3" height="2.6" fill="url(#gb64)" shape-rendering="crispEdges"/>
<rect x="273.3" y="138.9" width="171.3" height="2.6" fill="url(#gb65)" shape-rendering="crispEdges"/>
<rect x="273.3" y="140.89" width="171.3" height="2.6" fill="url(#gb66)" shape-rendering="crispEdges"/>
<rect x="273.3" y="142.89" width="171.3" height="2.6" fill="url(#gb67)" shape-rendering="crispEdges"/>
<rect x="273.3" y="144.88" width="171.3" height="2.6" fill="url(#gb68)" shape-rendering="crispEdges"/>
<rect x="273.3" y="146.88" width="171.3" height="2.6" fill="url(#gb69)" shape-rendering="crispEdges"/>
<rect x="273.3" y="148.87" width="171.3" height="2.6" fill="url(#gb70)" shape-rendering="crispEdges"/>
<rect x="273.3" y="150.87" width="171.3" height="2.6" fill="url(#gb71)" shape-rendering="crispEdges"/>
<rect x="273.3" y="152.87" width="171.3" height="2.6" fill="url(#gb72)" shape-rendering="crispEdges"/>
<rect x="273.3" y="154.86" width="171.3" height="2.6" fill="url(#gb73)" shape-rendering="crispEdges"/>
<rect x="273.3" y="156.86" width="171.3" height="2.6" fill="url(#gb74)" shape-rendering="crispEdges"/>
<rect x="273.3" y="158.85" width="171.3" height="2.6" fill="url(#gb75)" shape-rendering="crispEdges"/>
<rect x="273.3" y="160.85" width="171.3" height="2.6" fill="url(#gb76)" shape-rendering="crispEdges"/>
<rect x="273.3" y="162.84" width="171.3" height="2.6" fill="url(#gb77)" shape-rendering="crispEdges"/>
<rect x="273.3" y="164.84" width="171.3" height="2.6" fill="url(#gb78)" shape-rendering="crispEdges"/>
<rect x="273.3" y="166.83" width="171.3" height="2.6" fill="url(#gb79)" shape-rendering="crispEdges"/>
<rect x="273.3" y="168.83" width="171.3" height="2.6" fill="url(#gb80)" shape-rendering="crispEdges"/>
<rect x="273.3" y="170.82" width="171.3" height="2.6" fill="url(#gb81)" shape-rendering="crispEdges"/>
<rect x="273.3" y="172.82" width="171.3" height="2.6" fill="url(#gb82)" shape-rendering="crispEdges"/>
<rect x="273.3" y="174.81" width="171.3" height="2.6" fill="url(#gb83)" shape-rendering="crispEdges"/>
<rect x="273.3" y="176.81" width="171.3" height="2.6" fill="url(#gb84)" shape-rendering="crispEdges"/>
<rect x="273.3" y="178.8" width="171.3" height="2.6" fill="url(#gb85)" shape-rendering="crispEdges"/>
<rect x="273.3" y="9.2" width="171.3" height="171.6" fill="none" stroke="#333" stroke-width="0.8"/>
<line x1="270.1" y1="180.8" x2="273.3" y2="180.8" stroke="#3a3a3a" stroke-width="1"/>
<text x="267.5" y="184.7" font-size="11.0" text-anchor="end" fill="#000">0</text>
<line x1="270.1" y1="137.9" x2="273.3" y2="137.9" stroke="#3a3a3a" stroke-width="1"/>
<text x="267.5" y="141.8" font-size="11.0" text-anchor="end" fill="#000">1</text>
<line x1="270.1" y1="95" x2="273.3" y2="95" stroke="#3a3a3a" stroke-width="1"/>
<text x="267.5" y="98.9" font-size="11.0" text-anchor="end" fill="#000">2</text>
<line x1="270.1" y1="52.1" x2="273.3" y2="52.1" stroke="#3a3a3a" stroke-width="1"/>
<text x="267.5" y="56" font-size="11.0" text-anchor="end" fill="#000">3</text>
<line x1="270.1" y1="9.2" x2="273.3" y2="9.2" stroke="#3a3a3a" stroke-width="1"/>
<text x="267.5" y="13.1" font-size="11.0" text-anchor="end" fill="#000">4</text>
<line x1="271.5" y1="159.35" x2="273.3" y2="159.35" stroke="#3a3a3a" stroke-width="1"/>
<line x1="271.5" y1="116.45" x2="273.3" y2="116.45" stroke="#3a3a3a" stroke-width="1"/>
<line x1="271.5" y1="73.55" x2="273.3" y2="73.55" stroke="#3a3a3a" stroke-width="1"/>
<line x1="271.5" y1="30.65" x2="273.3" y2="30.65" stroke="#3a3a3a" stroke-width="1"/>
<line x1="273.3" y1="180.8" x2="273.3" y2="184" stroke="#3a3a3a" stroke-width="1"/>
<text x="273.3" y="195.5" font-size="11.0" text-anchor="middle" fill="#000">650</text>
<line x1="316.12" y1="180.8" x2="316.12" y2="184" stroke="#3a3a3a" stroke-width="1"/>
<text x="316.12" y="195.5" font-size="11.0" text-anchor="middle" fill="#000">700</text>
<line x1="358.95" y1="180.8" x2="358.95" y2="184" stroke="#3a3a3a" stroke-width="1"/>
<text x="358.95" y="195.5" font-size="11.0" text-anchor="middle" fill="#000">750</text>
<line x1="401.78" y1="180.8" x2="401.78" y2="184" stroke="#3a3a3a" stroke-width="1"/>
<text x="401.78" y="195.5" font-size="11.0" text-anchor="middle" fill="#000">800</text>
<line x1="444.6" y1="180.8" x2="444.6" y2="184" stroke="#3a3a3a" stroke-width="1"/>
<text x="444.6" y="195.5" font-size="11.0" text-anchor="middle" fill="#000">850</text>
<line x1="294.71" y1="180.8" x2="294.71" y2="182.6" stroke="#3a3a3a" stroke-width="1"/>
<line x1="337.54" y1="180.8" x2="337.54" y2="182.6" stroke="#3a3a3a" stroke-width="1"/>
<line x1="380.36" y1="180.8" x2="380.36" y2="182.6" stroke="#3a3a3a" stroke-width="1"/>
<line x1="423.19" y1="180.8" x2="423.19" y2="182.6" stroke="#3a3a3a" stroke-width="1"/>
<text x="358.6" y="211.6" font-size="13.4" text-anchor="middle" fill="#000">Wavelength (nm)</text>
<text x="253.8" y="95" font-size="13.4" text-anchor="middle" fill="#000" transform="rotate(-90 253.8 95)">Time (s)</text>
<text x="434.5" y="22.5" font-size="12.2" text-anchor="end" fill="#fff">Target</text>
<text x="221.5" y="19.7" font-size="22" text-anchor="start" fill="#000" font-weight="bold">b</text>
<rect x="207.2" y="201.3" width="71.6" height="18" fill="url(#cbar)" stroke="#444" stroke-width="0.8"/>
<line x1="204.7" y1="210.3" x2="207.2" y2="210.3" stroke="#999" stroke-width="0.8"/>
<line x1="278.8" y1="210.3" x2="281.3" y2="210.3" stroke="#999" stroke-width="0.8"/>
<text x="203.2" y="215.9" font-size="11.0" text-anchor="end" fill="#000">0.0</text>
<text x="282" y="215.9" font-size="11.0" text-anchor="start" fill="#000">1.0</text>
<g fill="none" stroke="#4848e6" stroke-width="0.85" clip-path="url(#clc)"><circle cx="493.5" cy="5.9" r="2.4"/><circle cx="492.9" cy="18.1" r="2.4"/><circle cx="493.6" cy="28.1" r="2.4"/><circle cx="493.3" cy="33.1" r="2.4"/><circle cx="495.9" cy="39.1" r="2.4"/><circle cx="496.2" cy="41.6" r="2.4"/><circle cx="496.8" cy="46" r="2.4"/><circle cx="497.2" cy="49.4" r="2.4"/><circle cx="497.5" cy="52.7" r="2.4"/><circle cx="498.1" cy="56.1" r="2.4"/><circle cx="498.4" cy="60.4" r="2.4"/><circle cx="499.1" cy="62.3" r="2.4"/><circle cx="499.8" cy="65.1" r="2.4"/><circle cx="501.3" cy="67.7" r="2.4"/><circle cx="501.3" cy="71.2" r="2.4"/><circle cx="501.6" cy="72.9" r="2.4"/><circle cx="501.9" cy="74.7" r="2.4"/><circle cx="502.4" cy="75.7" r="2.4"/><circle cx="504.4" cy="76.7" r="2.4"/><circle cx="504.3" cy="81.4" r="2.4"/><circle cx="504.6" cy="83.4" r="2.4"/><circle cx="505" cy="83.9" r="2.4"/><circle cx="505.1" cy="86.5" r="2.4"/><circle cx="506.4" cy="88.6" r="2.4"/><circle cx="507.5" cy="90.4" r="2.4"/><circle cx="507.4" cy="92.2" r="2.4"/><circle cx="508.1" cy="92.1" r="2.4"/><circle cx="508.7" cy="96.4" r="2.4"/><circle cx="509.5" cy="94.3" r="2.4"/><circle cx="509" cy="98.9" r="2.4"/><circle cx="510.5" cy="100.1" r="2.4"/><circle cx="510.7" cy="102.3" r="2.4"/><circle cx="512.3" cy="105.5" r="2.4"/><circle cx="511.9" cy="106.6" r="2.4"/><circle cx="513.3" cy="104.3" r="2.4"/><circle cx="514.5" cy="105" r="2.4"/><circle cx="514" cy="110.6" r="2.4"/><circle cx="514.4" cy="109.3" r="2.4"/><circle cx="515.5" cy="112.5" r="2.4"/><circle cx="516" cy="115.4" r="2.4"/><circle cx="516" cy="112.8" r="2.4"/><circle cx="517.5" cy="113.4" r="2.4"/><circle cx="519" cy="118.8" r="2.4"/><circle cx="518.2" cy="119.8" r="2.4"/><circle cx="518.9" cy="120.7" r="2.4"/><circle cx="519" cy="122.5" r="2.4"/><circle cx="520.4" cy="122.1" r="2.4"/><circle cx="520.1" cy="122.2" r="2.4"/><circle cx="520.7" cy="125.9" r="2.4"/><circle cx="522.8" cy="125.6" r="2.4"/><circle cx="522.1" cy="125.6" r="2.4"/><circle cx="523.8" cy="131" r="2.4"/><circle cx="524.7" cy="131.2" r="2.4"/><circle cx="524.6" cy="133.5" r="2.4"/><circle cx="525.3" cy="132" r="2.4"/><circle cx="526.8" cy="134.1" r="2.4"/><circle cx="526.1" cy="134.8" r="2.4"/><circle cx="526.4" cy="136.4" r="2.4"/><circle cx="526.6" cy="140.2" r="2.4"/><circle cx="528" cy="139.6" r="2.4"/><circle cx="529.5" cy="143.5" r="2.4"/><circle cx="529.8" cy="145" r="2.4"/><circle cx="529.2" cy="150.2" r="2.4"/><circle cx="529.9" cy="144.1" r="2.4"/><circle cx="530.7" cy="150.7" r="2.4"/><circle cx="531.8" cy="150" r="2.4"/><circle cx="532.1" cy="151.7" r="2.4"/><circle cx="532.9" cy="149.9" r="2.4"/><circle cx="533.6" cy="153.7" r="2.4"/><circle cx="533.8" cy="158" r="2.4"/><circle cx="534.6" cy="157.6" r="2.4"/><circle cx="535.3" cy="159.5" r="2.4"/><circle cx="535.7" cy="160.1" r="2.4"/><circle cx="536.7" cy="165.2" r="2.4"/><circle cx="538.1" cy="163.8" r="2.4"/><circle cx="538" cy="159.8" r="2.4"/><circle cx="538.2" cy="165.2" r="2.4"/><circle cx="537.8" cy="163.4" r="2.4"/><circle cx="539.6" cy="161.5" r="2.4"/><circle cx="538.8" cy="170.1" r="2.4"/><circle cx="539.8" cy="176.5" r="2.4"/><circle cx="541.7" cy="174.7" r="2.4"/><circle cx="542.2" cy="173.1" r="2.4"/><circle cx="542.3" cy="175.2" r="2.4"/><circle cx="542" cy="182.2" r="2.4"/><circle cx="543.4" cy="181.2" r="2.4"/><circle cx="543.8" cy="182.5" r="2.4"/><circle cx="545.2" cy="183.7" r="2.4"/><circle cx="546.8" cy="185.5" r="2.4"/><circle cx="546.1" cy="189.1" r="2.4"/><circle cx="546.1" cy="189.9" r="2.4"/><circle cx="546.5" cy="190.6" r="2.4"/><circle cx="547.8" cy="188.8" r="2.4"/><circle cx="548.3" cy="194.4" r="2.4"/><circle cx="548.3" cy="192.8" r="2.4"/><circle cx="549.7" cy="198.9" r="2.4"/><circle cx="549.5" cy="194.3" r="2.4"/><circle cx="551.5" cy="198.8" r="2.4"/><circle cx="552" cy="200.6" r="2.4"/><circle cx="552.7" cy="198.7" r="2.4"/><circle cx="552.3" cy="208.2" r="2.4"/><circle cx="553.5" cy="209" r="2.4"/><circle cx="553.7" cy="205.6" r="2.4"/><circle cx="554.2" cy="210.3" r="2.4"/><circle cx="554.8" cy="210.9" r="2.4"/><circle cx="554.8" cy="204.7" r="2.4"/><circle cx="555.3" cy="213.7" r="2.4"/><circle cx="557.3" cy="214.4" r="2.4"/><circle cx="557.3" cy="216.4" r="2.4"/><circle cx="558.1" cy="214.9" r="2.4"/><circle cx="559.2" cy="218.6" r="2.4"/><circle cx="558.2" cy="220.4" r="2.4"/><circle cx="559.3" cy="225.6" r="2.4"/><circle cx="560.5" cy="225" r="2.4"/><circle cx="561.2" cy="225.7" r="2.4"/></g>
<g fill="none" stroke="#ea5050" stroke-width="0.8" clip-path="url(#clc)"><circle cx="492.6" cy="8" r="2.4"/><circle cx="493.4" cy="33.1" r="2.4"/><circle cx="494.2" cy="40.4" r="2.4"/><circle cx="495" cy="45.6" r="2.4"/><circle cx="495.9" cy="50.7" r="2.4"/><circle cx="496.7" cy="56.1" r="2.4"/><circle cx="497.5" cy="58.3" r="2.4"/><circle cx="498.3" cy="57.9" r="2.4"/><circle cx="499.1" cy="62.9" r="2.4"/><circle cx="499.9" cy="63.5" r="2.4"/><circle cx="500.7" cy="65.6" r="2.4"/><circle cx="501.5" cy="64.8" r="2.4"/><circle cx="502.4" cy="65.9" r="2.4"/><circle cx="503.2" cy="65.9" r="2.4"/><circle cx="504" cy="71" r="2.4"/><circle cx="504.8" cy="68.7" r="2.4"/><circle cx="505.6" cy="71.5" r="2.4"/><circle cx="506.4" cy="69.6" r="2.4"/><circle cx="507.2" cy="71.4" r="2.4"/><circle cx="508" cy="70.1" r="2.4"/><circle cx="508.9" cy="72.5" r="2.4"/><circle cx="509.7" cy="75.1" r="2.4"/><circle cx="510.5" cy="73.1" r="2.4"/><circle cx="511.3" cy="76.8" r="2.4"/><circle cx="512.1" cy="76.6" r="2.4"/><circle cx="512.9" cy="75.5" r="2.4"/><circle cx="513.7" cy="77" r="2.4"/><circle cx="514.5" cy="77.7" r="2.4"/><circle cx="515.4" cy="78.9" r="2.4"/><circle cx="516.2" cy="78.9" r="2.4"/><circle cx="517" cy="79.1" r="2.4"/><circle cx="517.8" cy="80.4" r="2.4"/><circle cx="518.6" cy="80" r="2.4"/><circle cx="519.4" cy="80.1" r="2.4"/><circle cx="520.2" cy="82.5" r="2.4"/><circle cx="521" cy="84.4" r="2.4"/><circle cx="521.9" cy="81.4" r="2.4"/><circle cx="522.7" cy="84.2" r="2.4"/><circle cx="523.5" cy="83.8" r="2.4"/><circle cx="524.3" cy="83.8" r="2.4"/><circle cx="525.1" cy="87.2" r="2.4"/><circle cx="525.9" cy="85.6" r="2.4"/><circle cx="526.7" cy="89.4" r="2.4"/><circle cx="527.5" cy="86.3" r="2.4"/><circle cx="528.4" cy="88.8" r="2.4"/><circle cx="529.2" cy="88.3" r="2.4"/><circle cx="530" cy="88" r="2.4"/><circle cx="530.8" cy="90.8" r="2.4"/><circle cx="531.6" cy="90.1" r="2.4"/><circle cx="532.4" cy="92" r="2.4"/><circle cx="533.2" cy="91.4" r="2.4"/><circle cx="534" cy="90.1" r="2.4"/><circle cx="534.9" cy="92.3" r="2.4"/><circle cx="535.7" cy="93.1" r="2.4"/><circle cx="536.5" cy="95.3" r="2.4"/><circle cx="537.3" cy="92.4" r="2.4"/><circle cx="538.1" cy="94.5" r="2.4"/><circle cx="538.9" cy="91.9" r="2.4"/><circle cx="539.7" cy="96.7" r="2.4"/><circle cx="540.5" cy="94" r="2.4"/><circle cx="541.4" cy="93.1" r="2.4"/><circle cx="542.2" cy="96.8" r="2.4"/><circle cx="543" cy="99.5" r="2.4"/><circle cx="543.8" cy="94.9" r="2.4"/><circle cx="544.6" cy="96.2" r="2.4"/><circle cx="545.4" cy="97.3" r="2.4"/><circle cx="546.2" cy="97" r="2.4"/><circle cx="547" cy="100.4" r="2.4"/><circle cx="547.9" cy="98.4" r="2.4"/><circle cx="548.7" cy="99" r="2.4"/><circle cx="549.5" cy="102.1" r="2.4"/><circle cx="550.3" cy="99.8" r="2.4"/><circle cx="551.1" cy="102.7" r="2.4"/><circle cx="551.9" cy="100.1" r="2.4"/><circle cx="552.7" cy="100" r="2.4"/><circle cx="553.5" cy="99" r="2.4"/><circle cx="554.4" cy="107.3" r="2.4"/><circle cx="555.2" cy="103" r="2.4"/><circle cx="556" cy="104.6" r="2.4"/><circle cx="556.8" cy="104.4" r="2.4"/><circle cx="557.6" cy="105.2" r="2.4"/><circle cx="558.4" cy="105.3" r="2.4"/><circle cx="559.2" cy="109.9" r="2.4"/><circle cx="560" cy="103.7" r="2.4"/><circle cx="560.9" cy="102.9" r="2.4"/><circle cx="561.7" cy="104.5" r="2.4"/><circle cx="562.5" cy="104.2" r="2.4"/><circle cx="563.3" cy="109.4" r="2.4"/><circle cx="564.1" cy="110" r="2.4"/><circle cx="564.9" cy="106.2" r="2.4"/><circle cx="565.7" cy="105.6" r="2.4"/><circle cx="566.5" cy="108.5" r="2.4"/><circle cx="567.4" cy="113.1" r="2.4"/><circle cx="568.2" cy="103.3" r="2.4"/><circle cx="569" cy="111.8" r="2.4"/><circle cx="569.8" cy="108.3" r="2.4"/><circle cx="570.6" cy="114" r="2.4"/><circle cx="571.4" cy="109.1" r="2.4"/><circle cx="572.2" cy="111.5" r="2.4"/><circle cx="573" cy="108.9" r="2.4"/><circle cx="573.9" cy="110.6" r="2.4"/><circle cx="574.7" cy="117.1" r="2.4"/><circle cx="575.5" cy="116.1" r="2.4"/><circle cx="576.3" cy="113.3" r="2.4"/><circle cx="577.1" cy="112.5" r="2.4"/><circle cx="577.9" cy="110.3" r="2.4"/><circle cx="578.7" cy="114.6" r="2.4"/><circle cx="579.5" cy="116" r="2.4"/><circle cx="580.4" cy="116.3" r="2.4"/><circle cx="581.2" cy="116.7" r="2.4"/><circle cx="582" cy="114.5" r="2.4"/><circle cx="582.8" cy="117.6" r="2.4"/><circle cx="583.6" cy="118.2" r="2.4"/><circle cx="584.4" cy="122" r="2.4"/><circle cx="585.2" cy="124" r="2.4"/><circle cx="586.1" cy="119.2" r="2.4"/><circle cx="586.9" cy="118" r="2.4"/><circle cx="587.7" cy="120.3" r="2.4"/><circle cx="588.5" cy="119.3" r="2.4"/><circle cx="589.3" cy="119.4" r="2.4"/><circle cx="590.1" cy="121.6" r="2.4"/><circle cx="590.9" cy="119.5" r="2.4"/><circle cx="591.7" cy="124.2" r="2.4"/><circle cx="592.6" cy="122.8" r="2.4"/><circle cx="593.4" cy="124.2" r="2.4"/><circle cx="594.2" cy="123.5" r="2.4"/><circle cx="595" cy="122.5" r="2.4"/><circle cx="595.8" cy="122.4" r="2.4"/><circle cx="596.6" cy="124.6" r="2.4"/><circle cx="597.4" cy="124.3" r="2.4"/><circle cx="598.2" cy="126.7" r="2.4"/><circle cx="599.1" cy="126.6" r="2.4"/><circle cx="599.9" cy="123.5" r="2.4"/><circle cx="600.7" cy="127.6" r="2.4"/><circle cx="601.5" cy="124.4" r="2.4"/><circle cx="602.3" cy="126.7" r="2.4"/><circle cx="603.1" cy="128" r="2.4"/><circle cx="603.9" cy="123.8" r="2.4"/><circle cx="604.7" cy="129.8" r="2.4"/><circle cx="605.6" cy="130.4" r="2.4"/><circle cx="606.4" cy="130.1" r="2.4"/><circle cx="607.2" cy="129.8" r="2.4"/><circle cx="608" cy="130.4" r="2.4"/><circle cx="608.8" cy="129.2" r="2.4"/><circle cx="609.6" cy="131.5" r="2.4"/><circle cx="610.4" cy="131.2" r="2.4"/><circle cx="611.2" cy="133.3" r="2.4"/><circle cx="612.1" cy="130.4" r="2.4"/><circle cx="612.9" cy="134.6" r="2.4"/><circle cx="613.7" cy="134.8" r="2.4"/><circle cx="614.5" cy="134.5" r="2.4"/><circle cx="615.3" cy="134.1" r="2.4"/><circle cx="616.1" cy="137.1" r="2.4"/><circle cx="616.9" cy="131.8" r="2.4"/><circle cx="617.7" cy="137.8" r="2.4"/><circle cx="618.6" cy="137.7" r="2.4"/><circle cx="619.4" cy="138.2" r="2.4"/><circle cx="620.2" cy="138.9" r="2.4"/><circle cx="621" cy="136.7" r="2.4"/><circle cx="621.8" cy="138.2" r="2.4"/><circle cx="622.6" cy="140.9" r="2.4"/><circle cx="623.4" cy="140.9" r="2.4"/><circle cx="624.2" cy="140.7" r="2.4"/><circle cx="625.1" cy="136.7" r="2.4"/><circle cx="625.9" cy="142.4" r="2.4"/><circle cx="626.7" cy="144.5" r="2.4"/><circle cx="627.5" cy="144.5" r="2.4"/><circle cx="628.3" cy="142.9" r="2.4"/><circle cx="629.1" cy="138.7" r="2.4"/><circle cx="629.9" cy="145.6" r="2.4"/><circle cx="630.7" cy="143.2" r="2.4"/><circle cx="631.6" cy="137.5" r="2.4"/><circle cx="632.4" cy="145.5" r="2.4"/><circle cx="633.2" cy="141.1" r="2.4"/><circle cx="634" cy="142" r="2.4"/><circle cx="634.8" cy="144.2" r="2.4"/><circle cx="635.6" cy="149.6" r="2.4"/><circle cx="636.4" cy="145.8" r="2.4"/><circle cx="637.2" cy="147.9" r="2.4"/><circle cx="638.1" cy="152.1" r="2.4"/><circle cx="638.9" cy="152.2" r="2.4"/><circle cx="639.7" cy="148.2" r="2.4"/><circle cx="640.5" cy="148.2" r="2.4"/><circle cx="641.3" cy="146" r="2.4"/><circle cx="642.1" cy="147.9" r="2.4"/><circle cx="642.9" cy="151.3" r="2.4"/><circle cx="643.7" cy="151.6" r="2.4"/><circle cx="644.6" cy="151.3" r="2.4"/><circle cx="645.4" cy="154" r="2.4"/><circle cx="646.2" cy="149.8" r="2.4"/><circle cx="647" cy="152.1" r="2.4"/><circle cx="647.8" cy="154.6" r="2.4"/><circle cx="648.6" cy="154.6" r="2.4"/><circle cx="649.4" cy="156.3" r="2.4"/><circle cx="650.2" cy="155" r="2.4"/><circle cx="651.1" cy="153.6" r="2.4"/><circle cx="651.9" cy="155.8" r="2.4"/><circle cx="652.7" cy="152.6" r="2.4"/><circle cx="653.5" cy="151.4" r="2.4"/><circle cx="654.3" cy="157.6" r="2.4"/><circle cx="655.1" cy="156.4" r="2.4"/><circle cx="655.9" cy="157.7" r="2.4"/><circle cx="656.7" cy="152.9" r="2.4"/><circle cx="657.6" cy="156.8" r="2.4"/><circle cx="658.4" cy="156.6" r="2.4"/><circle cx="659.2" cy="156.3" r="2.4"/><circle cx="660" cy="153.1" r="2.4"/><circle cx="660.8" cy="158.5" r="2.4"/><circle cx="661.6" cy="162.2" r="2.4"/><circle cx="662.4" cy="161.2" r="2.4"/><circle cx="663.2" cy="159.1" r="2.4"/><circle cx="664.1" cy="161" r="2.4"/><circle cx="664.9" cy="163.4" r="2.4"/><circle cx="665.7" cy="154.7" r="2.4"/><circle cx="666.5" cy="161.9" r="2.4"/></g>
<path d="M492.4,2.5 492.8,10.2 493.2,18.5 493.6,26.5 494,31.2 494.4,34.3 494.8,36.9 495.2,39.7 495.7,42.3 496.1,44.8 496.5,47.4 496.9,49.9 497.3,52.3 497.7,54.7 498.1,57 498.5,59.2 498.9,61.2 499.3,63.1 499.7,64.9 500.1,66.5 500.5,68.2 500.9,69.7 501.3,71.2 501.7,72.7 502.2,74.1 502.6,75.5 503,76.9 503.4,78.2 503.8,79.6 504.2,80.9 504.6,82.2 505,83.4 505.4,84.7 505.8,85.9 506.2,87.1 506.6,88.2 507,89.4 507.4,90.5 507.8,91.7 508.2,92.8 508.7,93.9 509.1,95.1 509.5,96.2 509.9,97.3 510.3,98.4 510.7,99.6 511.1,100.7 511.5,101.8 511.9,103 512.3,104.1 512.7,105.2 513.1,106.4 513.5,107.5 513.9,108.6 514.3,109.7 514.7,110.8 515.2,111.8 515.6,112.9 516,113.9 516.4,115 516.8,116 517.2,116.9 517.6,117.9 518,118.8 518.4,119.8 518.8,120.7 519.2,121.6 519.6,122.5 520,123.3 520.4,124.2 520.8,125.1 521.2,125.9 521.7,126.8 522.1,127.6 522.5,128.5 522.9,129.3 523.3,130.2 523.7,131.1 524.1,132 524.5,132.9 524.9,133.8 525.3,134.8 525.7,135.7 526.1,136.7 526.5,137.6 526.9,138.6 527.3,139.6 527.7,140.6 528.2,141.6 528.6,142.6 529,143.6 529.4,144.6 529.8,145.7 530.2,146.7 530.6,147.7 531,148.7 531.4,149.8 531.8,150.8 532.2,151.8 532.6,152.8 533,153.8 533.4,154.8 533.8,155.9 534.2,156.9 534.7,157.9 535.1,158.9 535.5,160 535.9,161 536.3,162 536.7,163.1 537.1,164.1 537.5,165.1 537.9,166.2 538.3,167.2 538.7,168.2 539.1,169.3 539.5,170.3 539.9,171.4 540.3,172.4 540.7,173.4 541.2,174.5 541.6,175.5 542,176.6 542.4,177.6 542.8,178.7 543.2,179.7 543.6,180.8 544,181.8 544.4,182.9 544.8,183.9 545.2,185 545.6,186 546,187 546.4,188.1 546.8,189.1 547.2,190.2 547.7,191.2 548.1,192.2 548.5,193.2 548.9,194.3 549.3,195.3 549.7,196.3 550.1,197.3 550.5,198.4 550.9,199.4 551.3,200.4 551.7,201.5 552.1,202.5 552.5,203.5 552.9,204.6 553.3,205.6 553.7,206.6 554.2,207.7 554.6,208.7 555,209.8 555.4,210.9 555.8,211.9 556.2,213 556.6,214.1 557,215.1" fill="none" stroke="#3a3ae6" stroke-width="1.3" stroke-linejoin="round" clip-path="url(#clc)"/>
<path d="M492.4,2.5 493.3,30.2 494.2,39.5 495,46.8 495.9,51.9 496.8,55.8 497.7,58.4 498.5,60.4 499.4,62 500.3,63.5 501.2,64.7 502.1,65.9 502.9,66.9 503.8,67.9 504.7,68.8 505.6,69.6 506.4,70.4 507.3,71.3 508.2,72.3 509.1,73.2 509.9,74.2 510.8,75 511.7,75.8 512.6,76.6 513.5,77.4 514.3,78.1 515.2,78.9 516.1,79.6 517,80.2 517.8,80.9 518.7,81.5 519.6,82.1 520.5,82.7 521.4,83.3 522.2,83.9 523.1,84.5 524,85.1 524.9,85.7 525.7,86.3 526.6,87 527.5,87.6 528.4,88.2 529.3,88.8 530.1,89.4 531,90 531.9,90.6 532.8,91.2 533.6,91.7 534.5,92.3 535.4,92.9 536.3,93.4 537.1,94 538,94.5 538.9,95 539.8,95.5 540.7,96.1 541.5,96.6 542.4,97.1 543.3,97.6 544.2,98.1 545,98.5 545.9,99 546.8,99.5 547.7,100 548.6,100.4 549.4,100.9 550.3,101.3 551.2,101.8 552.1,102.2 552.9,102.7 553.8,103.1 554.7,103.5 555.6,103.9 556.4,104.3 557.3,104.7 558.2,105.1 559.1,105.6 560,106 560.8,106.4 561.7,106.9 562.6,107.3 563.5,107.7 564.3,108.2 565.2,108.6 566.1,109.1 567,109.5 567.9,110 568.7,110.4 569.6,110.9 570.5,111.3 571.4,111.8 572.2,112.2 573.1,112.7 574,113.2 574.9,113.6 575.8,114.1 576.6,114.5 577.5,115 578.4,115.5 579.3,115.9 580.1,116.4 581,116.9 581.9,117.3 582.8,117.8 583.6,118.3 584.5,118.7 585.4,119.2 586.3,119.7 587.2,120.2 588,120.6 588.9,121.1 589.8,121.6 590.7,122.1 591.5,122.5 592.4,123 593.3,123.5 594.2,124 595.1,124.4 595.9,124.9 596.8,125.4 597.7,125.8 598.6,126.3 599.4,126.8 600.3,127.2 601.2,127.7 602.1,128.2 603,128.6 603.8,129.1 604.7,129.6 605.6,130 606.5,130.5 607.3,131 608.2,131.5 609.1,131.9 610,132.4 610.8,132.9 611.7,133.3 612.6,133.8 613.5,134.3 614.4,134.8 615.2,135.2 616.1,135.7 617,136.2 617.9,136.7 618.7,137.2 619.6,137.6 620.5,138.1 621.4,138.6 622.3,139.1 623.1,139.6 624,140 624.9,140.5 625.8,141 626.6,141.5 627.5,141.9 628.4,142.4 629.3,142.8 630.1,143.3 631,143.7 631.9,144.2 632.8,144.6 633.7,145 634.5,145.4 635.4,145.9 636.3,146.3 637.2,146.7 638,147.1 638.9,147.5 639.8,148 640.7,148.4 641.6,148.8 642.4,149.2 643.3,149.6 644.2,150 645.1,150.4 645.9,150.8 646.8,151.2 647.7,151.6 648.6,152.1 649.5,152.5 650.3,152.9 651.2,153.3 652.1,153.7 653,154.1 653.8,154.5 654.7,154.9 655.6,155.3 656.5,155.7 657.3,156.1 658.2,156.5 659.1,156.9 660,157.3 660.9,157.7 661.7,158.1 662.6,158.5 663.5,158.9 664.4,159.3 665.2,159.7 666.1,160 667,160.4" fill="none" stroke="#ec4444" stroke-width="1.3" stroke-linejoin="round" clip-path="url(#clc)"/>
<rect x="492.4" y="1.3" width="180.2" height="208.5" fill="none" stroke="#444" stroke-width="0.9"/>
<line x1="490.6" y1="10.5" x2="492.4" y2="10.5" stroke="#3a3a3a" stroke-width="1"/>
<line x1="490.6" y1="20.2" x2="492.4" y2="20.2" stroke="#3a3a3a" stroke-width="1"/>
<line x1="490.6" y1="31.5" x2="492.4" y2="31.5" stroke="#3a3a3a" stroke-width="1"/>
<line x1="490.6" y1="43.6" x2="492.4" y2="43.6" stroke="#3a3a3a" stroke-width="1"/>
<line x1="490.6" y1="59" x2="492.4" y2="59" stroke="#3a3a3a" stroke-width="1"/>
<line x1="490.6" y1="77.5" x2="492.4" y2="77.5" stroke="#3a3a3a" stroke-width="1"/>
<line x1="490.6" y1="100.2" x2="492.4" y2="100.2" stroke="#3a3a3a" stroke-width="1"/>
<line x1="490.6" y1="134" x2="492.4" y2="134" stroke="#3a3a3a" stroke-width="1"/>
<line x1="490.6" y1="200.6" x2="492.4" y2="200.6" stroke="#3a3a3a" stroke-width="1"/>
<line x1="489" y1="191.6" x2="492.4" y2="191.6" stroke="#3a3a3a" stroke-width="1"/>
<line x1="492.4" y1="209.8" x2="492.4" y2="213" stroke="#3a3a3a" stroke-width="1"/>
<text x="492.4" y="223.6" font-size="11.0" text-anchor="middle" fill="#000">0</text>
<line x1="528.44" y1="209.8" x2="528.44" y2="213" stroke="#3a3a3a" stroke-width="1"/>
<text x="528.44" y="223.6" font-size="11.0" text-anchor="middle" fill="#000">1000</text>
<line x1="564.48" y1="209.8" x2="564.48" y2="213" stroke="#3a3a3a" stroke-width="1"/>
<text x="564.48" y="223.6" font-size="11.0" text-anchor="middle" fill="#000">2000</text>
<line x1="600.52" y1="209.8" x2="600.52" y2="213" stroke="#3a3a3a" stroke-width="1"/>
<text x="600.52" y="223.6" font-size="11.0" text-anchor="middle" fill="#000">3000</text>
<line x1="636.56" y1="209.8" x2="636.56" y2="213" stroke="#3a3a3a" stroke-width="1"/>
<text x="636.56" y="223.6" font-size="11.0" text-anchor="middle" fill="#000">4000</text>
<line x1="672.6" y1="209.8" x2="672.6" y2="213" stroke="#3a3a3a" stroke-width="1"/>
<text x="672.6" y="223.6" font-size="11.0" text-anchor="middle" fill="#000">5000</text>
<line x1="510.42" y1="209.8" x2="510.42" y2="211.6" stroke="#3a3a3a" stroke-width="1"/>
<line x1="546.46" y1="209.8" x2="546.46" y2="211.6" stroke="#3a3a3a" stroke-width="1"/>
<line x1="582.5" y1="209.8" x2="582.5" y2="211.6" stroke="#3a3a3a" stroke-width="1"/>
<line x1="618.54" y1="209.8" x2="618.54" y2="211.6" stroke="#3a3a3a" stroke-width="1"/>
<line x1="654.58" y1="209.8" x2="654.58" y2="211.6" stroke="#3a3a3a" stroke-width="1"/>
<text x="582.6" y="239.2" font-size="13.6" text-anchor="middle" fill="#000">Time (ns)</text>
<text x="483" y="105.6" font-size="13.6" text-anchor="middle" fill="#000" transform="rotate(-90 483 105.6)">Normalized intensity</text>
<circle cx="511.6" cy="9.5" r="2.3" fill="none" stroke="#4848e6" stroke-width="0.8"/>
<text x="525.7" y="12.7" font-size="12.3" text-anchor="start" fill="#000">Control</text>
<line x1="500.8" y1="24.5" x2="522.8" y2="24.5" stroke="#3a3ae6" stroke-width="1.3"/>
<text x="525.7" y="27.5" font-size="12.3" text-anchor="start" fill="#000">Control-Fit</text>
<circle cx="511.6" cy="39.3" r="2.3" fill="none" stroke="#ea5050" stroke-width="0.8"/>
<text x="525.7" y="42.3" font-size="12.3" text-anchor="start" fill="#000">Target</text>
<line x1="500.8" y1="54.3" x2="522.8" y2="54.3" stroke="#ec4444" stroke-width="1.3"/>
<text x="525.7" y="57.1" font-size="12.3" text-anchor="start" fill="#000">Target-Fit</text>
<rect x="607" y="12" width="24" height="94" fill="#4b41f5"/>
<rect x="631" y="12" width="9" height="94" fill="#8888f0"/>
<rect x="640" y="12" width="4" height="94" fill="#b4b4f4"/>
<rect x="644" y="12" width="24" height="94" fill="#f07078"/>
<text x="624.8" y="81.1" font-size="14.5" text-anchor="middle" fill="#fff" transform="rotate(-90 624.8 81.1)">Glass</text>
<text x="640" y="90.4" font-size="10" text-anchor="middle" fill="#000" transform="rotate(-90 640 90.4)">FTO</text>
<text x="644.2" y="33.9" font-size="9.5" text-anchor="middle" fill="#000" transform="rotate(-90 644.2 33.9)">SAM</text>
<text x="662.9" y="59" font-size="14.7" text-anchor="middle" fill="#000" transform="rotate(-90 662.9 59)">Perovskite</text>
<text x="591.7" y="52.9" font-size="11.4" text-anchor="middle" fill="#dd22e0" transform="rotate(90 591.7 52.9)">Excitation</text>
<line x1="586" y1="86" x2="593.2" y2="86" stroke="#dd22e0" stroke-width="1.6"/>
<polygon points="606.4,86 599.4,82.8 599.4,89.2" fill="#dd22e0"/>
<text x="458.3" y="19.5" font-size="22" text-anchor="start" fill="#000" font-weight="bold">c</text>
<g fill="none" stroke="#4848e6" stroke-width="0.9" clip-path="url(#cld)"><circle cx="33.5" cy="253.7" r="2.5"/><circle cx="34" cy="256.2" r="2.5"/><circle cx="34.5" cy="259.7" r="2.5"/><circle cx="35.1" cy="264.1" r="2.5"/><circle cx="35.6" cy="268.8" r="2.5"/><circle cx="36.1" cy="272.8" r="2.5"/><circle cx="36.6" cy="276.3" r="2.5"/><circle cx="37.1" cy="278.3" r="2.5"/><circle cx="37.7" cy="281.2" r="2.5"/><circle cx="38.2" cy="284.1" r="2.5"/><circle cx="38.7" cy="286.9" r="2.5"/><circle cx="39.2" cy="287.4" r="2.5"/><circle cx="39.7" cy="289.2" r="2.5"/><circle cx="40.3" cy="291.1" r="2.5"/><circle cx="40.8" cy="293.5" r="2.5"/><circle cx="41.3" cy="293.9" r="2.5"/><circle cx="41.8" cy="296.6" r="2.5"/><circle cx="42.3" cy="295.9" r="2.5"/><circle cx="42.9" cy="297.8" r="2.5"/><circle cx="43.4" cy="299.1" r="2.5"/><circle cx="43.9" cy="301.2" r="2.5"/><circle cx="44.4" cy="302.8" r="2.5"/><circle cx="44.9" cy="301.7" r="2.5"/><circle cx="45.5" cy="303.7" r="2.5"/><circle cx="46" cy="306.5" r="2.5"/><circle cx="46.5" cy="307" r="2.5"/><circle cx="47" cy="307.6" r="2.5"/><circle cx="47.5" cy="312" r="2.5"/><circle cx="48.1" cy="313.1" r="2.5"/><circle cx="48.6" cy="314.7" r="2.5"/><circle cx="49.1" cy="315.2" r="2.5"/><circle cx="49.6" cy="318.7" r="2.5"/><circle cx="50.1" cy="318.8" r="2.5"/><circle cx="50.7" cy="322.1" r="2.5"/><circle cx="51.2" cy="321.2" r="2.5"/><circle cx="51.7" cy="322.9" r="2.5"/><circle cx="52.2" cy="326" r="2.5"/><circle cx="52.7" cy="326.5" r="2.5"/><circle cx="53.3" cy="330.1" r="2.5"/><circle cx="53.8" cy="331.2" r="2.5"/><circle cx="54.3" cy="331.2" r="2.5"/><circle cx="54.8" cy="334.3" r="2.5"/><circle cx="55.3" cy="335.3" r="2.5"/><circle cx="55.9" cy="338.8" r="2.5"/><circle cx="56.4" cy="338.1" r="2.5"/><circle cx="56.9" cy="340" r="2.5"/><circle cx="57.4" cy="344.2" r="2.5"/><circle cx="57.9" cy="347.5" r="2.5"/><circle cx="58.5" cy="348.7" r="2.5"/><circle cx="59" cy="347" r="2.5"/><circle cx="59.5" cy="348.6" r="2.5"/><circle cx="60" cy="352.2" r="2.5"/><circle cx="60.5" cy="350.6" r="2.5"/><circle cx="61.1" cy="350.2" r="2.5"/><circle cx="61.6" cy="353.3" r="2.5"/><circle cx="62.1" cy="355" r="2.5"/><circle cx="62.6" cy="353.7" r="2.5"/><circle cx="63.1" cy="353.2" r="2.5"/><circle cx="63.7" cy="354.6" r="2.5"/><circle cx="64.2" cy="359.7" r="2.5"/><circle cx="64.7" cy="357.9" r="2.5"/><circle cx="65.2" cy="360.1" r="2.5"/><circle cx="65.7" cy="361.8" r="2.5"/><circle cx="66.3" cy="363.6" r="2.5"/><circle cx="66.8" cy="362.6" r="2.5"/><circle cx="67.3" cy="365.3" r="2.5"/><circle cx="67.8" cy="363.2" r="2.5"/><circle cx="68.3" cy="365.3" r="2.5"/><circle cx="68.9" cy="364.8" r="2.5"/><circle cx="69.4" cy="370.4" r="2.5"/><circle cx="69.9" cy="368.8" r="2.5"/><circle cx="70.4" cy="368.1" r="2.5"/><circle cx="70.9" cy="369.8" r="2.5"/><circle cx="71.5" cy="371" r="2.5"/><circle cx="72" cy="374" r="2.5"/><circle cx="72.5" cy="369.4" r="2.5"/><circle cx="73" cy="371.6" r="2.5"/><circle cx="73.5" cy="374" r="2.5"/><circle cx="74.1" cy="382" r="2.5"/><circle cx="74.6" cy="379" r="2.5"/><circle cx="75.1" cy="377.2" r="2.5"/><circle cx="75.6" cy="380.2" r="2.5"/><circle cx="76.1" cy="384.5" r="2.5"/><circle cx="76.7" cy="379.5" r="2.5"/><circle cx="77.2" cy="380.1" r="2.5"/><circle cx="77.7" cy="385.1" r="2.5"/><circle cx="78.2" cy="384.2" r="2.5"/><circle cx="78.7" cy="385.6" r="2.5"/><circle cx="79.3" cy="383.3" r="2.5"/><circle cx="79.8" cy="390.9" r="2.5"/><circle cx="80.3" cy="391.2" r="2.5"/><circle cx="80.8" cy="388.9" r="2.5"/><circle cx="81.3" cy="390.2" r="2.5"/><circle cx="81.9" cy="383.3" r="2.5"/><circle cx="82.4" cy="391.8" r="2.5"/><circle cx="82.9" cy="390.3" r="2.5"/><circle cx="83.4" cy="392.9" r="2.5"/><circle cx="83.9" cy="394.5" r="2.5"/><circle cx="84.5" cy="392.3" r="2.5"/><circle cx="85" cy="389.1" r="2.5"/><circle cx="85.5" cy="396.1" r="2.5"/><circle cx="86" cy="393.5" r="2.5"/><circle cx="86.5" cy="395.6" r="2.5"/><circle cx="87.1" cy="395.5" r="2.5"/><circle cx="87.6" cy="397.1" r="2.5"/><circle cx="88.1" cy="391.7" r="2.5"/><circle cx="88.6" cy="403.6" r="2.5"/><circle cx="89.1" cy="401.3" r="2.5"/><circle cx="89.7" cy="404.9" r="2.5"/><circle cx="90.2" cy="408.5" r="2.5"/><circle cx="90.7" cy="402.8" r="2.5"/><circle cx="91.2" cy="397.5" r="2.5"/><circle cx="91.7" cy="401.2" r="2.5"/><circle cx="92.3" cy="400.9" r="2.5"/><circle cx="92.8" cy="404" r="2.5"/><circle cx="93.3" cy="406.6" r="2.5"/><circle cx="93.8" cy="400.2" r="2.5"/><circle cx="94.3" cy="409" r="2.5"/><circle cx="94.9" cy="403.2" r="2.5"/><circle cx="95.4" cy="410.2" r="2.5"/><circle cx="95.9" cy="409.5" r="2.5"/><circle cx="96.4" cy="409.4" r="2.5"/><circle cx="96.9" cy="411" r="2.5"/><circle cx="97.5" cy="410" r="2.5"/><circle cx="98" cy="410.4" r="2.5"/><circle cx="98.5" cy="407.2" r="2.5"/><circle cx="99" cy="413.9" r="2.5"/><circle cx="99.5" cy="421.6" r="2.5"/><circle cx="100.1" cy="422.9" r="2.5"/><circle cx="100.6" cy="421.1" r="2.5"/><circle cx="101.1" cy="419.5" r="2.5"/><circle cx="101.6" cy="414.9" r="2.5"/><circle cx="102.1" cy="423.8" r="2.5"/><circle cx="102.7" cy="418.7" r="2.5"/><circle cx="103.2" cy="419.3" r="2.5"/><circle cx="103.7" cy="419.1" r="2.5"/><circle cx="104.2" cy="421.2" r="2.5"/><circle cx="104.7" cy="419.8" r="2.5"/><circle cx="105.3" cy="421.8" r="2.5"/><circle cx="105.8" cy="418.4" r="2.5"/><circle cx="106.3" cy="421.9" r="2.5"/><circle cx="106.8" cy="433.1" r="2.5"/><circle cx="107.3" cy="424.3" r="2.5"/><circle cx="107.9" cy="424.2" r="2.5"/><circle cx="108.4" cy="427.9" r="2.5"/><circle cx="108.9" cy="429.1" r="2.5"/><circle cx="109.4" cy="422.4" r="2.5"/><circle cx="109.9" cy="426.6" r="2.5"/><circle cx="110.5" cy="431.7" r="2.5"/><circle cx="111" cy="429.6" r="2.5"/><circle cx="111.5" cy="429.6" r="2.5"/><circle cx="112" cy="435.9" r="2.5"/><circle cx="112.6" cy="427.5" r="2.5"/><circle cx="113.1" cy="431" r="2.5"/><circle cx="113.6" cy="429.1" r="2.5"/><circle cx="114.1" cy="437.6" r="2.5"/><circle cx="114.6" cy="424.4" r="2.5"/><circle cx="115.2" cy="430" r="2.5"/><circle cx="115.7" cy="431" r="2.5"/><circle cx="116.2" cy="436.2" r="2.5"/><circle cx="116.7" cy="436.5" r="2.5"/><circle cx="117.2" cy="440.1" r="2.5"/><circle cx="117.8" cy="428.7" r="2.5"/><circle cx="118.3" cy="438.4" r="2.5"/><circle cx="118.8" cy="434.7" r="2.5"/><circle cx="119.3" cy="433.7" r="2.5"/><circle cx="119.8" cy="438.9" r="2.5"/><circle cx="120.4" cy="433.5" r="2.5"/><circle cx="120.9" cy="429.4" r="2.5"/><circle cx="121.4" cy="436.6" r="2.5"/><circle cx="121.9" cy="432.6" r="2.5"/><circle cx="122.4" cy="436.4" r="2.5"/><circle cx="123" cy="440.9" r="2.5"/><circle cx="123.5" cy="441.1" r="2.5"/><circle cx="124" cy="446.6" r="2.5"/><circle cx="124.5" cy="439.8" r="2.5"/><circle cx="125" cy="434.9" r="2.5"/><circle cx="125.6" cy="438.4" r="2.5"/><circle cx="126.1" cy="438.1" r="2.5"/><circle cx="126.6" cy="437.3" r="2.5"/><circle cx="127.1" cy="444.3" r="2.5"/><circle cx="127.6" cy="440.4" r="2.5"/><circle cx="128.2" cy="435.4" r="2.5"/><circle cx="128.7" cy="446.4" r="2.5"/><circle cx="129.2" cy="443.5" r="2.5"/><circle cx="129.7" cy="445.8" r="2.5"/><circle cx="130.2" cy="445.1" r="2.5"/><circle cx="130.8" cy="447.5" r="2.5"/><circle cx="131.3" cy="445.4" r="2.5"/><circle cx="131.8" cy="450.5" r="2.5"/><circle cx="132.3" cy="447.5" r="2.5"/><circle cx="132.8" cy="447.7" r="2.5"/><circle cx="133.4" cy="448" r="2.5"/><circle cx="133.9" cy="440.8" r="2.5"/><circle cx="134.4" cy="446.3" r="2.5"/><circle cx="134.9" cy="446.2" r="2.5"/><circle cx="135.4" cy="448.3" r="2.5"/><circle cx="136" cy="442.3" r="2.5"/><circle cx="136.5" cy="454.5" r="2.5"/><circle cx="137" cy="448.6" r="2.5"/><circle cx="137.5" cy="443.6" r="2.5"/><circle cx="138" cy="441.9" r="2.5"/><circle cx="138.6" cy="447.8" r="2.5"/><circle cx="139.1" cy="448.8" r="2.5"/><circle cx="139.6" cy="446.5" r="2.5"/><circle cx="140.1" cy="450" r="2.5"/><circle cx="140.6" cy="447.3" r="2.5"/><circle cx="141.2" cy="452.3" r="2.5"/><circle cx="141.7" cy="447.4" r="2.5"/><circle cx="142.2" cy="450.3" r="2.5"/><circle cx="142.7" cy="454.6" r="2.5"/><circle cx="143.2" cy="461.2" r="2.5"/><circle cx="143.8" cy="447.1" r="2.5"/><circle cx="144.3" cy="449.4" r="2.5"/><circle cx="144.8" cy="448.1" r="2.5"/><circle cx="145.3" cy="454.8" r="2.5"/><circle cx="145.8" cy="447.2" r="2.5"/><circle cx="146.4" cy="450" r="2.5"/><circle cx="146.9" cy="452" r="2.5"/><circle cx="147.4" cy="448.4" r="2.5"/><circle cx="147.9" cy="448.6" r="2.5"/><circle cx="148.4" cy="450.7" r="2.5"/><circle cx="149" cy="444.3" r="2.5"/><circle cx="149.5" cy="447.1" r="2.5"/><circle cx="150" cy="451.3" r="2.5"/><circle cx="150.5" cy="453.7" r="2.5"/><circle cx="151" cy="452.5" r="2.5"/><circle cx="151.6" cy="446.3" r="2.5"/><circle cx="152.1" cy="451.6" r="2.5"/><circle cx="152.6" cy="456.8" r="2.5"/><circle cx="153.1" cy="455.9" r="2.5"/><circle cx="153.6" cy="453.5" r="2.5"/><circle cx="154.2" cy="450.3" r="2.5"/><circle cx="154.7" cy="456.5" r="2.5"/><circle cx="155.2" cy="451.8" r="2.5"/><circle cx="155.7" cy="449.5" r="2.5"/><circle cx="156.2" cy="451.1" r="2.5"/><circle cx="156.8" cy="460.1" r="2.5"/><circle cx="157.3" cy="455.3" r="2.5"/><circle cx="157.8" cy="459.2" r="2.5"/><circle cx="158.3" cy="452.7" r="2.5"/><circle cx="158.8" cy="458.4" r="2.5"/><circle cx="159.4" cy="452.4" r="2.5"/><circle cx="159.9" cy="454.2" r="2.5"/><circle cx="160.9" cy="458.1" r="2.5"/><circle cx="162" cy="455.2" r="2.5"/><circle cx="164.6" cy="454.4" r="2.5"/><circle cx="166.6" cy="457.1" r="2.5"/><circle cx="170.8" cy="463.6" r="2.5"/><circle cx="171.3" cy="452.9" r="2.5"/><circle cx="171.8" cy="456.2" r="2.5"/><circle cx="175.5" cy="456.7" r="2.5"/><circle cx="177.6" cy="455.8" r="2.5"/><circle cx="181.7" cy="466.2" r="2.5"/><circle cx="182.8" cy="461.2" r="2.5"/><circle cx="188.5" cy="461.9" r="2.5"/></g>
<g fill="none" stroke="#ea5050" stroke-width="0.85" clip-path="url(#cld)"><circle cx="33.5" cy="254.9" r="2.5"/><circle cx="34" cy="260.9" r="2.5"/><circle cx="34.6" cy="266.9" r="2.5"/><circle cx="35.1" cy="273.2" r="2.5"/><circle cx="35.7" cy="278.9" r="2.5"/><circle cx="36.2" cy="282.8" r="2.5"/><circle cx="36.8" cy="286.6" r="2.5"/><circle cx="37.3" cy="288.1" r="2.5"/><circle cx="37.8" cy="291.8" r="2.5"/><circle cx="38.4" cy="291.1" r="2.5"/><circle cx="38.9" cy="293.4" r="2.5"/><circle cx="39.5" cy="293" r="2.5"/><circle cx="40" cy="294.8" r="2.5"/><circle cx="40.6" cy="298.2" r="2.5"/><circle cx="41.1" cy="297.3" r="2.5"/><circle cx="41.6" cy="299.7" r="2.5"/><circle cx="42.2" cy="300.2" r="2.5"/><circle cx="42.7" cy="300.2" r="2.5"/><circle cx="43.3" cy="301.8" r="2.5"/><circle cx="43.8" cy="302.5" r="2.5"/><circle cx="44.4" cy="303.3" r="2.5"/><circle cx="44.9" cy="305.3" r="2.5"/><circle cx="45.4" cy="305.9" r="2.5"/><circle cx="46" cy="305.3" r="2.5"/><circle cx="46.5" cy="305.6" r="2.5"/><circle cx="47.1" cy="307.4" r="2.5"/><circle cx="47.6" cy="307.6" r="2.5"/><circle cx="48.1" cy="309.4" r="2.5"/><circle cx="48.7" cy="311.8" r="2.5"/><circle cx="49.2" cy="310.3" r="2.5"/><circle cx="49.8" cy="309.8" r="2.5"/><circle cx="50.3" cy="310.3" r="2.5"/><circle cx="50.9" cy="310" r="2.5"/><circle cx="51.4" cy="310.6" r="2.5"/><circle cx="51.9" cy="311.2" r="2.5"/><circle cx="52.5" cy="312.7" r="2.5"/><circle cx="53" cy="313.5" r="2.5"/><circle cx="53.6" cy="315.9" r="2.5"/><circle cx="54.1" cy="315.4" r="2.5"/><circle cx="54.7" cy="316.7" r="2.5"/><circle cx="55.2" cy="316.3" r="2.5"/><circle cx="55.7" cy="321.3" r="2.5"/><circle cx="56.3" cy="320.8" r="2.5"/><circle cx="56.8" cy="323.6" r="2.5"/><circle cx="57.4" cy="323.3" r="2.5"/><circle cx="57.9" cy="325.3" r="2.5"/><circle cx="58.5" cy="323.8" r="2.5"/><circle cx="59" cy="326.1" r="2.5"/><circle cx="59.5" cy="329.9" r="2.5"/><circle cx="60.1" cy="324.8" r="2.5"/><circle cx="60.6" cy="329.1" r="2.5"/><circle cx="61.2" cy="330.6" r="2.5"/><circle cx="61.7" cy="329.3" r="2.5"/><circle cx="62.3" cy="330.5" r="2.5"/><circle cx="62.8" cy="332" r="2.5"/><circle cx="63.3" cy="329.4" r="2.5"/><circle cx="63.9" cy="331.8" r="2.5"/><circle cx="64.4" cy="330.2" r="2.5"/><circle cx="65" cy="331.1" r="2.5"/><circle cx="65.5" cy="331.7" r="2.5"/><circle cx="66.1" cy="333.1" r="2.5"/><circle cx="66.6" cy="334.1" r="2.5"/><circle cx="67.1" cy="335.2" r="2.5"/><circle cx="67.7" cy="332.4" r="2.5"/><circle cx="68.2" cy="339" r="2.5"/><circle cx="68.8" cy="338.1" r="2.5"/><circle cx="69.3" cy="337.8" r="2.5"/><circle cx="69.9" cy="336.3" r="2.5"/><circle cx="70.4" cy="337.3" r="2.5"/><circle cx="70.9" cy="339.1" r="2.5"/><circle cx="71.5" cy="339.3" r="2.5"/><circle cx="72" cy="335.8" r="2.5"/><circle cx="72.6" cy="341.1" r="2.5"/><circle cx="73.1" cy="346" r="2.5"/><circle cx="73.6" cy="337.1" r="2.5"/><circle cx="74.2" cy="343.4" r="2.5"/><circle cx="74.7" cy="342.7" r="2.5"/><circle cx="75.3" cy="342.3" r="2.5"/><circle cx="75.8" cy="345.9" r="2.5"/><circle cx="76.4" cy="341.2" r="2.5"/><circle cx="76.9" cy="344.6" r="2.5"/><circle cx="77.4" cy="347.9" r="2.5"/><circle cx="78" cy="345" r="2.5"/><circle cx="78.5" cy="345.1" r="2.5"/><circle cx="79.1" cy="346.8" r="2.5"/><circle cx="79.6" cy="346.2" r="2.5"/><circle cx="80.2" cy="351.2" r="2.5"/><circle cx="80.7" cy="346.3" r="2.5"/><circle cx="81.2" cy="350.9" r="2.5"/><circle cx="81.8" cy="346.6" r="2.5"/><circle cx="82.3" cy="351.6" r="2.5"/><circle cx="82.9" cy="350.4" r="2.5"/><circle cx="83.4" cy="345.1" r="2.5"/><circle cx="84" cy="351.7" r="2.5"/><circle cx="84.5" cy="349.8" r="2.5"/><circle cx="85" cy="351.8" r="2.5"/><circle cx="85.6" cy="357.2" r="2.5"/><circle cx="86.1" cy="351.3" r="2.5"/><circle cx="86.7" cy="352" r="2.5"/><circle cx="87.2" cy="358.7" r="2.5"/><circle cx="87.8" cy="356" r="2.5"/><circle cx="88.3" cy="360.1" r="2.5"/><circle cx="88.8" cy="357.6" r="2.5"/><circle cx="89.4" cy="355.1" r="2.5"/><circle cx="89.9" cy="357.7" r="2.5"/><circle cx="90.5" cy="361.6" r="2.5"/><circle cx="91" cy="361.4" r="2.5"/><circle cx="91.6" cy="359.5" r="2.5"/><circle cx="92.1" cy="360.2" r="2.5"/><circle cx="92.6" cy="360.3" r="2.5"/><circle cx="93.2" cy="359.6" r="2.5"/><circle cx="93.7" cy="366.9" r="2.5"/><circle cx="94.3" cy="362.2" r="2.5"/><circle cx="94.8" cy="359.6" r="2.5"/><circle cx="95.4" cy="362" r="2.5"/><circle cx="95.9" cy="365.8" r="2.5"/><circle cx="96.4" cy="366.1" r="2.5"/><circle cx="97" cy="364.5" r="2.5"/><circle cx="97.5" cy="363.5" r="2.5"/><circle cx="98.1" cy="366" r="2.5"/><circle cx="98.6" cy="361.7" r="2.5"/><circle cx="99.1" cy="363.3" r="2.5"/><circle cx="99.7" cy="369.9" r="2.5"/><circle cx="100.2" cy="366.7" r="2.5"/><circle cx="100.8" cy="369.8" r="2.5"/><circle cx="101.3" cy="372.8" r="2.5"/><circle cx="101.9" cy="371.7" r="2.5"/><circle cx="102.4" cy="370.4" r="2.5"/><circle cx="102.9" cy="377.3" r="2.5"/><circle cx="103.5" cy="373.5" r="2.5"/><circle cx="104" cy="370.9" r="2.5"/><circle cx="104.6" cy="374.8" r="2.5"/><circle cx="105.1" cy="374.4" r="2.5"/><circle cx="105.7" cy="371" r="2.5"/><circle cx="106.2" cy="374.4" r="2.5"/><circle cx="106.7" cy="374.2" r="2.5"/><circle cx="107.3" cy="369.1" r="2.5"/><circle cx="107.8" cy="375.3" r="2.5"/><circle cx="108.4" cy="375.5" r="2.5"/><circle cx="108.9" cy="375.5" r="2.5"/><circle cx="109.5" cy="372.1" r="2.5"/><circle cx="110" cy="376.8" r="2.5"/><circle cx="110.5" cy="378.4" r="2.5"/><circle cx="111.1" cy="379.4" r="2.5"/><circle cx="111.6" cy="375.8" r="2.5"/><circle cx="112.2" cy="382.2" r="2.5"/><circle cx="112.7" cy="376.5" r="2.5"/><circle cx="113.3" cy="380.4" r="2.5"/><circle cx="113.8" cy="386.1" r="2.5"/><circle cx="114.3" cy="379.8" r="2.5"/><circle cx="114.9" cy="380.9" r="2.5"/><circle cx="115.4" cy="386.8" r="2.5"/><circle cx="116" cy="382.3" r="2.5"/><circle cx="116.5" cy="383.1" r="2.5"/><circle cx="117.1" cy="385.4" r="2.5"/><circle cx="117.6" cy="388.8" r="2.5"/><circle cx="118.1" cy="377.8" r="2.5"/><circle cx="118.7" cy="383.1" r="2.5"/><circle cx="119.2" cy="382.9" r="2.5"/><circle cx="119.8" cy="383.1" r="2.5"/><circle cx="120.3" cy="384.4" r="2.5"/><circle cx="120.9" cy="384.9" r="2.5"/><circle cx="121.4" cy="389.5" r="2.5"/><circle cx="121.9" cy="385.6" r="2.5"/><circle cx="122.5" cy="389.8" r="2.5"/><circle cx="123" cy="391.3" r="2.5"/><circle cx="123.6" cy="387.6" r="2.5"/><circle cx="124.1" cy="391.3" r="2.5"/><circle cx="124.6" cy="397.4" r="2.5"/><circle cx="125.2" cy="393" r="2.5"/><circle cx="125.7" cy="389.9" r="2.5"/><circle cx="126.3" cy="392.5" r="2.5"/><circle cx="126.8" cy="389.8" r="2.5"/><circle cx="127.4" cy="394.8" r="2.5"/><circle cx="127.9" cy="397.6" r="2.5"/><circle cx="128.4" cy="391.6" r="2.5"/><circle cx="129" cy="394.5" r="2.5"/><circle cx="129.5" cy="400.1" r="2.5"/><circle cx="130.1" cy="394.3" r="2.5"/><circle cx="130.6" cy="397.5" r="2.5"/><circle cx="131.2" cy="393.2" r="2.5"/><circle cx="131.7" cy="394.5" r="2.5"/><circle cx="132.2" cy="396.2" r="2.5"/><circle cx="132.8" cy="407.2" r="2.5"/><circle cx="133.3" cy="397.5" r="2.5"/><circle cx="133.9" cy="397.5" r="2.5"/><circle cx="134.4" cy="397.8" r="2.5"/><circle cx="135" cy="399.8" r="2.5"/><circle cx="135.5" cy="403.5" r="2.5"/><circle cx="136" cy="402.1" r="2.5"/><circle cx="136.6" cy="410.1" r="2.5"/><circle cx="137.1" cy="403" r="2.5"/><circle cx="137.7" cy="408.5" r="2.5"/><circle cx="138.2" cy="404.1" r="2.5"/><circle cx="138.8" cy="405.9" r="2.5"/><circle cx="139.3" cy="397.8" r="2.5"/><circle cx="139.8" cy="403.6" r="2.5"/><circle cx="140.4" cy="404.3" r="2.5"/><circle cx="140.9" cy="403.9" r="2.5"/><circle cx="141.5" cy="396.3" r="2.5"/><circle cx="142" cy="409.5" r="2.5"/><circle cx="142.6" cy="404.5" r="2.5"/><circle cx="143.1" cy="404.6" r="2.5"/><circle cx="143.6" cy="405.8" r="2.5"/><circle cx="144.2" cy="406.3" r="2.5"/><circle cx="144.7" cy="409.4" r="2.5"/><circle cx="145.3" cy="402.5" r="2.5"/><circle cx="145.8" cy="404.4" r="2.5"/><circle cx="146.4" cy="410.1" r="2.5"/><circle cx="146.9" cy="409.8" r="2.5"/><circle cx="147.4" cy="407.9" r="2.5"/><circle cx="148" cy="407.3" r="2.5"/><circle cx="148.5" cy="406.5" r="2.5"/><circle cx="149.1" cy="410.2" r="2.5"/><circle cx="149.6" cy="416.1" r="2.5"/><circle cx="150.1" cy="406.3" r="2.5"/><circle cx="150.7" cy="418.2" r="2.5"/><circle cx="151.2" cy="415.4" r="2.5"/><circle cx="151.8" cy="409.8" r="2.5"/><circle cx="152.3" cy="415.7" r="2.5"/><circle cx="152.9" cy="405.6" r="2.5"/><circle cx="153.4" cy="404.6" r="2.5"/><circle cx="153.9" cy="406.9" r="2.5"/><circle cx="154.5" cy="411.2" r="2.5"/><circle cx="155" cy="411.8" r="2.5"/><circle cx="155.6" cy="411.1" r="2.5"/><circle cx="156.1" cy="414.2" r="2.5"/><circle cx="156.7" cy="403.9" r="2.5"/><circle cx="157.2" cy="416.5" r="2.5"/><circle cx="157.7" cy="407.7" r="2.5"/><circle cx="158.3" cy="411.5" r="2.5"/><circle cx="158.8" cy="412.8" r="2.5"/><circle cx="159.4" cy="409.5" r="2.5"/><circle cx="159.9" cy="408.6" r="2.5"/><circle cx="160.5" cy="410.5" r="2.5"/><circle cx="161" cy="415.6" r="2.5"/><circle cx="161.5" cy="418.7" r="2.5"/><circle cx="162.1" cy="418.8" r="2.5"/><circle cx="162.6" cy="411.3" r="2.5"/><circle cx="163.2" cy="412.5" r="2.5"/><circle cx="163.7" cy="412" r="2.5"/><circle cx="164.3" cy="419" r="2.5"/><circle cx="164.8" cy="406.8" r="2.5"/><circle cx="165.3" cy="423.4" r="2.5"/><circle cx="165.9" cy="414.9" r="2.5"/><circle cx="166.4" cy="413.6" r="2.5"/><circle cx="167" cy="419.5" r="2.5"/><circle cx="167.5" cy="423.2" r="2.5"/><circle cx="168.1" cy="419.9" r="2.5"/><circle cx="168.6" cy="423.8" r="2.5"/><circle cx="169.1" cy="419.3" r="2.5"/><circle cx="169.7" cy="425.1" r="2.5"/><circle cx="170.2" cy="425.4" r="2.5"/><circle cx="170.8" cy="418.7" r="2.5"/><circle cx="171.3" cy="426.9" r="2.5"/><circle cx="171.9" cy="420.5" r="2.5"/><circle cx="172.4" cy="420.3" r="2.5"/><circle cx="172.9" cy="415.2" r="2.5"/><circle cx="173.5" cy="418.7" r="2.5"/><circle cx="174" cy="424.6" r="2.5"/><circle cx="174.6" cy="413.7" r="2.5"/><circle cx="175.1" cy="424.3" r="2.5"/><circle cx="175.6" cy="422.9" r="2.5"/><circle cx="176.2" cy="422.8" r="2.5"/><circle cx="176.7" cy="409.6" r="2.5"/><circle cx="177.3" cy="421.1" r="2.5"/><circle cx="177.8" cy="425.4" r="2.5"/><circle cx="178.4" cy="417.9" r="2.5"/><circle cx="178.9" cy="422.7" r="2.5"/><circle cx="179.4" cy="409.4" r="2.5"/><circle cx="180" cy="426.3" r="2.5"/><circle cx="180.5" cy="419.1" r="2.5"/><circle cx="181.1" cy="427.8" r="2.5"/><circle cx="181.6" cy="412.9" r="2.5"/><circle cx="182.2" cy="427.1" r="2.5"/><circle cx="182.7" cy="422.1" r="2.5"/><circle cx="183.2" cy="428.1" r="2.5"/><circle cx="183.8" cy="418.5" r="2.5"/><circle cx="184.3" cy="420.4" r="2.5"/><circle cx="184.9" cy="436.5" r="2.5"/><circle cx="185.4" cy="419.4" r="2.5"/><circle cx="186" cy="420.3" r="2.5"/><circle cx="186.5" cy="422.8" r="2.5"/><circle cx="187" cy="418.7" r="2.5"/><circle cx="187.6" cy="431.2" r="2.5"/><circle cx="188.1" cy="434.3" r="2.5"/><circle cx="188.7" cy="420.8" r="2.5"/><circle cx="189.2" cy="415.2" r="2.5"/><circle cx="189.8" cy="431.5" r="2.5"/><circle cx="190.3" cy="431.3" r="2.5"/><circle cx="190.8" cy="429.7" r="2.5"/><circle cx="191.4" cy="431.7" r="2.5"/><circle cx="191.9" cy="420.5" r="2.5"/><circle cx="192.5" cy="424.5" r="2.5"/><circle cx="193" cy="417.8" r="2.5"/><circle cx="193.6" cy="417.6" r="2.5"/><circle cx="194.1" cy="431.2" r="2.5"/><circle cx="194.6" cy="422" r="2.5"/><circle cx="195.2" cy="438.6" r="2.5"/><circle cx="195.7" cy="426.3" r="2.5"/><circle cx="196.3" cy="422.4" r="2.5"/><circle cx="196.8" cy="430.5" r="2.5"/><circle cx="197.4" cy="436.2" r="2.5"/><circle cx="197.9" cy="428.9" r="2.5"/><circle cx="198.4" cy="419.5" r="2.5"/><circle cx="199" cy="428.4" r="2.5"/><circle cx="199.5" cy="434.1" r="2.5"/><circle cx="200.1" cy="423.7" r="2.5"/><circle cx="200.6" cy="422.2" r="2.5"/><circle cx="201.1" cy="432.3" r="2.5"/><circle cx="201.7" cy="427.5" r="2.5"/><circle cx="202.2" cy="420.6" r="2.5"/><circle cx="202.8" cy="424.7" r="2.5"/><circle cx="203.3" cy="422.7" r="2.5"/><circle cx="203.9" cy="428.6" r="2.5"/><circle cx="204.4" cy="427.7" r="2.5"/><circle cx="204.9" cy="433.6" r="2.5"/><circle cx="205.5" cy="431.2" r="2.5"/><circle cx="206" cy="418.5" r="2.5"/><circle cx="206.6" cy="429.6" r="2.5"/><circle cx="207.1" cy="432.4" r="2.5"/><circle cx="207.7" cy="430" r="2.5"/><circle cx="208.2" cy="433.3" r="2.5"/><circle cx="208.7" cy="424.5" r="2.5"/><circle cx="209.3" cy="422.3" r="2.5"/><circle cx="209.8" cy="432.9" r="2.5"/><circle cx="210.4" cy="421.7" r="2.5"/><circle cx="210.9" cy="415.7" r="2.5"/><circle cx="211.5" cy="433.6" r="2.5"/><circle cx="212" cy="423.8" r="2.5"/></g>
<path d="M33.2,252.5 33.8,254.6 34.3,257.6 34.9,261.8 35.4,267.3 36,272.1 36.6,275.5 37.1,278.6 37.7,281.3 38.3,283.8 38.8,286 39.4,288.1 39.9,289.9 40.5,291.6 41.1,293.3 41.6,294.9 42.2,296.3 42.8,297.7 43.3,299.1 43.9,300.4 44.4,301.8 45,303.3 45.6,304.9 46.1,306.6 46.7,308.2 47.2,309.9 47.8,311.7 48.4,313.4 48.9,315.2 49.5,317 50.1,318.8 50.6,320.6 51.2,322.4 51.7,324.2 52.3,326.1 52.9,328 53.4,329.9 54,331.8 54.5,333.7 55.1,335.6 55.7,337.4 56.2,339.2 56.8,340.9 57.4,342.7 57.9,344.4 58.5,346.1 59,347.8 59.6,349.4 60.2,351 60.7,352.6 61.3,354.1 61.9,355.6 62.4,357 63,358.4 63.5,359.8 64.1,361.2 64.7,362.5 65.2,363.8 65.8,365.1 66.3,366.3 66.9,367.6 67.5,368.9 68,370.1 68.6,371.3 69.2,372.6 69.7,373.9 70.3,375.1 70.8,376.4 71.4,377.7 72,379 72.5,380.3 73.1,381.5 73.7,382.8 74.2,384.1 74.8,385.3 75.3,386.6 75.9,387.8 76.5,389 77,390.2 77.6,391.4 78.1,392.5 78.7,393.7 79.3,394.8 79.8,396 80.4,397.1 81,398.3 81.5,399.4 82.1,400.6 82.6,401.7 83.2,402.9 83.8,404 84.3,405.2 84.9,406.4 85.4,407.5 86,408.7 86.6,409.8 87.1,410.9 87.7,412 88.3,413 88.8,414 89.4,415 89.9,416 90.5,417 91.1,417.9 91.6,418.9 92.2,419.8 92.8,420.7 93.3,421.6 93.9,422.5 94.4,423.4 95,424.3 95.6,425.1 96.1,426 96.7,426.8 97.2,427.6 97.8,428.4 98.4,429.2 98.9,430 99.5,430.8 100.1,431.6 100.6,432.4 101.2,433.1 101.7,433.9 102.3,434.6 102.9,435.4 103.4,436.1 104,436.8 104.5,437.4 105.1,438.1 105.7,438.7 106.2,439.3 106.8,439.9 107.4,440.5 107.9,441.1 108.5,441.7 109,442.2 109.6,442.7 110.2,443.3 110.7,443.8 111.3,444.3 111.9,444.8 112.4,445.3 113,445.7 113.5,446.2 114.1,446.6 114.7,447.1 115.2,447.5 115.8,447.9 116.3,448.2 116.9,448.6 117.5,449 118,449.3 118.6,449.7 119.2,450 119.7,450.3 120.3,450.7 120.8,451 121.4,451.3 122,451.6 122.5,451.9 123.1,452.2 123.7,452.5 124.2,452.8 124.8,453.1 125.3,453.4 125.9,453.7 126.5,454 127,454.3 127.6,454.6 128.1,454.9 128.7,455.2 129.3,455.5 129.8,455.7 130.4,456 131,456.2 131.5,456.5 132.1,456.7 132.6,456.9 133.2,457.1 133.8,457.3 134.3,457.5 134.9,457.7 135.4,457.9 136,458.1 136.6,458.2 137.1,458.4 137.7,458.6 138.3,458.7 138.8,458.9 139.4,459 139.9,459.2 140.5,459.4 141.1,459.5 141.6,459.7 142.2,459.9 142.8,460 143.3,460.2 143.9,460.3 144.4,460.5 145,460.7" fill="none" stroke="#3a3ae6" stroke-width="1.3" stroke-linejoin="round" clip-path="url(#cld)"/>
<path d="M33.2,252.5 34.1,261.6 35,272.4 35.9,280.4 36.8,286 37.7,289.5 38.6,292.3 39.5,294.7 40.4,296.7 41.3,298.6 42.2,300.3 43.1,301.9 44,303.3 44.9,304.6 45.8,305.7 46.7,306.8 47.6,307.7 48.5,308.6 49.4,309.5 50.3,310.5 51.2,311.5 52.1,312.7 53,314 53.9,315.6 54.8,317.3 55.7,319 56.6,320.7 57.5,322.5 58.4,324.1 59.3,325.5 60.2,326.8 61.1,328 62,329 62.9,330.1 63.8,331.1 64.7,332 65.6,332.9 66.5,333.8 67.4,334.7 68.3,335.5 69.2,336.4 70.1,337.2 71,338.1 71.9,339 72.8,339.9 73.7,340.9 74.6,341.8 75.5,342.8 76.4,343.7 77.3,344.7 78.3,345.7 79.2,346.6 80.1,347.6 81,348.6 81.9,349.5 82.8,350.5 83.7,351.4 84.6,352.4 85.5,353.3 86.4,354.3 87.3,355.2 88.2,356.1 89.1,357 90,357.9 90.9,358.8 91.8,359.7 92.7,360.6 93.6,361.5 94.5,362.4 95.4,363.3 96.3,364.2 97.2,365.1 98.1,366 99,366.9 99.9,367.8 100.8,368.7 101.7,369.6 102.6,370.5 103.5,371.4 104.4,372.4 105.3,373.3 106.2,374.2 107.1,375.1 108,376 108.9,376.9 109.8,377.8 110.7,378.7 111.6,379.6 112.5,380.4 113.4,381.2 114.3,382.1 115.2,382.9 116.1,383.6 117,384.4 117.9,385.2 118.8,386 119.7,386.7 120.6,387.5 121.5,388.2 122.4,389 123.3,389.7 124.2,390.5 125.1,391.2 126,392 126.9,392.8 127.8,393.5 128.7,394.3 129.6,395.1 130.5,395.8 131.4,396.6 132.3,397.3 133.2,398 134.1,398.7 135,399.3 135.9,400 136.8,400.7 137.7,401.3 138.6,401.9 139.5,402.5 140.4,403.1 141.3,403.7 142.2,404.3 143.1,404.8 144,405.3 144.9,405.9 145.8,406.4 146.7,406.9 147.6,407.4 148.5,407.8 149.4,408.2 150.3,408.6 151.2,409.1 152.1,409.5 153,409.8 153.9,410.2 154.8,410.6 155.7,411 156.6,411.4 157.5,411.7 158.4,412.1 159.3,412.4 160.2,412.8 161.1,413.1 162,413.4 162.9,413.7 163.8,413.9 164.7,414.2 165.6,414.4 166.5,414.7 167.4,414.9 168.4,415.1 169.3,415.2 170.2,415.4 171.1,415.6 172,415.8 172.9,415.9 173.8,416.1 174.7,416.2 175.6,416.4 176.5,416.5 177.4,416.6 178.3,416.8 179.2,416.9 180.1,417 181,417.1 181.9,417.2 182.8,417.3 183.7,417.4 184.6,417.5 185.5,417.5 186.4,417.6 187.3,417.7 188.2,417.7 189.1,417.8 190,417.9 190.9,417.9 191.8,418 192.7,418 193.6,418.1 194.5,418.1 195.4,418.2 196.3,418.2 197.2,418.3 198.1,418.3 199,418.3 199.9,418.4 200.8,418.4 201.7,418.5 202.6,418.5 203.5,418.6 204.4,418.6 205.3,418.7 206.2,418.7 207.1,418.7 208,418.8 208.9,418.8 209.8,418.9 210.7,418.9 211.6,418.9 212.5,419" fill="none" stroke="#ec4444" stroke-width="1.3" stroke-linejoin="round" clip-path="url(#cld)"/>
<rect x="33.2" y="252.8" width="179.3" height="207.7" fill="none" stroke="#444" stroke-width="0.9"/>
<line x1="30" y1="252.7" x2="33.2" y2="252.7" stroke="#3a3a3a" stroke-width="1"/>
<line x1="30" y1="339.4" x2="33.2" y2="339.4" stroke="#3a3a3a" stroke-width="1"/>
<line x1="30" y1="426.1" x2="33.2" y2="426.1" stroke="#3a3a3a" stroke-width="1"/>
<line x1="31.4" y1="313.3" x2="33.2" y2="313.3" stroke="#3a3a3a" stroke-width="1"/>
<line x1="31.4" y1="298.03" x2="33.2" y2="298.03" stroke="#3a3a3a" stroke-width="1"/>
<line x1="31.4" y1="287.2" x2="33.2" y2="287.2" stroke="#3a3a3a" stroke-width="1"/>
<line x1="31.4" y1="278.8" x2="33.2" y2="278.8" stroke="#3a3a3a" stroke-width="1"/>
<line x1="31.4" y1="271.93" x2="33.2" y2="271.93" stroke="#3a3a3a" stroke-width="1"/>
<line x1="31.4" y1="266.13" x2="33.2" y2="266.13" stroke="#3a3a3a" stroke-width="1"/>
<line x1="31.4" y1="261.1" x2="33.2" y2="261.1" stroke="#3a3a3a" stroke-width="1"/>
<line x1="31.4" y1="256.67" x2="33.2" y2="256.67" stroke="#3a3a3a" stroke-width="1"/>
<line x1="31.4" y1="400" x2="33.2" y2="400" stroke="#3a3a3a" stroke-width="1"/>
<line x1="31.4" y1="384.73" x2="33.2" y2="384.73" stroke="#3a3a3a" stroke-width="1"/>
<line x1="31.4" y1="373.9" x2="33.2" y2="373.9" stroke="#3a3a3a" stroke-width="1"/>
<line x1="31.4" y1="365.5" x2="33.2" y2="365.5" stroke="#3a3a3a" stroke-width="1"/>
<line x1="31.4" y1="358.63" x2="33.2" y2="358.63" stroke="#3a3a3a" stroke-width="1"/>
<line x1="31.4" y1="352.83" x2="33.2" y2="352.83" stroke="#3a3a3a" stroke-width="1"/>
<line x1="31.4" y1="347.8" x2="33.2" y2="347.8" stroke="#3a3a3a" stroke-width="1"/>
<line x1="31.4" y1="343.37" x2="33.2" y2="343.37" stroke="#3a3a3a" stroke-width="1"/>
<line x1="31.4" y1="452.2" x2="33.2" y2="452.2" stroke="#3a3a3a" stroke-width="1"/>
<line x1="31.4" y1="445.33" x2="33.2" y2="445.33" stroke="#3a3a3a" stroke-width="1"/>
<line x1="31.4" y1="439.53" x2="33.2" y2="439.53" stroke="#3a3a3a" stroke-width="1"/>
<line x1="31.4" y1="434.5" x2="33.2" y2="434.5" stroke="#3a3a3a" stroke-width="1"/>
<line x1="31.4" y1="430.07" x2="33.2" y2="430.07" stroke="#3a3a3a" stroke-width="1"/>
<line x1="33.2" y1="460.5" x2="33.2" y2="463.7" stroke="#3a3a3a" stroke-width="1"/>
<text x="33.2" y="473.5" font-size="11.0" text-anchor="middle" fill="#000">0</text>
<line x1="92.97" y1="460.5" x2="92.97" y2="463.7" stroke="#3a3a3a" stroke-width="1"/>
<text x="92.97" y="473.5" font-size="11.0" text-anchor="middle" fill="#000">50</text>
<line x1="152.73" y1="460.5" x2="152.73" y2="463.7" stroke="#3a3a3a" stroke-width="1"/>
<text x="152.73" y="473.5" font-size="11.0" text-anchor="middle" fill="#000">100</text>
<line x1="212.5" y1="460.5" x2="212.5" y2="463.7" stroke="#3a3a3a" stroke-width="1"/>
<text x="212.5" y="473.5" font-size="11.0" text-anchor="middle" fill="#000">150</text>
<line x1="63.08" y1="460.5" x2="63.08" y2="462.3" stroke="#3a3a3a" stroke-width="1"/>
<line x1="122.85" y1="460.5" x2="122.85" y2="462.3" stroke="#3a3a3a" stroke-width="1"/>
<line x1="182.62" y1="460.5" x2="182.62" y2="462.3" stroke="#3a3a3a" stroke-width="1"/>
<text x="122.8" y="488.6" font-size="13.6" text-anchor="middle" fill="#000">Time (ns)</text>
<text x="24.6" y="356.6" font-size="13.6" text-anchor="middle" fill="#000" transform="rotate(-90 24.6 356.6)">Normalized intensity</text>
<circle cx="60.4" cy="260.8" r="2.3" fill="none" stroke="#4848e6" stroke-width="0.8"/>
<text x="73.1" y="264.4" font-size="12.3" text-anchor="start" fill="#000">Control</text>
<line x1="52" y1="275.8" x2="69.6" y2="275.8" stroke="#3a3ae6" stroke-width="1.3"/>
<text x="73.1" y="279.4" font-size="12.3" text-anchor="start" fill="#000">Control-Fit</text>
<circle cx="60.4" cy="290.7" r="2.3" fill="none" stroke="#ea5050" stroke-width="0.8"/>
<text x="73.1" y="294.4" font-size="12.3" text-anchor="start" fill="#000">Target</text>
<line x1="52" y1="305.5" x2="69.6" y2="305.5" stroke="#ec4444" stroke-width="1.3"/>
<text x="73.1" y="309.2" font-size="12.3" text-anchor="start" fill="#000">Target-Fit</text>
<rect x="134.5" y="258.9" width="20.5" height="97.7" fill="#4b41f5"/>
<rect x="155" y="258.9" width="24.8" height="97.7" fill="#f07078"/>
<rect x="179.8" y="258.9" width="10" height="97.7" fill="#b91c12"/>
<text x="150.1" y="329.5" font-size="14.5" text-anchor="middle" fill="#fff" transform="rotate(-90 150.1 329.5)">Glass</text>
<text x="172.8" y="307.6" font-size="14.5" text-anchor="middle" fill="#000" transform="rotate(-90 172.8 307.6)">Perovskite</text>
<text transform="translate(188.3 313.2) rotate(-90)" font-size="10">C<tspan font-size="6.4" dy="1.8">60</tspan></text>
<text x="197" y="316.4" font-size="12" text-anchor="middle" fill="#dd22e0" transform="rotate(90 197 316.4)">Excitation</text>
<polygon points="190.3,283.2 198,279.8 198,286.6" fill="#dd22e0"/>
<line x1="202.7" y1="283.1" x2="209.6" y2="283.1" stroke="#dd22e0" stroke-width="1.6"/>
<text x="1.2" y="272.1" font-size="22" text-anchor="start" fill="#000" font-weight="bold">d</text>
<path d="M265.3,429 266.1,425.6 266.9,422.3 267.8,419.1 268.6,416.1 269.4,413.1 270.2,410.3 271,407.6 271.8,405 272.7,402.5 273.5,400 274.3,397.6 275.1,395.3 275.9,393 276.8,390.7 277.6,388.5 278.4,386.3 279.2,384.1 280,381.9 280.9,379.6 281.7,377.4 282.5,375.1 283.3,372.8 284.1,370.6 284.9,368.4 285.8,366.3 286.6,364.2 287.4,362 288.2,359.9 289,357.8 289.9,355.8 290.7,353.9 291.5,352 292.3,350.4 293.1,348.8 294,347.3 294.8,345.8 295.6,344.4 296.4,343.1 297.2,341.8 298,340.7 298.9,339.6 299.7,338.7 300.5,337.9 301.3,337 302.1,336.3 303,335.6 303.8,334.9 304.6,334.2 305.4,333.6 306.2,333 307.1,332.4 307.9,331.9 308.7,331.4 309.5,330.9 310.3,330.4 311.1,330 312,329.6 312.8,329.2 313.6,328.8 314.4,328.4 315.2,328.1 316.1,327.7 316.9,327.4 317.7,327.1 318.5,326.8 319.3,326.5 320.2,326.2 321,325.9 321.8,325.6 322.6,325.4 323.4,325.1 324.2,324.8 325.1,324.6 325.9,324.3 326.7,324.1 327.5,323.9 328.3,323.6 329.2,323.4 330,323.2 330.8,323 331.6,322.8 332.4,322.6 333.3,322.4 334.1,322.2 334.9,322 335.7,321.8 336.5,321.6 337.3,321.4 338.2,321.3 339,321.1 339.8,320.9 340.6,320.8 341.4,320.6 342.3,320.5 343.1,320.3 343.9,320.2 344.7,320 345.5,319.8 346.4,319.7 347.2,319.5 348,319.4 348.8,319.2 349.6,319.1 350.4,318.9 351.3,318.8 352.1,318.6 352.9,318.4 353.7,318.3 354.5,318.1 355.4,318 356.2,317.8 357,317.6 357.8,317.5 358.6,317.3 359.5,317.2 360.3,317 361.1,316.8 361.9,316.7 362.7,316.5 363.5,316.4 364.4,316.2 365.2,316 366,315.9 366.8,315.7 367.6,315.5 368.5,315.3 369.3,315.2 370.1,315 370.9,314.8 371.7,314.6 372.6,314.5 373.4,314.3 374.2,314.1 375,313.9 375.8,313.7 376.6,313.6 377.5,313.4 378.3,313.2 379.1,313 379.9,312.8 380.7,312.6 381.6,312.5 382.4,312.3 383.2,312.1 384,311.9 384.8,311.7 385.7,311.5 386.5,311.3 387.3,311.1 388.1,310.9 388.9,310.8 389.7,310.6 390.6,310.4 391.4,310.2 392.2,310 393,309.8 393.8,309.6 394.7,309.4 395.5,309.2 396.3,309 397.1,308.8 397.9,308.6 398.8,308.5 399.6,308.3 400.4,308.1 401.2,307.9 402,307.7 402.8,307.5 403.7,307.3 404.5,307.1 405.3,306.9 406.1,306.7 406.9,306.5 407.8,306.3 408.6,306.1 409.4,306 410.2,305.8 411,305.6 411.9,305.4 412.7,305.2 413.5,305 414.3,304.8 415.1,304.6 415.9,304.4 416.8,304.2 417.6,304 418.4,303.8 419.2,303.6 420,303.4 420.9,303.2 421.7,303 422.5,302.9 423.3,302.7 424.1,302.5 425,302.3 425.8,302.1 426.6,301.9 427.4,301.7 428.2,301.5 429,301.3 429.9,301.1 430.7,300.9 431.5,300.7 432.3,300.5 433.1,300.3 434,300.1 434.8,299.9 435.6,299.7 436.4,299.5 437.2,299.3 438.1,299.1 438.9,298.9 439.7,298.7 440.5,298.5 441.3,298.3 442.1,298.1 443,297.9 443.8,297.7 444.6,297.5" fill="none" stroke="#5a55e8" stroke-width="3.2" stroke-linejoin="round" clip-path="url(#cle)"/>
<path d="M265.3,451 266.1,445.1 266.9,439.3 267.8,433.7 268.6,428.1 269.4,422.7 270.2,417.4 271,412.1 271.8,406.9 272.7,401.6 273.5,396.4 274.3,391.2 275.1,386 275.9,380.9 276.8,375.8 277.6,370.8 278.4,366 279.2,361.2 280,356.5 280.9,351.8 281.7,347.3 282.5,342.9 283.3,338.8 284.1,335 284.9,331.3 285.8,327.7 286.6,324.3 287.4,321.1 288.2,318.1 289,315.4 289.9,312.8 290.7,310.3 291.5,307.9 292.3,305.7 293.1,303.7 294,302 294.8,300.6 295.6,299.3 296.4,298.1 297.2,297 298,295.9 298.9,295 299.7,294.2 300.5,293.4 301.3,292.8 302.1,292.2 303,291.7 303.8,291.2 304.6,290.7 305.4,290.3 306.2,289.9 307.1,289.5 307.9,289.2 308.7,288.9 309.5,288.6 310.3,288.4 311.1,288.1 312,287.9 312.8,287.7 313.6,287.5 314.4,287.3 315.2,287.1 316.1,287 316.9,286.8 317.7,286.7 318.5,286.5 319.3,286.4 320.2,286.3 321,286.2 321.8,286 322.6,285.9 323.4,285.8 324.2,285.7 325.1,285.6 325.9,285.5 326.7,285.4 327.5,285.3 328.3,285.2 329.2,285.1 330,285.1 330.8,285 331.6,284.9 332.4,284.8 333.3,284.7 334.1,284.7 334.9,284.6 335.7,284.5 336.5,284.4 337.3,284.4 338.2,284.3 339,284.2 339.8,284.2 340.6,284.1 341.4,284.1 342.3,284 343.1,283.9 343.9,283.9 344.7,283.8 345.5,283.8 346.4,283.7 347.2,283.6 348,283.6 348.8,283.5 349.6,283.5 350.4,283.4 351.3,283.4 352.1,283.3 352.9,283.3 353.7,283.2 354.5,283.2 355.4,283.1 356.2,283.1 357,283 357.8,283 358.6,282.9 359.5,282.9 360.3,282.8 361.1,282.8 361.9,282.7 362.7,282.6 363.5,282.6 364.4,282.5 365.2,282.5 366,282.4 366.8,282.4 367.6,282.3 368.5,282.2 369.3,282.2 370.1,282.1 370.9,282.1 371.7,282 372.6,281.9 373.4,281.9 374.2,281.8 375,281.8 375.8,281.7 376.6,281.6 377.5,281.6 378.3,281.5 379.1,281.5 379.9,281.4 380.7,281.3 381.6,281.3 382.4,281.2 383.2,281.1 384,281.1 384.8,281 385.7,281 386.5,280.9 387.3,280.8 388.1,280.8 388.9,280.7 389.7,280.7 390.6,280.6 391.4,280.5 392.2,280.5 393,280.4 393.8,280.3 394.7,280.3 395.5,280.2 396.3,280.1 397.1,280.1 397.9,280 398.8,280 399.6,279.9 400.4,279.8 401.2,279.8 402,279.7 402.8,279.6 403.7,279.6 404.5,279.5 405.3,279.4 406.1,279.4 406.9,279.3 407.8,279.2 408.6,279.2 409.4,279.1 410.2,279 411,279 411.9,278.9 412.7,278.9 413.5,278.8 414.3,278.7 415.1,278.7 415.9,278.6 416.8,278.5 417.6,278.5 418.4,278.4 419.2,278.3 420,278.3 420.9,278.2 421.7,278.1 422.5,278.1 423.3,278 424.1,277.9 425,277.9 425.8,277.8 426.6,277.7 427.4,277.6 428.2,277.6 429,277.5 429.9,277.4 430.7,277.4 431.5,277.3 432.3,277.2 433.1,277.2 434,277.1 434.8,277 435.6,277 436.4,276.9 437.2,276.8 438.1,276.8 438.9,276.7 439.7,276.6 440.5,276.5 441.3,276.5 442.1,276.4 443,276.3 443.8,276.3 444.6,276.2" fill="none" stroke="#e8616f" stroke-width="3.2" stroke-linejoin="round" clip-path="url(#cle)" stroke-opacity="0.92"/>
<rect x="265.1" y="252.8" width="179.5" height="207.7" fill="none" stroke="#444" stroke-width="0.9"/>
<line x1="261.9" y1="273.2" x2="265.1" y2="273.2" stroke="#3a3a3a" stroke-width="1"/>
<line x1="261.9" y1="354.6" x2="265.1" y2="354.6" stroke="#3a3a3a" stroke-width="1"/>
<line x1="261.9" y1="436" x2="265.1" y2="436" stroke="#3a3a3a" stroke-width="1"/>
<line x1="263.3" y1="330.1" x2="265.1" y2="330.1" stroke="#3a3a3a" stroke-width="1"/>
<line x1="263.3" y1="315.76" x2="265.1" y2="315.76" stroke="#3a3a3a" stroke-width="1"/>
<line x1="263.3" y1="305.59" x2="265.1" y2="305.59" stroke="#3a3a3a" stroke-width="1"/>
<line x1="263.3" y1="297.7" x2="265.1" y2="297.7" stroke="#3a3a3a" stroke-width="1"/>
<line x1="263.3" y1="291.26" x2="265.1" y2="291.26" stroke="#3a3a3a" stroke-width="1"/>
<line x1="263.3" y1="285.81" x2="265.1" y2="285.81" stroke="#3a3a3a" stroke-width="1"/>
<line x1="263.3" y1="281.09" x2="265.1" y2="281.09" stroke="#3a3a3a" stroke-width="1"/>
<line x1="263.3" y1="276.92" x2="265.1" y2="276.92" stroke="#3a3a3a" stroke-width="1"/>
<line x1="263.3" y1="411.5" x2="265.1" y2="411.5" stroke="#3a3a3a" stroke-width="1"/>
<line x1="263.3" y1="397.16" x2="265.1" y2="397.16" stroke="#3a3a3a" stroke-width="1"/>
<line x1="263.3" y1="386.99" x2="265.1" y2="386.99" stroke="#3a3a3a" stroke-width="1"/>
<line x1="263.3" y1="379.1" x2="265.1" y2="379.1" stroke="#3a3a3a" stroke-width="1"/>
<line x1="263.3" y1="372.66" x2="265.1" y2="372.66" stroke="#3a3a3a" stroke-width="1"/>
<line x1="263.3" y1="367.21" x2="265.1" y2="367.21" stroke="#3a3a3a" stroke-width="1"/>
<line x1="263.3" y1="362.49" x2="265.1" y2="362.49" stroke="#3a3a3a" stroke-width="1"/>
<line x1="263.3" y1="358.32" x2="265.1" y2="358.32" stroke="#3a3a3a" stroke-width="1"/>
<line x1="263.3" y1="454.06" x2="265.1" y2="454.06" stroke="#3a3a3a" stroke-width="1"/>
<line x1="263.3" y1="448.61" x2="265.1" y2="448.61" stroke="#3a3a3a" stroke-width="1"/>
<line x1="263.3" y1="443.89" x2="265.1" y2="443.89" stroke="#3a3a3a" stroke-width="1"/>
<line x1="263.3" y1="439.72" x2="265.1" y2="439.72" stroke="#3a3a3a" stroke-width="1"/>
<text x="252.6" y="277" font-size="10.2" text-anchor="end" textLength="8.2" lengthAdjust="spacingAndGlyphs">10</text>
<text x="255.4" y="272.6" font-size="7.2" text-anchor="start">4</text>
<text x="252.6" y="358.4" font-size="10.2" text-anchor="end" textLength="8.2" lengthAdjust="spacingAndGlyphs">10</text>
<text x="255.4" y="354" font-size="7.2" text-anchor="start">3</text>
<text x="252.6" y="439.8" font-size="10.2" text-anchor="end" textLength="8.2" lengthAdjust="spacingAndGlyphs">10</text>
<text x="255.4" y="435.4" font-size="7.2" text-anchor="start">2</text>
<line x1="265.1" y1="460.5" x2="265.1" y2="463.7" stroke="#3a3a3a" stroke-width="1"/>
<text x="265.1" y="474" font-size="11.0" text-anchor="middle" fill="#000">0</text>
<line x1="318.95" y1="460.5" x2="318.95" y2="463.7" stroke="#3a3a3a" stroke-width="1"/>
<text x="318.95" y="474" font-size="11.0" text-anchor="middle" fill="#000">300</text>
<line x1="372.8" y1="460.5" x2="372.8" y2="463.7" stroke="#3a3a3a" stroke-width="1"/>
<text x="372.8" y="474" font-size="11.0" text-anchor="middle" fill="#000">600</text>
<line x1="426.65" y1="460.5" x2="426.65" y2="463.7" stroke="#3a3a3a" stroke-width="1"/>
<text x="426.65" y="474" font-size="11.0" text-anchor="middle" fill="#000">900</text>
<line x1="292.03" y1="460.5" x2="292.03" y2="462.3" stroke="#3a3a3a" stroke-width="1"/>
<line x1="345.88" y1="460.5" x2="345.88" y2="462.3" stroke="#3a3a3a" stroke-width="1"/>
<line x1="399.73" y1="460.5" x2="399.73" y2="462.3" stroke="#3a3a3a" stroke-width="1"/>
<text x="354.9" y="493.4" font-size="13.6" text-anchor="middle" fill="#000">Time (ns)</text>
<text x="239" y="356.1" font-size="13.6" text-anchor="middle" fill="#000" transform="rotate(-90 239 356.1)">Differential lifetimes (ns)</text>
<line x1="271.8" y1="260" x2="294.3" y2="260" stroke="#5a55e8" stroke-width="3.8" stroke-linecap="round"/>
<text x="298.7" y="264.3" font-size="12.3" text-anchor="start" fill="#000">Control</text>
<line x1="271.8" y1="275.3" x2="294.3" y2="275.3" stroke="#e8616f" stroke-width="3.8" stroke-linecap="round"/>
<text x="298.7" y="279.5" font-size="12.3" text-anchor="start" fill="#000">Target</text>
<text x="342" y="443.6" font-size="12.2" text-anchor="start" fill="#000">Derived from c</text>
<text x="223.4" y="271.9" font-size="22" text-anchor="start" fill="#000" font-weight="bold">e</text>
<path d="M491.6,411 492.4,410 493.2,408.8 494.1,407.6 494.9,406.2 495.7,404.8 496.5,403.4 497.3,402.1 498.2,400.7 499,399.4 499.8,398.1 500.6,396.8 501.5,395.5 502.3,394.2 503.1,392.9 503.9,391.7 504.7,390.4 505.6,389.2 506.4,388.1 507.2,386.9 508,385.7 508.8,384.6 509.7,383.5 510.5,382.3 511.3,381.2 512.1,380 512.9,378.9 513.8,377.7 514.6,376.5 515.4,375.3 516.2,374.1 517.1,373 517.9,371.9 518.7,370.8 519.5,369.8 520.3,368.8 521.2,367.8 522,366.8 522.8,365.9 523.6,365 524.4,364.1 525.3,363.3 526.1,362.5 526.9,361.7 527.7,361 528.5,360.3 529.4,359.6 530.2,358.9 531,358.3 531.8,357.6 532.7,357 533.5,356.4 534.3,355.9 535.1,355.3 535.9,354.8 536.8,354.2 537.6,353.7 538.4,353.2 539.2,352.8 540,352.3 540.9,351.9 541.7,351.5 542.5,351.1 543.3,350.7 544.1,350.3 545,349.9 545.8,349.6 546.6,349.3 547.4,349 548.2,348.7 549.1,348.5 549.9,348.3 550.7,348.1 551.5,347.9 552.4,347.8 553.2,347.6 554,347.4 554.8,347.3 555.6,347.1 556.5,347 557.3,346.9 558.1,346.8 558.9,346.6 559.7,346.5 560.6,346.4 561.4,346.3 562.2,346.2 563,346.1 563.8,346.1 564.7,346 565.5,345.9 566.3,345.8 567.1,345.8 568,345.7 568.8,345.6 569.6,345.6 570.4,345.5 571.2,345.5 572.1,345.4 572.9,345.3 573.7,345.3 574.5,345.2 575.3,345.2 576.2,345.1 577,345.1 577.8,345 578.6,345 579.4,344.9 580.3,344.8 581.1,344.8 581.9,344.7 582.7,344.7 583.6,344.6 584.4,344.6 585.2,344.5 586,344.5 586.8,344.4 587.7,344.3 588.5,344.3 589.3,344.2 590.1,344.2 590.9,344.1 591.8,344.1 592.6,344.1 593.4,344 594.2,344 595,343.9 595.9,343.9 596.7,343.8 597.5,343.8 598.3,343.8 599.2,343.7 600,343.7 600.8,343.6 601.6,343.6 602.4,343.5 603.3,343.5 604.1,343.4 604.9,343.4 605.7,343.3 606.5,343.3 607.4,343.2 608.2,343.2 609,343.1 609.8,343 610.6,343 611.5,342.9 612.3,342.8 613.1,342.7 613.9,342.7 614.8,342.6 615.6,342.5 616.4,342.4 617.2,342.3 618,342.2 618.9,342.1 619.7,342 620.5,341.9 621.3,341.8 622.1,341.7 623,341.6 623.8,341.5 624.6,341.4 625.4,341.3 626.2,341.1 627.1,341 627.9,340.9 628.7,340.8 629.5,340.7 630.3,340.6 631.2,340.5 632,340.3 632.8,340.2 633.6,340.1 634.5,340 635.3,339.9 636.1,339.7 636.9,339.6 637.7,339.5 638.6,339.4 639.4,339.3 640.2,339.1 641,339 641.8,338.9 642.7,338.8 643.5,338.6 644.3,338.5 645.1,338.4 645.9,338.2 646.8,338.1 647.6,338 648.4,337.8 649.2,337.7 650.1,337.6 650.9,337.4 651.7,337.3 652.5,337.2 653.3,337 654.2,336.9 655,336.7 655.8,336.6 656.6,336.4 657.4,336.3 658.3,336.1 659.1,336 659.9,335.8 660.7,335.7 661.5,335.5 662.4,335.4 663.2,335.2 664,335.1 664.8,334.9 665.7,334.7 666.5,334.6 667.3,334.4 668.1,334.3 668.9,334.1 669.8,333.9 670.6,333.8 671.4,333.6" fill="none" stroke="#5a55e8" stroke-width="3.2" stroke-linejoin="round" clip-path="url(#clf)"/>
<path d="M491.6,457 492.4,453 493.2,448.9 494.1,444.8 494.9,440.6 495.7,436.4 496.5,432.2 497.3,427.9 498.2,423.5 499,418.9 499.8,414.1 500.6,409 501.5,403.8 502.3,398.5 503.1,393.2 503.9,388 504.7,382.9 505.6,377.8 506.4,372.7 507.2,367.7 508,362.9 508.8,358.4 509.7,354.2 510.5,350.2 511.3,346.4 512.1,342.8 512.9,339.4 513.8,336.1 514.6,332.9 515.4,329.9 516.2,327.2 517.1,324.7 517.9,322.3 518.7,320 519.5,317.9 520.3,316.1 521.2,314.8 522,313.6 522.8,312.5 523.6,311.5 524.4,310.6 525.3,309.8 526.1,309 526.9,308.3 527.7,307.7 528.5,307.2 529.4,306.8 530.2,306.4 531,306.1 531.8,305.8 532.7,305.4 533.5,305.1 534.3,304.9 535.1,304.6 535.9,304.4 536.8,304.2 537.6,304 538.4,303.8 539.2,303.6 540,303.5 540.9,303.4 541.7,303.3 542.5,303.2 543.3,303.1 544.1,303.1 545,303 545.8,302.9 546.6,302.9 547.4,302.8 548.2,302.8 549.1,302.7 549.9,302.7 550.7,302.6 551.5,302.6 552.4,302.5 553.2,302.5 554,302.4 554.8,302.4 555.6,302.3 556.5,302.3 557.3,302.3 558.1,302.2 558.9,302.2 559.7,302.1 560.6,302.1 561.4,302 562.2,302 563,302 563.8,301.9 564.7,301.9 565.5,301.8 566.3,301.8 567.1,301.8 568,301.7 568.8,301.7 569.6,301.6 570.4,301.6 571.2,301.6 572.1,301.5 572.9,301.5 573.7,301.5 574.5,301.4 575.3,301.4 576.2,301.4 577,301.3 577.8,301.3 578.6,301.3 579.4,301.2 580.3,301.2 581.1,301.2 581.9,301.1 582.7,301.1 583.6,301.1 584.4,301 585.2,301 586,301 586.8,300.9 587.7,300.9 588.5,300.9 589.3,300.9 590.1,300.8 590.9,300.8 591.8,300.8 592.6,300.8 593.4,300.7 594.2,300.7 595,300.7 595.9,300.6 596.7,300.6 597.5,300.6 598.3,300.6 599.2,300.5 600,300.5 600.8,300.5 601.6,300.4 602.4,300.4 603.3,300.4 604.1,300.4 604.9,300.3 605.7,300.3 606.5,300.3 607.4,300.2 608.2,300.2 609,300.1 609.8,300.1 610.6,300.1 611.5,300 612.3,300 613.1,300 613.9,299.9 614.8,299.9 615.6,299.8 616.4,299.8 617.2,299.8 618,299.7 618.9,299.7 619.7,299.6 620.5,299.6 621.3,299.5 622.1,299.5 623,299.4 623.8,299.4 624.6,299.4 625.4,299.3 626.2,299.3 627.1,299.2 627.9,299.2 628.7,299.1 629.5,299.1 630.3,299 631.2,299 632,298.9 632.8,298.9 633.6,298.8 634.5,298.8 635.3,298.7 636.1,298.7 636.9,298.6 637.7,298.6 638.6,298.5 639.4,298.5 640.2,298.4 641,298.3 641.8,298.3 642.7,298.2 643.5,298.2 644.3,298.1 645.1,298.1 645.9,298 646.8,297.9 647.6,297.9 648.4,297.8 649.2,297.8 650.1,297.7 650.9,297.6 651.7,297.6 652.5,297.5 653.3,297.4 654.2,297.4 655,297.3 655.8,297.2 656.6,297.2 657.4,297.1 658.3,297 659.1,297 659.9,296.9 660.7,296.8 661.5,296.7 662.4,296.7 663.2,296.6 664,296.5 664.8,296.4 665.7,296.4 666.5,296.3 667.3,296.2 668.1,296.1 668.9,296 669.8,296 670.6,295.9 671.4,295.8" fill="none" stroke="#e8616f" stroke-width="3.2" stroke-linejoin="round" clip-path="url(#clf)" stroke-opacity="0.92"/>
<rect x="491.4" y="253" width="180" height="208" fill="none" stroke="#444" stroke-width="0.9"/>
<line x1="488.2" y1="357.2" x2="491.4" y2="357.2" stroke="#3a3a3a" stroke-width="1"/>
<line x1="489.6" y1="312.5" x2="491.4" y2="312.5" stroke="#3a3a3a" stroke-width="1"/>
<line x1="489.6" y1="286.35" x2="491.4" y2="286.35" stroke="#3a3a3a" stroke-width="1"/>
<line x1="489.6" y1="267.79" x2="491.4" y2="267.79" stroke="#3a3a3a" stroke-width="1"/>
<line x1="489.6" y1="434.85" x2="491.4" y2="434.85" stroke="#3a3a3a" stroke-width="1"/>
<line x1="489.6" y1="416.29" x2="491.4" y2="416.29" stroke="#3a3a3a" stroke-width="1"/>
<line x1="489.6" y1="401.9" x2="491.4" y2="401.9" stroke="#3a3a3a" stroke-width="1"/>
<line x1="489.6" y1="390.14" x2="491.4" y2="390.14" stroke="#3a3a3a" stroke-width="1"/>
<line x1="489.6" y1="380.2" x2="491.4" y2="380.2" stroke="#3a3a3a" stroke-width="1"/>
<line x1="489.6" y1="371.59" x2="491.4" y2="371.59" stroke="#3a3a3a" stroke-width="1"/>
<line x1="489.6" y1="363.99" x2="491.4" y2="363.99" stroke="#3a3a3a" stroke-width="1"/>
<text x="487.8" y="361.3" font-size="11.0" text-anchor="end" fill="#000">10</text>
<line x1="491.4" y1="461" x2="491.4" y2="464.2" stroke="#3a3a3a" stroke-width="1"/>
<text x="491.4" y="475" font-size="11.0" text-anchor="middle" fill="#000">0</text>
<line x1="536.4" y1="461" x2="536.4" y2="464.2" stroke="#3a3a3a" stroke-width="1"/>
<text x="536.4" y="475" font-size="11.0" text-anchor="middle" fill="#000">10</text>
<line x1="581.4" y1="461" x2="581.4" y2="464.2" stroke="#3a3a3a" stroke-width="1"/>
<text x="581.4" y="475" font-size="11.0" text-anchor="middle" fill="#000">20</text>
<line x1="626.4" y1="461" x2="626.4" y2="464.2" stroke="#3a3a3a" stroke-width="1"/>
<text x="626.4" y="475" font-size="11.0" text-anchor="middle" fill="#000">30</text>
<line x1="671.4" y1="461" x2="671.4" y2="464.2" stroke="#3a3a3a" stroke-width="1"/>
<text x="671.4" y="475" font-size="11.0" text-anchor="middle" fill="#000">40</text>
<line x1="513.9" y1="461" x2="513.9" y2="462.8" stroke="#3a3a3a" stroke-width="1"/>
<line x1="558.9" y1="461" x2="558.9" y2="462.8" stroke="#3a3a3a" stroke-width="1"/>
<line x1="603.9" y1="461" x2="603.9" y2="462.8" stroke="#3a3a3a" stroke-width="1"/>
<line x1="648.9" y1="461" x2="648.9" y2="462.8" stroke="#3a3a3a" stroke-width="1"/>
<text x="581.4" y="493.6" font-size="13.6" text-anchor="middle" fill="#000">Time (ns)</text>
<text x="471.5" y="356.9" font-size="13.9" text-anchor="middle" fill="#000" transform="rotate(-90 471.5 356.9)">Differential lifetime (ns)</text>
<line x1="497.4" y1="262.1" x2="521.7" y2="262.1" stroke="#5a55e8" stroke-width="3.8" stroke-linecap="round"/>
<text x="525.1" y="266" font-size="12.3" text-anchor="start" fill="#000">Control</text>
<line x1="497.4" y1="277.1" x2="521.7" y2="277.1" stroke="#e8616f" stroke-width="3.8" stroke-linecap="round"/>
<text x="525.1" y="281" font-size="12.3" text-anchor="start" fill="#000">Target</text>
<text x="563" y="441.4" font-size="12.2" text-anchor="start" fill="#000">Derived from d</text>
<text x="460.5" y="272.8" font-size="22" text-anchor="start" fill="#000" font-weight="bold">f</text>
<path d="M35.5,639 36.9,639 38.3,639 39.7,639 41.1,639 42.5,639 43.9,639 45.3,639 46.7,639 48.1,639 49.5,639 50.9,639 52.3,639 53.7,639 55.1,639 56.5,639 57.9,639 59.3,639 60.7,639 62.1,638.9 63.5,638.9 64.9,638.9 66.3,638.9 67.7,638.9 69.1,638.9 70.5,638.8 71.9,638.8 73.3,638.7 74.7,638.7 76.1,638.6 77.5,638.5 78.9,638.5 80.3,638.3 81.7,638.2 83.1,638.1 84.5,637.9 85.9,637.7 87.3,637.5 88.7,637.2 90.1,636.9 91.5,636.6 92.9,636.2 94.3,635.8 95.7,635.3 97.1,634.8 98.5,634.1 99.9,633.4 101.3,632.7 102.7,631.8 104.1,630.8 105.5,629.8 106.8,628.6 108.2,627.3 109.6,625.9 111,624.4 112.4,622.7 113.8,620.9 115.2,619 116.6,616.9 118,614.7 119.4,612.4 120.8,609.8 122.2,607.2 123.6,603.9 125,601.1 126.4,598.1 127.8,595 129.2,591.8 130.6,588.4 132,585 133.4,581.1 134.8,578.2 136.2,573.5 137.6,570.7 139,566.6 140.4,563.4 141.8,559.9 143.2,555.4 144.6,553 146,550.2 147.4,546.8 148.8,543.7 150.2,539.8 151.6,538.1 153,535.4 154.4,534.2 155.8,531.8 157.2,530.2 158.6,528.5 160,528.7 161.4,527.5 162.8,527.4 164.2,528 165.6,527.8 167,528.4 168.4,529.9 169.8,529.4 171.2,530.5 172.6,532.1 174,533.9 175.4,534.2 176.8,536.5 178.2,538 179.6,539.9 181,542.9 182.4,544.6 183.8,547.4 185.2,549.8 186.6,552.4 188,555 189.4,557.3 190.8,560.5 192.2,563.4 193.6,566.3 195,568.9 196.4,572.3 197.8,575 199.2,577.7 200.6,580.8 202,583.4 203.4,586.4 204.8,587.9 206.2,590.9 207.6,593.9 209,596.7 210.4,598.1 211.8,601.4 213.2,603.9 214.6,606.1 216,608.2 217.4,610.3 218.8,612.2 220.2,614.1 221.6,615.9 223,617.6 224.4,619.2 225.8,620.7 227.2,622.2 228.6,623.5 230,624.8 231.4,626 232.8,627.1 234.2,628.1 235.6,629.1 237,630 238.4,630.8 239.8,631.6 241.2,632.3 242.6,632.9 244,633.5 245.4,634.1 246.7,634.6 248.1,635 249.5,635.4 250.9,635.8 252.3,636.2 253.7,636.5 255.1,636.8 256.5,637 257.9,637.2 259.3,637.4 260.7,637.6 262.1,637.8 263.5,637.9 264.9,638.1 266.3,638.2 267.7,638.3 269.1,638.4 270.5,638.5 271.9,638.5 273.3,638.6 274.7,638.6 276.1,638.7 277.5,638.7 278.9,638.8 280.3,638.8 281.7,638.8 283.1,638.9 284.5,638.9 285.9,638.9 287.3,638.9 288.7,638.9 290.1,638.9 291.5,638.9 292.9,639 294.3,639 295.7,639 297.1,639 298.5,639 299.9,639 301.3,639 302.7,639 304.1,639 305.5,639 306.9,639 308.3,639 309.7,639 311.1,639 312.5,639 313.9,639 315.3,639" fill="none" stroke="#2814ff" stroke-width="1.5" stroke-linejoin="round"/>
<path d="M35.5,639 36.9,639 38.3,639 39.7,639 41.1,639 42.5,639 43.9,639 45.3,639 46.7,639 48.1,639 49.5,639 50.9,639 52.3,639 53.7,639 55.1,639 56.5,639 57.9,639 59.3,639 60.7,639 62.1,639 63.5,638.9 64.9,638.9 66.3,638.9 67.7,638.9 69.1,638.9 70.5,638.9 71.9,638.8 73.3,638.8 74.7,638.7 76.1,638.7 77.5,638.6 78.9,638.6 80.3,638.5 81.7,638.4 83.1,638.2 84.5,638.1 85.9,637.9 87.3,637.8 88.7,637.6 90.1,637.3 91.5,637 92.9,636.7 94.3,636.3 95.7,635.9 97.1,635.5 98.5,635 99.9,634.4 101.3,633.7 102.7,633 104.1,632.2 105.5,631.3 106.8,630.3 108.2,629.2 109.6,628 111,626.7 112.4,625.3 113.8,623.8 115.2,622.1 116.6,620.4 118,618.5 119.4,616.4 120.8,614.3 122.2,612 123.6,609.5 125,607 126.4,603.5 127.8,602 129.2,598.8 130.6,596.3 132,592.7 133.4,589.2 134.8,585.5 136.2,583.1 137.6,579.5 139,576.3 140.4,573 141.8,569.9 143.2,565.9 144.6,563.4 146,559.3 147.4,556.1 148.8,553.3 150.2,550.5 151.6,547.8 153,543.6 154.4,542.5 155.8,538.8 157.2,537 158.6,535.5 160,534.1 161.4,531.6 162.8,530 164.2,530.2 165.6,529.1 167,527.8 168.4,527.7 169.8,526.7 171.2,527.8 172.6,527.4 174,528.5 175.4,527.6 176.8,529.7 178.2,531.4 179.6,531.7 181,533.2 182.4,534 183.8,536.9 185.2,538.9 186.6,540.9 188,542.9 189.4,546.1 190.8,548.3 192.2,551.2 193.6,554.4 195,557.1 196.4,560.1 197.8,563.5 199.2,565.5 200.6,569.7 202,571.6 203.4,574.7 204.8,578.2 206.2,581.5 207.6,584.2 209,586.8 210.4,589.5 211.8,592.5 213.2,594.9 214.6,598.2 216,600.4 217.4,603.7 218.8,605.1 220.2,607.7 221.6,609.9 223,612 224.4,614 225.8,615.9 227.2,617.7 228.6,619.4 230,621 231.4,622.5 232.8,623.9 234.2,625.2 235.6,626.4 237,627.6 238.4,628.6 239.8,629.6 241.2,630.5 242.6,631.4 244,632.1 245.4,632.8 246.7,633.5 248.1,634 249.5,634.6 250.9,635.1 252.3,635.5 253.7,635.9 255.1,636.3 256.5,636.6 257.9,636.9 259.3,637.1 260.7,637.3 262.1,637.5 263.5,637.7 264.9,637.9 266.3,638 267.7,638.2 269.1,638.3 270.5,638.4 271.9,638.5 273.3,638.5 274.7,638.6 276.1,638.6 277.5,638.7 278.9,638.7 280.3,638.8 281.7,638.8 283.1,638.8 284.5,638.9 285.9,638.9 287.3,638.9 288.7,638.9 290.1,638.9 291.5,638.9 292.9,638.9 294.3,639 295.7,639 297.1,639 298.5,639 299.9,639 301.3,639 302.7,639 304.1,639 305.5,639 306.9,639 308.3,639 309.7,639 311.1,639 312.5,639 313.9,639 315.3,639" fill="none" stroke="#6428e1" stroke-width="1.5" stroke-linejoin="round"/>
<path d="M35.5,639 36.9,639 38.3,639 39.7,639 41.1,639 42.5,639 43.9,639 45.3,639 46.7,639 48.1,639 49.5,639 50.9,639 52.3,639 53.7,639 55.1,639 56.5,639 57.9,639 59.3,639 60.7,639 62.1,639 63.5,639 64.9,638.9 66.3,638.9 67.7,638.9 69.1,638.9 70.5,638.9 71.9,638.8 73.3,638.8 74.7,638.8 76.1,638.7 77.5,638.7 78.9,638.6 80.3,638.5 81.7,638.4 83.1,638.3 84.5,638.2 85.9,638 87.3,637.9 88.7,637.7 90.1,637.5 91.5,637.2 92.9,636.9 94.3,636.6 95.7,636.2 97.1,635.8 98.5,635.3 99.9,634.7 101.3,634.1 102.7,633.4 104.1,632.7 105.5,631.8 106.8,630.9 108.2,629.9 109.6,628.8 111,627.6 112.4,626.2 113.8,624.8 115.2,623.2 116.6,621.5 118,619.7 119.4,617.8 120.8,615.7 122.2,613.5 123.6,611.2 125,608.8 126.4,606.3 127.8,604 129.2,600.8 130.6,598.1 132,595.5 133.4,592.7 134.8,589.4 136.2,585.2 137.6,581.8 139,579.2 140.4,575.8 141.8,573.4 143.2,570 144.6,566.8 146,564.4 147.4,561.4 148.8,558.1 150.2,555.6 151.6,553.4 153,550.3 154.4,548.3 155.8,545.7 157.2,544.2 158.6,542.6 160,540.9 161.4,539.7 162.8,538.7 164.2,537.6 165.6,536.3 167,535.5 168.4,534.5 169.8,535.1 171.2,533.8 172.6,533.2 174,532.3 175.4,532 176.8,531.4 178.2,530.3 179.6,530 181,530 182.4,528.4 183.8,528.1 185.2,528.4 186.6,527.5 188,527.9 189.4,527 190.8,527.6 192.2,528 193.6,528.2 195,528.9 196.4,529.3 197.8,530.3 199.2,531.6 200.6,533.3 202,536.5 203.4,536.9 204.8,540.1 206.2,541.6 207.6,543.8 209,546.8 210.4,549.8 211.8,552.5 213.2,555.4 214.6,558.5 216,561.5 217.4,564.6 218.8,566.7 220.2,570.3 221.6,572.9 223,576.5 224.4,579.3 225.8,582.4 227.2,585.1 228.6,587.9 230,591 231.4,594.2 232.8,596.9 234.2,598.5 235.6,601.9 237,604.4 238.4,606.7 239.8,609 241.2,611.2 242.6,613.3 244,615.3 245.4,617.2 246.7,618.9 248.1,620.6 249.5,622.2 250.9,623.7 252.3,625.1 253.7,626.4 255.1,627.6 256.5,628.7 257.9,629.7 259.3,630.7 260.7,631.5 262.1,632.3 263.5,633.1 264.9,633.7 266.3,634.3 267.7,634.8 269.1,635.3 270.5,635.8 271.9,636.2 273.3,636.5 274.7,636.8 276.1,637.1 277.5,637.4 278.9,637.6 280.3,637.8 281.7,637.9 283.1,638.1 284.5,638.2 285.9,638.3 287.3,638.4 288.7,638.5 290.1,638.6 291.5,638.6 292.9,638.7 294.3,638.7 295.7,638.8 297.1,638.8 298.5,638.9 299.9,638.9 301.3,638.9 302.7,638.9 304.1,638.9 305.5,638.9 306.9,639 308.3,639 309.7,639 311.1,639 312.5,639 313.9,639 315.3,639" fill="none" stroke="#8232d2" stroke-width="1.5" stroke-linejoin="round"/>
<path d="M35.5,639 36.9,639 38.3,639 39.7,639 41.1,639 42.5,639 43.9,639 45.3,639 46.7,639 48.1,639 49.5,639 50.9,639 52.3,639 53.7,639 55.1,639 56.5,639 57.9,639 59.3,639 60.7,639 62.1,639 63.5,639 64.9,638.9 66.3,638.9 67.7,638.9 69.1,638.9 70.5,638.9 71.9,638.9 73.3,638.8 74.7,638.8 76.1,638.7 77.5,638.7 78.9,638.6 80.3,638.6 81.7,638.5 83.1,638.4 84.5,638.3 85.9,638.1 87.3,638 88.7,637.8 90.1,637.6 91.5,637.4 92.9,637.1 94.3,636.8 95.7,636.4 97.1,636 98.5,635.6 99.9,635.1 101.3,634.5 102.7,633.9 104.1,633.2 105.5,632.4 106.8,631.6 108.2,630.6 109.6,629.6 111,628.4 112.4,627.2 113.8,625.8 115.2,624.4 116.6,622.8 118,621.1 119.4,619.3 120.8,617.3 122.2,615.3 123.6,613.1 125,610.8 126.4,608.3 127.8,605.8 129.2,603 130.6,600.3 132,597.2 133.4,595 134.8,592 136.2,589.1 137.6,586 139,582.6 140.4,580.2 141.8,576.9 143.2,573.1 144.6,570.4 146,567.3 147.4,565.4 148.8,562.1 150.2,559.4 151.6,556.6 153,554.5 154.4,551.6 155.8,549.9 157.2,548 158.6,546.3 160,544.4 161.4,543.6 162.8,541.7 164.2,541 165.6,540.3 167,539.6 168.4,538.7 169.8,537.8 171.2,537.2 172.6,536.8 174,535.9 175.4,535.6 176.8,534.5 178.2,534.4 179.6,534.6 181,532.4 182.4,532.2 183.8,532.1 185.2,530.9 186.6,530.5 188,528.5 189.4,528.7 190.8,529.1 192.2,527.7 193.6,527.8 195,526.6 196.4,528 197.8,528.8 199.2,528.2 200.6,529.1 202,530.2 203.4,532.2 204.8,532.6 206.2,534 207.6,537.7 209,538.7 210.4,541.9 211.8,543.2 213.2,546.7 214.6,549.7 216,551.9 217.4,555.1 218.8,558.5 220.2,560.9 221.6,564.5 223,568.1 224.4,569.4 225.8,573.6 227.2,576.8 228.6,579.4 230,583.3 231.4,586.2 232.8,588.7 234.2,591.6 235.6,594.2 237,596.4 238.4,599.8 239.8,602 241.2,604.4 242.6,607.1 244,609.4 245.4,611.6 246.7,613.7 248.1,615.7 249.5,617.6 250.9,619.4 252.3,621.1 253.7,622.6 255.1,624.1 256.5,625.5 257.9,626.8 259.3,628 260.7,629.1 262.1,630.1 263.5,631 264.9,631.8 266.3,632.6 267.7,633.3 269.1,634 270.5,634.5 271.9,635.1 273.3,635.5 274.7,636 276.1,636.3 277.5,636.7 278.9,637 280.3,637.2 281.7,637.5 283.1,637.7 284.5,637.9 285.9,638 287.3,638.2 288.7,638.3 290.1,638.4 291.5,638.5 292.9,638.6 294.3,638.6 295.7,638.7 297.1,638.7 298.5,638.8 299.9,638.8 301.3,638.8 302.7,638.9 304.1,638.9 305.5,638.9 306.9,638.9 308.3,638.9 309.7,638.9 311.1,639 312.5,639 313.9,639 315.3,639" fill="none" stroke="#9b37c8" stroke-width="1.5" stroke-linejoin="round"/>
<path d="M35.5,639 36.9,639 38.3,639 39.7,639 41.1,639 42.5,639 43.9,639 45.3,639 46.7,639 48.1,639 49.5,639 50.9,639 52.3,639 53.7,639 55.1,639 56.5,639 57.9,639 59.3,639 60.7,639 62.1,639 63.5,639 64.9,639 66.3,638.9 67.7,638.9 69.1,638.9 70.5,638.9 71.9,638.9 73.3,638.8 74.7,638.8 76.1,638.8 77.5,638.7 78.9,638.7 80.3,638.6 81.7,638.5 83.1,638.5 84.5,638.4 85.9,638.2 87.3,638.1 88.7,637.9 90.1,637.8 91.5,637.5 92.9,637.3 94.3,637 95.7,636.7 97.1,636.4 98.5,635.9 99.9,635.5 101.3,635 102.7,634.4 104.1,633.8 105.5,633 106.8,632.2 108.2,631.4 109.6,630.4 111,629.4 112.4,628.2 113.8,626.9 115.2,625.6 116.6,624.1 118,622.5 119.4,620.8 120.8,619 122.2,617 123.6,615 125,612.8 126.4,610.5 127.8,608.1 129.2,605.3 130.6,602 132,600.5 133.4,597.5 134.8,594.2 136.2,591.2 137.6,588.4 139,586.4 140.4,582.5 141.8,580.2 143.2,577 144.6,573.5 146,570.9 147.4,567.6 148.8,563.8 150.2,562.2 151.6,559.7 153,558 154.4,555.7 155.8,553.8 157.2,551.6 158.6,550.1 160,548.3 161.4,546.7 162.8,545.9 164.2,545 165.6,544.1 167,542.6 168.4,542.1 169.8,541 171.2,540.4 172.6,540.4 174,539.3 175.4,539.6 176.8,537.4 178.2,537.2 179.6,537.1 181,536.8 182.4,535.3 183.8,535.5 185.2,534.2 186.6,532.7 188,532.1 189.4,531.5 190.8,530 192.2,530.1 193.6,528.9 195,528.6 196.4,528.3 197.8,527.4 199.2,527.9 200.6,526.8 202,528.2 203.4,527.7 204.8,530 206.2,530.5 207.6,532.8 209,534.8 210.4,536.2 211.8,538.3 213.2,541.6 214.6,543 216,546.5 217.4,548.8 218.8,551.4 220.2,554.2 221.6,558.2 223,559.7 224.4,563.2 225.8,566.7 227.2,570 228.6,573.4 230,576.4 231.4,578.6 232.8,582 234.2,585.4 235.6,588.1 237,590.1 238.4,593.8 239.8,596.7 241.2,598.6 242.6,601.6 244,604.3 245.4,606.8 246.7,609.1 248.1,611.3 249.5,613.5 250.9,615.5 252.3,617.4 253.7,619.2 255.1,620.9 256.5,622.5 257.9,624 259.3,625.4 260.7,626.7 262.1,627.9 263.5,629 264.9,630 266.3,631 267.7,631.8 269.1,632.6 270.5,633.3 271.9,634 273.3,634.5 274.7,635.1 276.1,635.5 277.5,636 278.9,636.3 280.3,636.7 281.7,637 283.1,637.2 284.5,637.5 285.9,637.7 287.3,637.9 288.7,638 290.1,638.2 291.5,638.3 292.9,638.4 294.3,638.5 295.7,638.6 297.1,638.6 298.5,638.7 299.9,638.7 301.3,638.8 302.7,638.8 304.1,638.8 305.5,638.9 306.9,638.9 308.3,638.9 309.7,638.9 311.1,638.9 312.5,639 313.9,639 315.3,639" fill="none" stroke="#b941b9" stroke-width="1.5" stroke-linejoin="round"/>
<path d="M35.5,639 36.9,639 38.3,639 39.7,639 41.1,639 42.5,639 43.9,639 45.3,639 46.7,639 48.1,639 49.5,639 50.9,639 52.3,639 53.7,639 55.1,639 56.5,639 57.9,639 59.3,639 60.7,639 62.1,639 63.5,639 64.9,639 66.3,639 67.7,638.9 69.1,638.9 70.5,638.9 71.9,638.9 73.3,638.9 74.7,638.8 76.1,638.8 77.5,638.8 78.9,638.7 80.3,638.7 81.7,638.6 83.1,638.5 84.5,638.4 85.9,638.3 87.3,638.2 88.7,638 90.1,637.9 91.5,637.7 92.9,637.4 94.3,637.2 95.7,636.9 97.1,636.6 98.5,636.2 99.9,635.7 101.3,635.3 102.7,634.7 104.1,634.1 105.5,633.5 106.8,632.7 108.2,631.9 109.6,631 111,630 112.4,628.9 113.8,627.7 115.2,626.4 116.6,625 118,623.5 119.4,621.9 120.8,620.2 122.2,618.3 123.6,616.3 125,614.3 126.4,612.1 127.8,609.8 129.2,607.4 130.6,604.6 132,602.7 133.4,599.9 134.8,597.8 136.2,593.5 137.6,592 139,587.9 140.4,585.7 141.8,582.8 143.2,579.6 144.6,576.5 146,573.5 147.4,570.2 148.8,568.1 150.2,565.3 151.6,563.5 153,560.5 154.4,558.5 155.8,556.7 157.2,554.7 158.6,552.9 160,551.2 161.4,549.8 162.8,549 164.2,548 165.6,546.5 167,546.9 168.4,545.8 169.8,544.2 171.2,545.5 172.6,544.1 174,542.9 175.4,543.4 176.8,540.9 178.2,542.6 179.6,540.1 181,539.3 182.4,538.8 183.8,538.5 185.2,537.3 186.6,536.9 188,535.1 189.4,534.9 190.8,533.5 192.2,531.9 193.6,531.8 195,530.5 196.4,529.4 197.8,529.3 199.2,527.6 200.6,527.6 202,528.2 203.4,527.6 204.8,528.2 206.2,528.8 207.6,529.4 209,531 210.4,531.9 211.8,534.6 213.2,535.9 214.6,538.7 216,540.6 217.4,543.8 218.8,546.3 220.2,549.3 221.6,551.4 223,554.1 224.4,556.5 225.8,559.9 227.2,563.4 228.6,566.7 230,569.5 231.4,572.8 232.8,575.3 234.2,578.6 235.6,582.5 237,585.4 238.4,587.5 239.8,590.9 241.2,594.1 242.6,596.2 244,599.7 245.4,602.2 246.7,604.9 248.1,607.1 249.5,609.4 250.9,611.7 252.3,613.8 253.7,615.8 255.1,617.7 256.5,619.6 257.9,621.2 259.3,622.8 260.7,624.3 262.1,625.7 263.5,627 264.9,628.2 266.3,629.3 267.7,630.3 269.1,631.2 270.5,632 271.9,632.8 273.3,633.5 274.7,634.1 276.1,634.7 277.5,635.2 278.9,635.7 280.3,636.1 281.7,636.5 283.1,636.8 284.5,637.1 285.9,637.3 287.3,637.6 288.7,637.8 290.1,637.9 291.5,638.1 292.9,638.2 294.3,638.3 295.7,638.4 297.1,638.5 298.5,638.6 299.9,638.7 301.3,638.7 302.7,638.8 304.1,638.8 305.5,638.8 306.9,638.9 308.3,638.9 309.7,638.9 311.1,638.9 312.5,638.9 313.9,638.9 315.3,639" fill="none" stroke="#d746a0" stroke-width="1.5" stroke-linejoin="round"/>
<path d="M35.5,639 36.9,639 38.3,639 39.7,639 41.1,639 42.5,639 43.9,639 45.3,639 46.7,639 48.1,639 49.5,639 50.9,639 52.3,639 53.7,639 55.1,639 56.5,639 57.9,639 59.3,639 60.7,639 62.1,639 63.5,639 64.9,639 66.3,639 67.7,638.9 69.1,638.9 70.5,638.9 71.9,638.9 73.3,638.9 74.7,638.9 76.1,638.8 77.5,638.8 78.9,638.7 80.3,638.7 81.7,638.6 83.1,638.5 84.5,638.5 85.9,638.4 87.3,638.2 88.7,638.1 90.1,638 91.5,637.8 92.9,637.6 94.3,637.3 95.7,637.1 97.1,636.8 98.5,636.4 99.9,636 101.3,635.6 102.7,635.1 104.1,634.5 105.5,633.9 106.8,633.2 108.2,632.4 109.6,631.6 111,630.7 112.4,629.6 113.8,628.5 115.2,627.3 116.6,626 118,624.6 119.4,623.1 120.8,621.4 122.2,619.7 123.6,617.8 125,615.9 126.4,613.8 127.8,611.6 129.2,609.3 130.6,606.9 132,604.4 133.4,601.7 134.8,599 136.2,596.1 137.6,593.6 139,591 140.4,588.2 141.8,584.8 143.2,582.3 144.6,580.3 146,577.4 147.4,574.2 148.8,572 150.2,569.4 151.6,567.2 153,564.6 154.4,562.1 155.8,559.8 157.2,558.4 158.6,555.7 160,555.1 161.4,552.3 162.8,552 164.2,551.2 165.6,550.8 167,551.1 168.4,549.3 169.8,548.5 171.2,547.2 172.6,548.1 174,546.1 175.4,546.5 176.8,545.4 178.2,546.2 179.6,544.3 181,543.8 182.4,542.5 183.8,541.9 185.2,541.4 186.6,539.4 188,538.4 189.4,537.3 190.8,535.9 192.2,534.6 193.6,533.8 195,533.2 196.4,532 197.8,529.7 199.2,529.1 200.6,528.6 202,528.2 203.4,527.6 204.8,527.5 206.2,527.8 207.6,528.5 209,528 210.4,530 211.8,531.9 213.2,534.1 214.6,535.9 216,537.5 217.4,539.8 218.8,542.7 220.2,545.1 221.6,547.9 223,551.1 224.4,552.8 225.8,556.2 227.2,558.3 228.6,562.7 230,565.6 231.4,568.2 232.8,571.9 234.2,575.5 235.6,578.4 237,581.1 238.4,584.1 239.8,587.3 241.2,589.8 242.6,592.7 244,595.8 245.4,598.7 246.7,601.5 248.1,603.8 249.5,606.5 250.9,608.9 252.3,611.2 253.7,613.3 255.1,615.4 256.5,617.3 257.9,619.2 259.3,620.9 260.7,622.5 262.1,624 263.5,625.4 264.9,626.8 266.3,628 267.7,629.1 269.1,630.1 270.5,631 271.9,631.9 273.3,632.7 274.7,633.4 276.1,634 277.5,634.6 278.9,635.1 280.3,635.6 281.7,636 283.1,636.4 284.5,636.7 285.9,637 287.3,637.3 288.7,637.5 290.1,637.7 291.5,637.9 292.9,638.1 294.3,638.2 295.7,638.3 297.1,638.4 298.5,638.5 299.9,638.6 301.3,638.6 302.7,638.7 304.1,638.8 305.5,638.8 306.9,638.8 308.3,638.9 309.7,638.9 311.1,638.9 312.5,638.9 313.9,638.9 315.3,638.9" fill="none" stroke="#e65f96" stroke-width="1.5" stroke-linejoin="round"/>
<path d="M35.5,639 36.9,639 38.3,639 39.7,639 41.1,639 42.5,639 43.9,639 45.3,639 46.7,639 48.1,639 49.5,639 50.9,639 52.3,639 53.7,639 55.1,639 56.5,639 57.9,639 59.3,639 60.7,639 62.1,639 63.5,639 64.9,639 66.3,639 67.7,639 69.1,638.9 70.5,638.9 71.9,638.9 73.3,638.9 74.7,638.9 76.1,638.8 77.5,638.8 78.9,638.8 80.3,638.7 81.7,638.7 83.1,638.6 84.5,638.5 85.9,638.5 87.3,638.4 88.7,638.2 90.1,638.1 91.5,637.9 92.9,637.8 94.3,637.6 95.7,637.3 97.1,637.1 98.5,636.7 99.9,636.4 101.3,636 102.7,635.6 104.1,635.1 105.5,634.5 106.8,633.9 108.2,633.2 109.6,632.4 111,631.6 112.4,630.7 113.8,629.6 115.2,628.5 116.6,627.3 118,626 119.4,624.6 120.8,623.1 122.2,621.5 123.6,619.8 125,617.9 126.4,616 127.8,613.9 129.2,611.8 130.6,609.5 132,607.1 133.4,604.9 134.8,602.5 136.2,599 137.6,596.3 139,594.1 140.4,592.3 141.8,589 143.2,585.7 144.6,583.2 146,579.8 147.4,578.4 148.8,574.8 150.2,572.9 151.6,569.5 153,567.8 154.4,565 155.8,563.7 157.2,562 158.6,560.1 160,558.2 161.4,556.9 162.8,554.5 164.2,553.3 165.6,552.8 167,552.5 168.4,551.4 169.8,551.1 171.2,549.5 172.6,549.5 174,548.9 175.4,548.7 176.8,548.9 178.2,547.7 179.6,547.2 181,545.8 182.4,545.1 183.8,544.7 185.2,543.5 186.6,541.6 188,541.6 189.4,540.4 190.8,538.9 192.2,537.8 193.6,536.3 195,534.5 196.4,532.7 197.8,533 199.2,531 200.6,529.9 202,529 203.4,528.3 204.8,527.9 206.2,527.1 207.6,527.8 209,528 210.4,528.6 211.8,529.6 213.2,531.2 214.6,532.4 216,534.9 217.4,536.9 218.8,539.3 220.2,542.1 221.6,544.6 223,547.3 224.4,549.5 225.8,552.7 227.2,555.8 228.6,558.2 230,561.1 231.4,565.2 232.8,566.8 234.2,570.7 235.6,573.9 237,576.5 238.4,580.1 239.8,583.5 241.2,585.3 242.6,589.8 244,592.3 245.4,594.7 246.7,598.4 248.1,600.7 249.5,603.1 250.9,605.8 252.3,608.2 253.7,610.5 255.1,612.7 256.5,614.8 257.9,616.8 259.3,618.7 260.7,620.4 262.1,622.1 263.5,623.6 264.9,625.1 266.3,626.4 267.7,627.7 269.1,628.8 270.5,629.8 271.9,630.8 273.3,631.7 274.7,632.5 276.1,633.2 277.5,633.9 278.9,634.5 280.3,635 281.7,635.5 283.1,635.9 284.5,636.3 285.9,636.7 287.3,637 288.7,637.2 290.1,637.5 291.5,637.7 292.9,637.9 294.3,638 295.7,638.2 297.1,638.3 298.5,638.4 299.9,638.5 301.3,638.6 302.7,638.6 304.1,638.7 305.5,638.7 306.9,638.8 308.3,638.8 309.7,638.8 311.1,638.9 312.5,638.9 313.9,638.9 315.3,638.9" fill="none" stroke="#f0416e" stroke-width="1.5" stroke-linejoin="round"/>
<path d="M35.5,639 36.9,639 38.3,639 39.7,639 41.1,639 42.5,639 43.9,639 45.3,639 46.7,639 48.1,639 49.5,639 50.9,639 52.3,639 53.7,639 55.1,639 56.5,639 57.9,639 59.3,639 60.7,639 62.1,639 63.5,639 64.9,639 66.3,639 67.7,639 69.1,639 70.5,638.9 71.9,638.9 73.3,638.9 74.7,638.9 76.1,638.9 77.5,638.9 78.9,638.8 80.3,638.8 81.7,638.7 83.1,638.7 84.5,638.6 85.9,638.6 87.3,638.5 88.7,638.4 90.1,638.3 91.5,638.1 92.9,638 94.3,637.8 95.7,637.6 97.1,637.3 98.5,637.1 99.9,636.8 101.3,636.4 102.7,636 104.1,635.6 105.5,635.1 106.8,634.6 108.2,634 109.6,633.3 111,632.5 112.4,631.7 113.8,630.8 115.2,629.8 116.6,628.7 118,627.5 119.4,626.2 120.8,624.9 122.2,623.4 123.6,621.8 125,620.1 126.4,618.3 127.8,616.4 129.2,614.3 130.6,612.2 132,610 133.4,607.7 134.8,604.7 136.2,602.8 137.6,600.5 139,597.3 140.4,594.8 141.8,592.4 143.2,590.3 144.6,587.7 146,584.1 147.4,581.2 148.8,578.5 150.2,576.9 151.6,573.4 153,571.6 154.4,568.9 155.8,566.7 157.2,565.2 158.6,563.1 160,562 161.4,559.9 162.8,558.8 164.2,556.5 165.6,555.5 167,554.2 168.4,553.6 169.8,553.4 171.2,552.3 172.6,552.1 174,551.1 175.4,550.7 176.8,550.7 178.2,549.7 179.6,549.1 181,548.6 182.4,547.3 183.8,546.1 185.2,546.1 186.6,545.1 188,544.9 189.4,542.8 190.8,541.7 192.2,541.1 193.6,538.7 195,537.1 196.4,536.2 197.8,534.7 199.2,533.5 200.6,531.4 202,531.3 203.4,529.7 204.8,527.8 206.2,528 207.6,527.4 209,527.6 210.4,528.2 211.8,528.3 213.2,529 214.6,530.9 216,532 217.4,533.5 218.8,535.6 220.2,539 221.6,541.1 223,543.8 224.4,545.2 225.8,548.1 227.2,550.9 228.6,554.5 230,557.6 231.4,560 232.8,563.1 234.2,566.6 235.6,569.3 237,572.3 238.4,575.6 239.8,579.3 241.2,582.9 242.6,585.2 244,588 245.4,591.2 246.7,594.2 248.1,597.2 249.5,599.3 250.9,602.3 252.3,604.8 253.7,607.3 255.1,609.7 256.5,611.9 257.9,614.1 259.3,616.1 260.7,618 262.1,619.8 263.5,621.5 264.9,623.1 266.3,624.6 267.7,626 269.1,627.2 270.5,628.4 271.9,629.5 273.3,630.5 274.7,631.4 276.1,632.2 277.5,633 278.9,633.7 280.3,634.3 281.7,634.9 283.1,635.4 284.5,635.8 285.9,636.2 287.3,636.6 288.7,636.9 290.1,637.2 291.5,637.4 292.9,637.6 294.3,637.8 295.7,638 297.1,638.1 298.5,638.3 299.9,638.4 301.3,638.5 302.7,638.5 304.1,638.6 305.5,638.7 306.9,638.7 308.3,638.8 309.7,638.8 311.1,638.8 312.5,638.9 313.9,638.9 315.3,638.9" fill="none" stroke="#ff3732" stroke-width="1.5" stroke-linejoin="round"/>
<rect x="35.5" y="515.6" width="279.8" height="123.9" fill="none" stroke="#444" stroke-width="0.9"/>
<line x1="35.5" y1="639.5" x2="35.5" y2="642.7" stroke="#3a3a3a" stroke-width="1"/>
<text x="35.5" y="656.2" font-size="11.0" text-anchor="middle" fill="#000">650</text>
<line x1="105.45" y1="639.5" x2="105.45" y2="642.7" stroke="#3a3a3a" stroke-width="1"/>
<text x="105.45" y="656.2" font-size="11.0" text-anchor="middle" fill="#000">700</text>
<line x1="175.4" y1="639.5" x2="175.4" y2="642.7" stroke="#3a3a3a" stroke-width="1"/>
<text x="175.4" y="656.2" font-size="11.0" text-anchor="middle" fill="#000">750</text>
<line x1="245.35" y1="639.5" x2="245.35" y2="642.7" stroke="#3a3a3a" stroke-width="1"/>
<text x="245.35" y="656.2" font-size="11.0" text-anchor="middle" fill="#000">800</text>
<line x1="315.3" y1="639.5" x2="315.3" y2="642.7" stroke="#3a3a3a" stroke-width="1"/>
<text x="315.3" y="656.2" font-size="11.0" text-anchor="middle" fill="#000">850</text>
<line x1="70.47" y1="639.5" x2="70.47" y2="641.3" stroke="#3a3a3a" stroke-width="1"/>
<line x1="140.43" y1="639.5" x2="140.43" y2="641.3" stroke="#3a3a3a" stroke-width="1"/>
<line x1="210.38" y1="639.5" x2="210.38" y2="641.3" stroke="#3a3a3a" stroke-width="1"/>
<line x1="280.33" y1="639.5" x2="280.33" y2="641.3" stroke="#3a3a3a" stroke-width="1"/>
<text x="175.2" y="675.6" font-size="13.6" text-anchor="middle" fill="#000">Wavelength (nm)</text>
<text x="19.2" y="577.5" font-size="13.6" text-anchor="middle" fill="#000" transform="rotate(-90 19.2 577.5)">Normalized PL</text>
<text x="39.9" y="531.9" font-size="12.2" text-anchor="start" fill="#000">2-sun/80 min in air</text>
<rect x="45.8" y="547" width="9.6" height="9.8" fill="#2814ff"/>
<rect x="55.22" y="547" width="9.6" height="9.8" fill="#6428e1"/>
<rect x="64.64" y="547" width="9.6" height="9.8" fill="#8232d2"/>
<rect x="74.06" y="547" width="9.6" height="9.8" fill="#9b37c8"/>
<rect x="83.48" y="547" width="9.6" height="9.8" fill="#b941b9"/>
<rect x="92.9" y="547" width="9.6" height="9.8" fill="#d746a0"/>
<rect x="102.32" y="547" width="9.6" height="9.8" fill="#e65f96"/>
<rect x="111.74" y="547" width="9.6" height="9.8" fill="#f0416e"/>
<rect x="121.16" y="547" width="9.6" height="9.8" fill="#ff3732"/>
<text x="44.8" y="570.8" font-size="12.2" text-anchor="start" fill="#000">0 min → 80 min</text>
<text x="302.9" y="530.3" font-size="12.2" text-anchor="end" fill="#000">Control</text>
<text x="1.5" y="524.7" font-size="22" text-anchor="start" fill="#000" font-weight="bold">g</text>
<path d="M391.1,638.7 392.5,638.7 393.9,638.6 395.3,638.5 396.7,638.5 398.1,638.4 399.5,638.3 400.9,638.2 402.3,638.1 403.7,638 405.1,637.8 406.5,637.7 407.9,637.5 409.3,637.4 410.7,637.2 412.1,637 413.5,636.8 414.9,636.6 416.3,636.4 417.7,636.2 419.1,635.9 420.5,635.6 421.9,635.3 423.3,635 424.7,634.7 426.2,634.4 427.6,634 429,633.6 430.4,633.2 431.8,632.8 433.2,632.3 434.6,631.8 436,631.3 437.4,630.8 438.8,630.2 440.2,629.7 441.6,629.1 443,628.4 444.4,627.8 445.8,627.1 447.2,626.3 448.6,625.6 450,624.8 451.4,623.9 452.8,623 454.2,622.1 455.6,621.1 457,620.1 458.4,619 459.8,617.8 461.2,616.6 462.6,615.2 464,613.8 465.4,612.3 466.8,610.7 468.2,609 469.6,607.2 471,604.6 472.4,603.5 473.8,600 475.2,598.5 476.6,596.4 478,592.9 479.4,589.8 480.8,588.3 482.2,583.8 483.6,581.4 485,577.3 486.4,574.7 487.8,571.7 489.2,567.2 490.6,563.3 492,559.2 493.4,555.7 494.8,552.6 496.2,549.6 497.7,546.4 499.1,543.1 500.5,540.4 501.9,537.4 503.3,535.9 504.7,532.6 506.1,530.9 507.5,528.3 508.9,528 510.3,527.9 511.7,527.2 513.1,528 515.8,527.9 517.2,528.9 518.6,527.9 520,528.9 521.4,530.5 522.8,530.9 524.2,531.6 525.6,533 527,534.3 528.4,536.4 529.8,537.8 531.2,539.2 532.6,540.6 534,543.3 535.4,545.4 536.9,546.4 538.3,549.5 539.7,550.8 541.1,553.5 542.5,555.5 543.9,557.5 545.3,560.4 546.7,562.8 548.1,566 549.5,568.4 550.9,570.3 552.3,572.4 553.7,574.9 555.1,577 556.5,580.4 557.9,582.9 559.3,584.9 560.7,587.7 562.1,590.1 563.5,592.8 564.9,594.2 566.3,597.3 567.7,598.7 569.1,601.7 570.5,602.6 571.9,605.5 573.3,607 574.7,608.8 576.1,610.6 577.5,612.3 578.9,613.9 580.3,615.5 581.7,617 583.1,618.4 584.5,619.8 585.9,621.1 587.3,622.4 588.7,623.5 590.1,624.7 591.5,625.7 592.9,626.7 594.3,627.6 595.7,628.5 597.1,629.4 598.5,630.1 599.9,630.9 601.3,631.6 602.7,632.2 604.1,632.8 605.5,633.3 607,633.8 608.4,634.3 609.8,634.8 611.2,635.2 612.6,635.5 614,635.9 615.4,636.2 616.8,636.5 618.2,636.8 619.6,637 621,637.2 622.4,637.4 623.8,637.6 625.2,637.8 626.6,638 628,638.1 629.4,638.2 630.8,638.3 632.2,638.4 633.6,638.5 635,638.6 636.4,638.7 637.8,638.8 639.2,638.8 640.6,638.9 642,638.9 643.4,639 644.8,639 646.2,639 647.6,639.1 649,639.1 650.4,639.1 651.8,639.1 653.2,639.2 654.6,639.2 656,639.2 657.4,639.2 658.8,639.2 660.2,639.2 661.6,639.2 663,639.3 664.4,639.3 665.8,639.3 667.2,639.3 668.6,639.3 670,639.3 671.4,639.3 672.8,639.3" fill="none" stroke="#2814ff" stroke-width="1.5" stroke-linejoin="round"/>
<path d="M391.1,638.7 392.5,638.7 393.9,638.6 395.3,638.5 396.7,638.5 398.1,638.4 399.5,638.3 400.9,638.2 402.3,638.1 403.7,638 405.1,637.8 406.5,637.7 407.9,637.5 409.3,637.4 410.7,637.2 412.1,637 413.5,636.8 414.9,636.6 416.3,636.4 417.7,636.2 419.1,635.9 420.5,635.6 421.9,635.3 423.3,635 424.7,634.7 426.2,634.4 427.6,634 429,633.6 430.4,633.2 431.8,632.8 433.2,632.3 434.6,631.8 436,631.3 437.4,630.8 438.8,630.2 440.2,629.7 441.6,629.1 443,628.4 444.4,627.8 445.8,627.1 447.2,626.3 448.6,625.6 450,624.8 451.4,623.9 452.8,623 454.2,622.1 455.6,621.1 457,620.1 458.4,619 459.8,617.8 461.2,616.6 462.6,615.2 464,613.8 465.4,612.3 466.8,610.7 468.2,609 469.6,607.2 471,604.7 472.4,602.6 473.8,601.1 475.2,598 476.6,595.9 478,593.4 479.4,590.4 480.8,588.3 482.2,584.9 483.6,581.3 485,577.7 486.4,574.7 487.8,571 489.2,567 490.6,563.1 492,559.8 493.4,555.9 494.8,553.1 496.2,549.6 497.7,546 499.1,543.1 500.5,540.2 501.9,536.5 503.3,534.9 504.7,533.1 506.1,530.6 507.5,528.6 508.9,528.3 510.3,527.1 511.7,527.6 513.1,527.7 515.7,528 517.1,528.1 518.5,527.7 519.9,529.7 521.3,529.2 522.7,531.4 524.1,532.1 525.5,532.8 526.9,534.2 528.3,535.8 529.7,538.3 531.1,539.1 532.5,541.5 533.9,541.8 535.3,545 536.7,546.9 538.1,549.6 539.5,551.5 540.9,554.2 542.3,555.5 543.7,558.4 545.1,560.4 546.5,563.4 547.9,565.8 549.3,567.5 550.7,571 552.1,573.9 553.5,575.4 554.9,578.6 556.3,580.7 557.7,582.5 559.1,585.7 560.5,587.3 561.9,590.4 563.3,591.7 564.7,594 566.1,597 567.5,599.1 568.9,601.4 570.3,603 571.7,604.5 573.1,607 574.5,608.8 575.9,610.6 577.3,612.3 578.7,613.9 580.1,615.5 581.5,617 582.9,618.4 584.4,619.8 585.8,621.1 587.2,622.4 588.6,623.5 590,624.7 591.4,625.7 592.8,626.7 594.2,627.6 595.6,628.5 597,629.4 598.4,630.1 599.8,630.9 601.2,631.6 602.6,632.2 604,632.8 605.4,633.3 606.8,633.8 608.2,634.3 609.6,634.8 611,635.2 612.4,635.5 613.8,635.9 615.2,636.2 616.6,636.5 618,636.8 619.4,637 620.8,637.2 622.2,637.4 623.6,637.6 625,637.8 626.4,638 627.8,638.1 629.2,638.2 630.6,638.3 632,638.4 633.4,638.5 634.8,638.6 636.2,638.7 637.6,638.8 639,638.8 640.4,638.9 641.8,638.9 643.2,639 644.6,639 646,639 647.4,639.1 648.8,639.1 650.2,639.1 651.6,639.1 653,639.2 654.5,639.2 655.9,639.2 657.3,639.2 658.7,639.2 660.1,639.2 661.5,639.2 662.9,639.3 664.3,639.3 665.7,639.3 667.1,639.3 668.5,639.3 669.9,639.3 671.3,639.3 672.7,639.3" fill="none" stroke="#6428e1" stroke-width="1.5" stroke-linejoin="round"/>
<path d="M391.1,638.7 392.5,638.7 393.9,638.6 395.3,638.5 396.7,638.5 398.1,638.4 399.5,638.3 400.9,638.2 402.3,638.1 403.7,638 405.1,637.8 406.5,637.7 407.9,637.5 409.3,637.4 410.7,637.2 412.1,637 413.5,636.8 414.9,636.6 416.3,636.4 417.7,636.2 419.1,635.9 420.5,635.6 421.9,635.3 423.3,635 424.7,634.7 426.2,634.4 427.6,634 429,633.6 430.4,633.2 431.8,632.8 433.2,632.3 434.6,631.8 436,631.3 437.4,630.8 438.8,630.2 440.2,629.7 441.6,629.1 443,628.4 444.4,627.8 445.8,627.1 447.2,626.3 448.6,625.6 450,624.8 451.4,623.9 452.8,623 454.2,622.1 455.6,621.1 457,620.1 458.4,619 459.8,617.8 461.2,616.6 462.6,615.2 464,613.8 465.4,612.3 466.8,610.7 468.2,609 469.6,607.2 471,605.3 472.4,603.3 473.8,600.9 475.2,598.1 476.6,595.9 478,593.1 479.4,591.5 480.8,587.1 482.2,583.5 483.6,580.7 485,578.1 486.4,574.9 487.8,570.9 489.2,567.8 490.6,563.4 492,560.3 493.4,556.1 494.8,552.3 496.2,550.4 497.7,546 499.1,543.3 500.5,540.6 501.9,537.5 503.3,534.9 504.7,532.2 506.1,531.5 507.5,528.9 508.9,527.4 510.3,527.4 511.7,527.2 513.1,527.5 515.5,528.2 516.9,527.8 518.3,528.3 519.7,528.8 521.1,528.8 522.5,530.6 523.9,531.8 525.3,532.5 526.7,535.1 528.1,536.5 529.5,537.7 530.9,539.5 532.3,540.7 533.7,543.1 535.1,544.1 536.5,546.3 537.9,548.8 539.3,551.5 540.7,553.3 542.1,555.5 543.5,558.8 544.9,560.5 546.3,562.8 547.7,565.5 549.1,567.4 550.5,570 551.9,573.4 553.3,575.5 554.7,578.4 556.1,580.2 557.5,583.3 558.9,584.9 560.3,587.6 561.8,589.6 563.2,592.4 564.6,595.3 566,596 567.4,599 568.8,600.4 570.2,602.9 571.6,604.8 573,607 574.4,608.8 575.8,610.6 577.2,612.3 578.6,613.9 580,615.5 581.4,617 582.8,618.4 584.2,619.8 585.6,621.1 587,622.4 588.4,623.5 589.8,624.7 591.2,625.7 592.6,626.7 594,627.6 595.4,628.5 596.8,629.4 598.2,630.1 599.6,630.9 601,631.6 602.4,632.2 603.8,632.8 605.2,633.3 606.6,633.8 608,634.3 609.4,634.8 610.8,635.2 612.2,635.5 613.6,635.9 615,636.2 616.4,636.5 617.8,636.8 619.2,637 620.6,637.2 622,637.4 623.4,637.6 624.8,637.8 626.2,638 627.6,638.1 629,638.2 630.4,638.3 631.9,638.4 633.3,638.5 634.7,638.6 636.1,638.7 637.5,638.8 638.9,638.8 640.3,638.9 641.7,638.9 643.1,639 644.5,639 645.9,639 647.3,639.1 648.7,639.1 650.1,639.1 651.5,639.1 652.9,639.2 654.3,639.2 655.7,639.2 657.1,639.2 658.5,639.2 659.9,639.2 661.3,639.2 662.7,639.3 664.1,639.3 665.5,639.3 666.9,639.3 668.3,639.3 669.7,639.3 671.1,639.3 672.5,639.3" fill="none" stroke="#8232d2" stroke-width="1.5" stroke-linejoin="round"/>
<path d="M391.1,638.7 392.5,638.7 393.9,638.6 395.3,638.5 396.7,638.5 398.1,638.4 399.5,638.3 400.9,638.2 402.3,638.1 403.7,638 405.1,637.8 406.5,637.7 407.9,637.5 409.3,637.4 410.7,637.2 412.1,637 413.5,636.8 414.9,636.6 416.3,636.4 417.7,636.2 419.1,635.9 420.5,635.6 421.9,635.3 423.3,635 424.7,634.7 426.2,634.4 427.6,634 429,633.6 430.4,633.2 431.8,632.8 433.2,632.3 434.6,631.8 436,631.3 437.4,630.8 438.8,630.2 440.2,629.7 441.6,629.1 443,628.4 444.4,627.8 445.8,627.1 447.2,626.3 448.6,625.6 450,624.8 451.4,623.9 452.8,623 454.2,622.1 455.6,621.1 457,620.1 458.4,619 459.8,617.8 461.2,616.6 462.6,615.2 464,613.8 465.4,612.3 466.8,610.7 468.2,609 469.6,607.2 471,605.6 472.4,603 473.8,600.1 475.2,598.8 476.6,596 478,592.8 479.4,590.9 480.8,588 482.2,585 483.6,581.1 485,577.7 486.4,574.6 487.8,571 489.2,566.8 490.6,563.4 492,560.7 493.4,556.5 494.8,552.9 496.2,549.2 497.7,546.2 499.1,543.2 500.5,540.2 501.9,538.1 503.3,534.8 504.7,532.9 506.1,530.6 507.5,529.9 508.9,528.5 510.3,528.1 511.7,527.9 513.1,527.2 515.3,527.9 516.7,527.8 518.1,529 519.5,529.1 520.9,530.7 522.3,531.1 523.7,532.2 525.1,532.9 526.5,534.5 527.9,536.1 529.3,537.2 530.7,539.2 532.1,540.8 533.5,542.6 534.9,544.9 536.3,547.1 537.7,549 539.2,551.5 540.6,553.4 542,555.4 543.4,557.9 544.8,560.9 546.2,563.7 547.6,565.6 549,568.2 550.4,570.1 551.8,573.3 553.2,575.7 554.6,577.7 556,580.7 557.4,583 558.8,584.6 560.2,587.1 561.6,589.8 563,592.3 564.4,595.1 565.8,596.6 567.2,599 568.6,601 570,603.3 571.4,605.1 572.8,607 574.2,608.8 575.6,610.6 577,612.3 578.4,613.9 579.8,615.5 581.2,617 582.6,618.4 584,619.8 585.4,621.1 586.8,622.4 588.2,623.5 589.6,624.7 591,625.7 592.4,626.7 593.8,627.6 595.2,628.5 596.6,629.4 598,630.1 599.4,630.9 600.8,631.6 602.2,632.2 603.6,632.8 605,633.3 606.4,633.8 607.8,634.3 609.3,634.8 610.7,635.2 612.1,635.5 613.5,635.9 614.9,636.2 616.3,636.5 617.7,636.8 619.1,637 620.5,637.2 621.9,637.4 623.3,637.6 624.7,637.8 626.1,638 627.5,638.1 628.9,638.2 630.3,638.3 631.7,638.4 633.1,638.5 634.5,638.6 635.9,638.7 637.3,638.8 638.7,638.8 640.1,638.9 641.5,638.9 642.9,639 644.3,639 645.7,639 647.1,639.1 648.5,639.1 649.9,639.1 651.3,639.1 652.7,639.2 654.1,639.2 655.5,639.2 656.9,639.2 658.3,639.2 659.7,639.2 661.1,639.2 662.5,639.3 663.9,639.3 665.3,639.3 666.7,639.3 668.1,639.3 669.5,639.3 670.9,639.3 672.3,639.3" fill="none" stroke="#9b37c8" stroke-width="1.5" stroke-linejoin="round"/>
<path d="M391.1,638.7 392.5,638.7 393.9,638.6 395.3,638.5 396.7,638.5 398.1,638.4 399.5,638.3 400.9,638.2 402.3,638.1 403.7,638 405.1,637.8 406.5,637.7 407.9,637.5 409.3,637.4 410.7,637.2 412.1,637 413.5,636.8 414.9,636.6 416.3,636.4 417.7,636.2 419.1,635.9 420.5,635.6 421.9,635.3 423.3,635 424.7,634.7 426.2,634.4 427.6,634 429,633.6 430.4,633.2 431.8,632.8 433.2,632.3 434.6,631.8 436,631.3 437.4,630.8 438.8,630.2 440.2,629.7 441.6,629.1 443,628.4 444.4,627.8 445.8,627.1 447.2,626.3 448.6,625.6 450,624.8 451.4,623.9 452.8,623 454.2,622.1 455.6,621.1 457,620.1 458.4,619 459.8,617.8 461.2,616.6 462.6,615.2 464,613.8 465.4,612.3 466.8,610.7 468.2,609 469.6,607.2 471,605.4 472.4,603.6 473.8,601.4 475.2,598.5 476.6,595 478,593.1 479.4,590.3 480.8,588.3 482.2,584.6 483.6,581.9 485,577.6 486.4,574.6 487.8,571 489.2,567.5 490.6,564 492,560.8 493.4,556.3 494.8,553.6 496.2,550 497.7,546.3 499.1,543.3 500.5,539.9 501.9,536.8 503.3,534.7 504.7,532.6 506.1,530.9 507.5,529 508.9,529.2 510.3,527.5 511.7,527.8 513.1,528 515.1,527.7 516.6,528.2 518,528.3 519.4,528.7 520.8,531 522.2,531 523.6,531.1 525,532.8 526.4,533.9 527.8,536 529.2,538.2 530.6,539.8 532,540.7 533.4,542.5 534.8,545.2 536.2,547.1 537.6,549 539,552.1 540.4,553.8 541.8,555.2 543.2,557.3 544.6,560.8 546,562.3 547.4,565.9 548.8,568.5 550.2,571.6 551.6,572.7 553,575.8 554.4,577 555.8,580.4 557.2,582.9 558.6,586.2 560,587.1 561.4,590.3 562.8,592.5 564.2,595.6 565.6,596.4 567,598.5 568.4,601.4 569.8,603.1 571.2,604.9 572.6,607 574,608.8 575.4,610.6 576.8,612.3 578.2,613.9 579.6,615.5 581,617 582.4,618.4 583.8,619.8 585.2,621.1 586.7,622.4 588.1,623.5 589.5,624.7 590.9,625.7 592.3,626.7 593.7,627.6 595.1,628.5 596.5,629.4 597.9,630.1 599.3,630.9 600.7,631.6 602.1,632.2 603.5,632.8 604.9,633.3 606.3,633.8 607.7,634.3 609.1,634.8 610.5,635.2 611.9,635.5 613.3,635.9 614.7,636.2 616.1,636.5 617.5,636.8 618.9,637 620.3,637.2 621.7,637.4 623.1,637.6 624.5,637.8 625.9,638 627.3,638.1 628.7,638.2 630.1,638.3 631.5,638.4 632.9,638.5 634.3,638.6 635.7,638.7 637.1,638.8 638.5,638.8 639.9,638.9 641.3,638.9 642.7,639 644.1,639 645.5,639 646.9,639.1 648.3,639.1 649.7,639.1 651.1,639.1 652.5,639.2 653.9,639.2 655.3,639.2 656.8,639.2 658.2,639.2 659.6,639.2 661,639.2 662.4,639.3 663.8,639.3 665.2,639.3 666.6,639.3 668,639.3 669.4,639.3 670.8,639.3 672.2,639.3" fill="none" stroke="#b941b9" stroke-width="1.5" stroke-linejoin="round"/>
<path d="M391.1,638.7 392.5,638.7 393.9,638.6 395.3,638.5 396.7,638.5 398.1,638.4 399.5,638.3 400.9,638.2 402.3,638.1 403.7,638 405.1,637.8 406.5,637.7 407.9,637.5 409.3,637.4 410.7,637.2 412.1,637 413.5,636.8 414.9,636.6 416.3,636.4 417.7,636.2 419.1,635.9 420.5,635.6 421.9,635.3 423.3,635 424.7,634.7 426.2,634.4 427.6,634 429,633.6 430.4,633.2 431.8,632.8 433.2,632.3 434.6,631.8 436,631.3 437.4,630.8 438.8,630.2 440.2,629.7 441.6,629.1 443,628.4 444.4,627.8 445.8,627.1 447.2,626.3 448.6,625.6 450,624.8 451.4,623.9 452.8,623 454.2,622.1 455.6,621.1 457,620.1 458.4,619 459.8,617.8 461.2,616.6 462.6,615.2 464,613.8 465.4,612.3 466.8,610.7 468.2,609 469.6,607.2 471,604.8 472.4,603.9 473.8,601.3 475.2,598.4 476.6,596.6 478,592.7 479.4,590.1 480.8,587.9 482.2,584.8 483.6,581.9 485,578.6 486.4,574.3 487.8,570.7 489.2,567.2 490.6,563.7 492,560.4 493.4,556.4 494.8,553.6 496.2,549.5 497.7,545.5 499.1,542.4 500.5,540.2 501.9,537.4 503.3,534.2 504.7,531.9 506.1,531.5 507.5,529.6 508.9,528.2 510.3,527.1 511.7,527.8 513.1,527.2 515,527.8 516.4,527 517.8,528.3 519.2,529.3 520.6,530.1 522,530.4 523.4,531.7 524.8,533.7 526.2,534.4 527.6,536.6 529,537.9 530.4,539.8 531.8,541.6 533.2,543.2 534.6,545.4 536,546.7 537.4,548.8 538.8,551.4 540.2,554.1 541.6,555.6 543,559.2 544.4,561.6 545.8,562.8 547.2,565.3 548.6,567.7 550,570.7 551.4,573.7 552.8,575.8 554.2,577.8 555.6,580.9 557,583.3 558.4,586 559.8,588.3 561.2,589.7 562.6,592.2 564.1,595.2 565.5,597.3 566.9,599.2 568.3,600.8 569.7,603.6 571.1,605.1 572.5,607 573.9,608.8 575.3,610.6 576.7,612.3 578.1,613.9 579.5,615.5 580.9,617 582.3,618.4 583.7,619.8 585.1,621.1 586.5,622.4 587.9,623.5 589.3,624.7 590.7,625.7 592.1,626.7 593.5,627.6 594.9,628.5 596.3,629.4 597.7,630.1 599.1,630.9 600.5,631.6 601.9,632.2 603.3,632.8 604.7,633.3 606.1,633.8 607.5,634.3 608.9,634.8 610.3,635.2 611.7,635.5 613.1,635.9 614.5,636.2 615.9,636.5 617.3,636.8 618.7,637 620.1,637.2 621.5,637.4 622.9,637.6 624.3,637.8 625.7,638 627.1,638.1 628.5,638.2 629.9,638.3 631.3,638.4 632.7,638.5 634.2,638.6 635.6,638.7 637,638.8 638.4,638.8 639.8,638.9 641.2,638.9 642.6,639 644,639 645.4,639 646.8,639.1 648.2,639.1 649.6,639.1 651,639.1 652.4,639.2 653.8,639.2 655.2,639.2 656.6,639.2 658,639.2 659.4,639.2 660.8,639.2 662.2,639.3 663.6,639.3 665,639.3 666.4,639.3 667.8,639.3 669.2,639.3 670.6,639.3 672,639.3" fill="none" stroke="#d746a0" stroke-width="1.5" stroke-linejoin="round"/>
<path d="M391.1,638.7 392.5,638.7 393.9,638.6 395.3,638.5 396.7,638.5 398.1,638.4 399.5,638.3 400.9,638.2 402.3,638.1 403.7,638 405.1,637.8 406.5,637.7 407.9,637.5 409.3,637.4 410.7,637.2 412.1,637 413.5,636.8 414.9,636.6 416.3,636.4 417.7,636.2 419.1,635.9 420.5,635.6 421.9,635.3 423.3,635 424.7,634.7 426.2,634.4 427.6,634 429,633.6 430.4,633.2 431.8,632.8 433.2,632.3 434.6,631.8 436,631.3 437.4,630.8 438.8,630.2 440.2,629.7 441.6,629.1 443,628.4 444.4,627.8 445.8,627.1 447.2,626.3 448.6,625.6 450,624.8 451.4,623.9 452.8,623 454.2,622.1 455.6,621.1 457,620.1 458.4,619 459.8,617.8 461.2,616.6 462.6,615.2 464,613.8 465.4,612.3 466.8,610.7 468.2,609 469.6,607.2 471,604.7 472.4,602.6 473.8,601.1 475.2,597.9 476.6,595.3 478,593.2 479.4,591 480.8,587 482.2,584.6 483.6,581.5 485,577.9 486.4,574.8 487.8,570.5 489.2,567 490.6,563.2 492,559.9 493.4,556.8 494.8,553 496.2,549.1 497.7,546.3 499.1,541.6 500.5,540.1 501.9,537.5 503.3,534.3 504.7,532.3 506.1,530.9 507.5,529.5 508.9,528.1 510.3,527.3 511.7,527.1 513.1,527.6 514.8,527.5 516.2,527.6 517.6,528.2 519,530.6 520.4,530.4 521.8,531.3 523.2,532.1 524.6,533.1 526,534.1 527.4,535.7 528.8,537.6 530.2,539.2 531.6,540.2 533,543.2 534.4,544.8 535.8,546.3 537.2,548.9 538.6,552.2 540,553.4 541.5,556.1 542.9,558.3 544.3,560.2 545.7,562.9 547.1,565.7 548.5,567.7 549.9,570.4 551.3,573 552.7,575.4 554.1,577.9 555.5,580.7 556.9,583.1 558.3,585.3 559.7,588.2 561.1,590.6 562.5,591.8 563.9,594.7 565.3,596.8 566.7,599 568.1,601 569.5,603.1 570.9,605 572.3,607 573.7,608.8 575.1,610.6 576.5,612.3 577.9,613.9 579.3,615.5 580.7,617 582.1,618.4 583.5,619.8 584.9,621.1 586.3,622.4 587.7,623.5 589.1,624.7 590.5,625.7 591.9,626.7 593.3,627.6 594.7,628.5 596.1,629.4 597.5,630.1 598.9,630.9 600.3,631.6 601.7,632.2 603.1,632.8 604.5,633.3 605.9,633.8 607.3,634.3 608.7,634.8 610.1,635.2 611.6,635.5 613,635.9 614.4,636.2 615.8,636.5 617.2,636.8 618.6,637 620,637.2 621.4,637.4 622.8,637.6 624.2,637.8 625.6,638 627,638.1 628.4,638.2 629.8,638.3 631.2,638.4 632.6,638.5 634,638.6 635.4,638.7 636.8,638.8 638.2,638.8 639.6,638.9 641,638.9 642.4,639 643.8,639 645.2,639 646.6,639.1 648,639.1 649.4,639.1 650.8,639.1 652.2,639.2 653.6,639.2 655,639.2 656.4,639.2 657.8,639.2 659.2,639.2 660.6,639.2 662,639.3 663.4,639.3 664.8,639.3 666.2,639.3 667.6,639.3 669,639.3 670.4,639.3 671.8,639.3" fill="none" stroke="#e65f96" stroke-width="1.5" stroke-linejoin="round"/>
<path d="M391.1,638.7 392.5,638.7 393.9,638.6 395.3,638.5 396.7,638.5 398.1,638.4 399.5,638.3 400.9,638.2 402.3,638.1 403.7,638 405.1,637.8 406.5,637.7 407.9,637.5 409.3,637.4 410.7,637.2 412.1,637 413.5,636.8 414.9,636.6 416.3,636.4 417.7,636.2 419.1,635.9 420.5,635.6 421.9,635.3 423.3,635 424.7,634.7 426.2,634.4 427.6,634 429,633.6 430.4,633.2 431.8,632.8 433.2,632.3 434.6,631.8 436,631.3 437.4,630.8 438.8,630.2 440.2,629.7 441.6,629.1 443,628.4 444.4,627.8 445.8,627.1 447.2,626.3 448.6,625.6 450,624.8 451.4,623.9 452.8,623 454.2,622.1 455.6,621.1 457,620.1 458.4,619 459.8,617.8 461.2,616.6 462.6,615.2 464,613.8 465.4,612.3 466.8,610.7 468.2,609 469.6,607.2 471,606 472.4,602.8 473.8,600.8 475.2,598.3 476.6,596.5 478,593.7 479.4,590.8 480.8,587.5 482.2,584.5 483.6,581.2 485,577.1 486.4,573.9 487.8,571.3 489.2,567.7 490.6,563 492,560.2 493.4,555.9 494.8,552.2 496.2,549.7 497.7,546.2 499.1,542.9 500.5,540.4 501.9,537.7 503.3,535 504.7,532.3 506.1,531 507.5,529.5 508.9,528.5 510.3,528.3 511.7,526.7 513.1,528.5 514.6,527.9 516,527.8 517.4,529.1 518.9,528.9 520.3,529.4 521.7,531.3 523.1,531.9 524.5,533.7 525.9,534.3 527.3,535.9 528.7,537.4 530.1,538.6 531.5,540.8 532.9,542.3 534.3,544.6 535.7,547.5 537.1,549 538.5,551.1 539.9,554.2 541.3,555.3 542.7,558.2 544.1,560.5 545.5,563.5 546.9,565.6 548.3,567.9 549.7,570.7 551.1,573 552.5,576.5 553.9,577.4 555.3,581 556.7,583.9 558.1,585.8 559.5,588.1 560.9,589.8 562.3,592.8 563.7,594.5 565.1,597.2 566.5,598 567.9,600.8 569.3,602.2 570.7,605.5 572.1,607 573.5,608.8 574.9,610.6 576.3,612.3 577.7,613.9 579.1,615.5 580.5,617 581.9,618.4 583.3,619.8 584.7,621.1 586.1,622.4 587.5,623.5 589,624.7 590.4,625.7 591.8,626.7 593.2,627.6 594.6,628.5 596,629.4 597.4,630.1 598.8,630.9 600.2,631.6 601.6,632.2 603,632.8 604.4,633.3 605.8,633.8 607.2,634.3 608.6,634.8 610,635.2 611.4,635.5 612.8,635.9 614.2,636.2 615.6,636.5 617,636.8 618.4,637 619.8,637.2 621.2,637.4 622.6,637.6 624,637.8 625.4,638 626.8,638.1 628.2,638.2 629.6,638.3 631,638.4 632.4,638.5 633.8,638.6 635.2,638.7 636.6,638.8 638,638.8 639.4,638.9 640.8,638.9 642.2,639 643.6,639 645,639 646.4,639.1 647.8,639.1 649.2,639.1 650.6,639.1 652,639.2 653.4,639.2 654.8,639.2 656.2,639.2 657.6,639.2 659.1,639.2 660.5,639.2 661.9,639.3 663.3,639.3 664.7,639.3 666.1,639.3 667.5,639.3 668.9,639.3 670.3,639.3 671.7,639.3" fill="none" stroke="#f0416e" stroke-width="1.5" stroke-linejoin="round"/>
<path d="M391.1,638.7 392.5,638.7 393.9,638.6 395.3,638.5 396.7,638.5 398.1,638.4 399.5,638.3 400.9,638.2 402.3,638.1 403.7,638 405.1,637.8 406.5,637.7 407.9,637.5 409.3,637.4 410.7,637.2 412.1,637 413.5,636.8 414.9,636.6 416.3,636.4 417.7,636.2 419.1,635.9 420.5,635.6 421.9,635.3 423.3,635 424.7,634.7 426.2,634.4 427.6,634 429,633.6 430.4,633.2 431.8,632.8 433.2,632.3 434.6,631.8 436,631.3 437.4,630.8 438.8,630.2 440.2,629.7 441.6,629.1 443,628.4 444.4,627.8 445.8,627.1 447.2,626.3 448.6,625.6 450,624.8 451.4,623.9 452.8,623 454.2,622.1 455.6,621.1 457,620.1 458.4,619 459.8,617.8 461.2,616.6 462.6,615.2 464,613.8 465.4,612.3 466.8,610.7 468.2,609 469.6,607.2 471,605.4 472.4,603.1 473.8,600.8 475.2,597.6 476.6,596.3 478,593.2 479.4,590.2 480.8,588 482.2,584.4 483.6,581.2 485,578.2 486.4,574.3 487.8,570.5 489.2,566.9 490.6,563.8 492,560 493.4,555.4 494.8,553.4 496.2,549.4 497.7,545.7 499.1,542.9 500.5,539.7 501.9,537.2 503.3,534.5 504.7,532.1 506.1,530.9 507.5,529.3 508.9,528.4 510.3,527.8 511.7,527.4 513.1,528 514.5,527.3 515.9,527.3 517.3,527.8 518.7,528.6 520.1,530.4 521.5,530.2 522.9,532.3 524.3,533.2 525.7,533.7 527.1,536.5 528.5,537.2 529.9,539.1 531.3,541.1 532.7,543.3 534.1,544.7 535.5,547.2 536.9,548.6 538.3,550.8 539.7,554.2 541.1,556.1 542.5,558.4 543.9,561.2 545.3,563.6 546.7,565.6 548.1,568.2 549.5,571.3 550.9,573.3 552.3,575.3 553.7,578.6 555.1,580.9 556.5,582.2 557.9,584.8 559.3,588.5 560.7,590.7 562.1,592.2 563.5,595.2 564.9,596.9 566.4,599.2 567.8,600.8 569.2,604.2 570.6,606 572,607 573.4,608.8 574.8,610.6 576.2,612.3 577.6,613.9 579,615.5 580.4,617 581.8,618.4 583.2,619.8 584.6,621.1 586,622.4 587.4,623.5 588.8,624.7 590.2,625.7 591.6,626.7 593,627.6 594.4,628.5 595.8,629.4 597.2,630.1 598.6,630.9 600,631.6 601.4,632.2 602.8,632.8 604.2,633.3 605.6,633.8 607,634.3 608.4,634.8 609.8,635.2 611.2,635.5 612.6,635.9 614,636.2 615.4,636.5 616.8,636.8 618.2,637 619.6,637.2 621,637.4 622.4,637.6 623.8,637.8 625.2,638 626.6,638.1 628,638.2 629.4,638.3 630.8,638.4 632.2,638.5 633.6,638.6 635,638.7 636.5,638.8 637.9,638.8 639.3,638.9 640.7,638.9 642.1,639 643.5,639 644.9,639 646.3,639.1 647.7,639.1 649.1,639.1 650.5,639.1 651.9,639.2 653.3,639.2 654.7,639.2 656.1,639.2 657.5,639.2 658.9,639.2 660.3,639.2 661.7,639.3 663.1,639.3 664.5,639.3 665.9,639.3 667.3,639.3 668.7,639.3 670.1,639.3 671.5,639.3" fill="none" stroke="#ff3732" stroke-width="1.5" stroke-linejoin="round"/>
<rect x="391.1" y="515.6" width="280.4" height="124.2" fill="none" stroke="#444" stroke-width="0.9"/>
<line x1="391.1" y1="639.8" x2="391.1" y2="643" stroke="#3a3a3a" stroke-width="1"/>
<text x="391.1" y="656.4" font-size="11.0" text-anchor="middle" fill="#000">650</text>
<line x1="461.2" y1="639.8" x2="461.2" y2="643" stroke="#3a3a3a" stroke-width="1"/>
<text x="461.2" y="656.4" font-size="11.0" text-anchor="middle" fill="#000">700</text>
<line x1="531.3" y1="639.8" x2="531.3" y2="643" stroke="#3a3a3a" stroke-width="1"/>
<text x="531.3" y="656.4" font-size="11.0" text-anchor="middle" fill="#000">750</text>
<line x1="601.4" y1="639.8" x2="601.4" y2="643" stroke="#3a3a3a" stroke-width="1"/>
<text x="601.4" y="656.4" font-size="11.0" text-anchor="middle" fill="#000">800</text>
<line x1="671.5" y1="639.8" x2="671.5" y2="643" stroke="#3a3a3a" stroke-width="1"/>
<text x="671.5" y="656.4" font-size="11.0" text-anchor="middle" fill="#000">850</text>
<line x1="426.15" y1="639.8" x2="426.15" y2="641.6" stroke="#3a3a3a" stroke-width="1"/>
<line x1="496.25" y1="639.8" x2="496.25" y2="641.6" stroke="#3a3a3a" stroke-width="1"/>
<line x1="566.35" y1="639.8" x2="566.35" y2="641.6" stroke="#3a3a3a" stroke-width="1"/>
<line x1="636.45" y1="639.8" x2="636.45" y2="641.6" stroke="#3a3a3a" stroke-width="1"/>
<text x="531.3" y="675.8" font-size="13.6" text-anchor="middle" fill="#000">Wavelength (nm)</text>
<text x="375.7" y="577.5" font-size="13.6" text-anchor="middle" fill="#000" transform="rotate(-90 375.7 577.5)">Normalized PL</text>
<text x="396.2" y="531.6" font-size="12.2" text-anchor="start" fill="#000">2-sun/80 min in air</text>
<rect x="400.4" y="546.8" width="9.6" height="9.9" fill="#2814ff"/>
<rect x="409.77" y="546.8" width="9.6" height="9.9" fill="#6428e1"/>
<rect x="419.14" y="546.8" width="9.6" height="9.9" fill="#8232d2"/>
<rect x="428.51" y="546.8" width="9.6" height="9.9" fill="#9b37c8"/>
<rect x="437.88" y="546.8" width="9.6" height="9.9" fill="#b941b9"/>
<rect x="447.25" y="546.8" width="9.6" height="9.9" fill="#d746a0"/>
<rect x="456.62" y="546.8" width="9.6" height="9.9" fill="#e65f96"/>
<rect x="465.99" y="546.8" width="9.6" height="9.9" fill="#f0416e"/>
<rect x="475.36" y="546.8" width="9.6" height="9.9" fill="#ff3732"/>
<text x="399.7" y="570.6" font-size="12.2" text-anchor="start" fill="#000">0 min → 80 min</text>
<text x="656.9" y="530" font-size="12.2" text-anchor="end" fill="#000">Target</text>
<text x="353.6" y="527" font-size="22" text-anchor="start" fill="#000" font-weight="bold">h</text>
</svg></body></html>
